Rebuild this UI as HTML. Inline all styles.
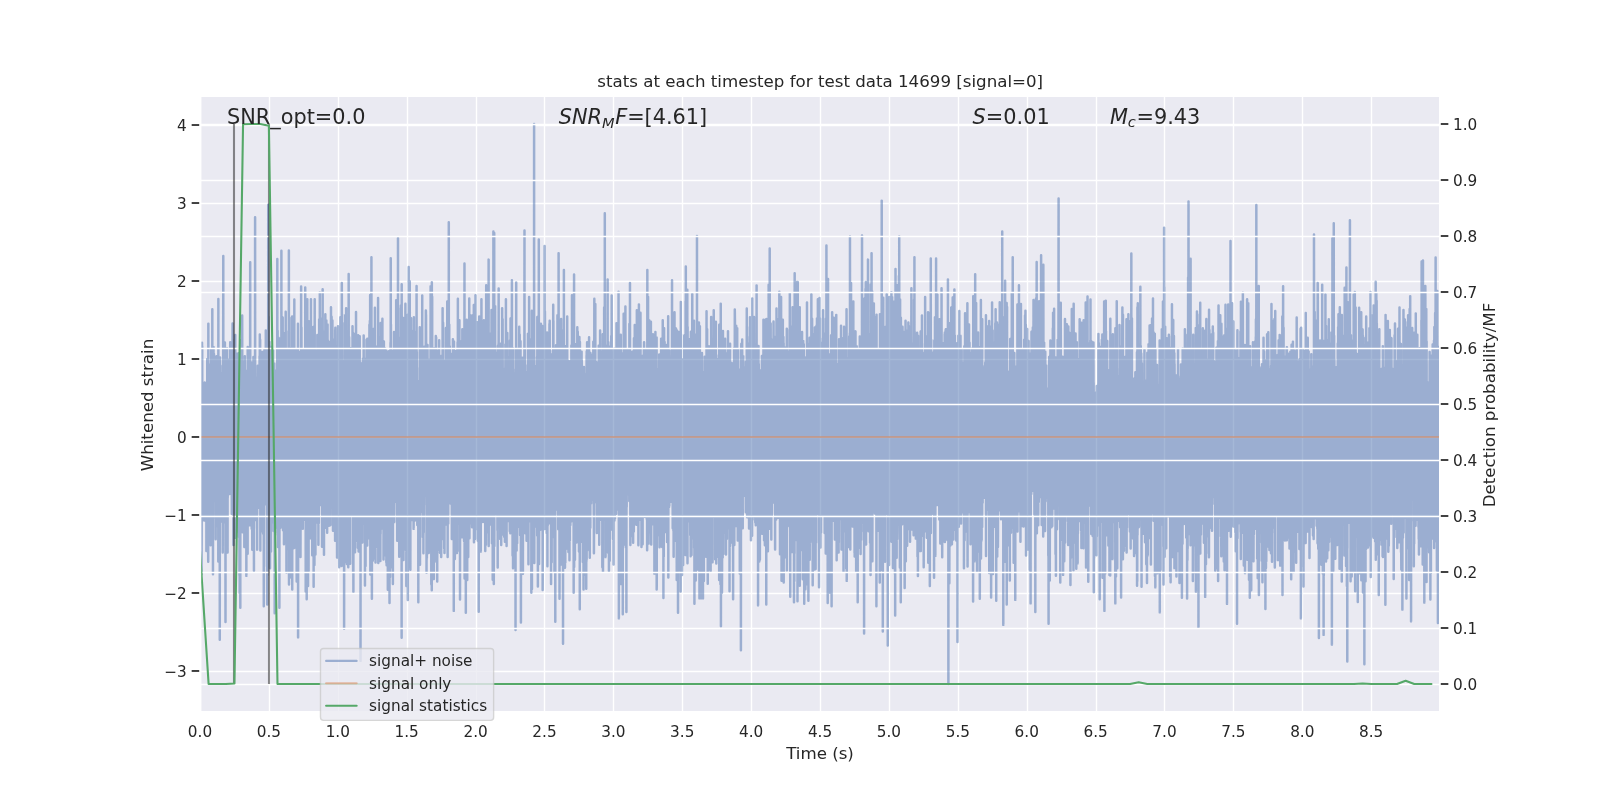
<!DOCTYPE html>
<html lang="en"><head><meta charset="utf-8"><title>stats at each timestep for test data 14699</title><style>html,body{margin:0;padding:0;background:#fff;width:1600px;height:800px;overflow:hidden;}svg{display:block;will-change:transform;}</style></head><body>
<svg width="1600" height="800" viewBox="0 0 1152 576" version="1.1">
<defs>
<style type="text/css">*{stroke-linejoin: round; stroke-linecap: butt}</style>
</defs>
<g id="figure_1">
<g id="patch_1">
<path d="M 0 576 L 1152 576 L 1152 0 L 0 0 z" style="fill: #ffffff"/>
</g>
<g id="axes_1">
<g id="patch_2">
<path d="M 144 512.64 L 1036.8 512.64 L 1036.8 69.12 L 144 69.12 z" style="fill: #eaeaf2"/>
</g>
<g id="matplotlib.axis_1">
<g id="xtick_1">
<g id="line2d_1">
<path d="M 144.36 512.64 L 144.36 69.12" clip-path="url(#pf2e12d0631)" style="fill: none; stroke: #ffffff; stroke-linecap: round"/>
</g>
<g id="text_1">
<text style="font-size: 11px; font-family: 'DejaVu Sans', sans-serif; text-anchor: middle; fill: #262626" x="144" y="530.498281" transform="rotate(-0 144 530.498281)">0.0</text>
</g>
</g>
<g id="xtick_2">
<g id="line2d_2">
<path d="M 194.04 512.64 L 194.04 69.12" clip-path="url(#pf2e12d0631)" style="fill: none; stroke: #ffffff; stroke-linecap: round"/>
</g>
<g id="text_2">
<text style="font-size: 11px; font-family: 'DejaVu Sans', sans-serif; text-anchor: middle; fill: #262626" x="193.602691" y="530.498281" transform="rotate(-0 193.602691 530.498281)">0.5</text>
</g>
</g>
<g id="xtick_3">
<g id="line2d_3">
<path d="M 243.72 512.64 L 243.72 69.12" clip-path="url(#pf2e12d0631)" style="fill: none; stroke: #ffffff; stroke-linecap: round"/>
</g>
<g id="text_3">
<text style="font-size: 11px; font-family: 'DejaVu Sans', sans-serif; text-anchor: middle; fill: #262626" x="243.205382" y="530.498281" transform="rotate(-0 243.205382 530.498281)">1.0</text>
</g>
</g>
<g id="xtick_4">
<g id="line2d_4">
<path d="M 293.4 512.64 L 293.4 69.12" clip-path="url(#pf2e12d0631)" style="fill: none; stroke: #ffffff; stroke-linecap: round"/>
</g>
<g id="text_4">
<text style="font-size: 11px; font-family: 'DejaVu Sans', sans-serif; text-anchor: middle; fill: #262626" x="292.808073" y="530.498281" transform="rotate(-0 292.808073 530.498281)">1.5</text>
</g>
</g>
<g id="xtick_5">
<g id="line2d_5">
<path d="M 343.08 512.64 L 343.08 69.12" clip-path="url(#pf2e12d0631)" style="fill: none; stroke: #ffffff; stroke-linecap: round"/>
</g>
<g id="text_5">
<text style="font-size: 11px; font-family: 'DejaVu Sans', sans-serif; text-anchor: middle; fill: #262626" x="342.410764" y="530.498281" transform="rotate(-0 342.410764 530.498281)">2.0</text>
</g>
</g>
<g id="xtick_6">
<g id="line2d_6">
<path d="M 392.04 512.64 L 392.04 69.12" clip-path="url(#pf2e12d0631)" style="fill: none; stroke: #ffffff; stroke-linecap: round"/>
</g>
<g id="text_6">
<text style="font-size: 11px; font-family: 'DejaVu Sans', sans-serif; text-anchor: middle; fill: #262626" x="392.013456" y="530.498281" transform="rotate(-0 392.013456 530.498281)">2.5</text>
</g>
</g>
<g id="xtick_7">
<g id="line2d_7">
<path d="M 441.72 512.64 L 441.72 69.12" clip-path="url(#pf2e12d0631)" style="fill: none; stroke: #ffffff; stroke-linecap: round"/>
</g>
<g id="text_7">
<text style="font-size: 11px; font-family: 'DejaVu Sans', sans-serif; text-anchor: middle; fill: #262626" x="441.616147" y="530.498281" transform="rotate(-0 441.616147 530.498281)">3.0</text>
</g>
</g>
<g id="xtick_8">
<g id="line2d_8">
<path d="M 491.4 512.64 L 491.4 69.12" clip-path="url(#pf2e12d0631)" style="fill: none; stroke: #ffffff; stroke-linecap: round"/>
</g>
<g id="text_8">
<text style="font-size: 11px; font-family: 'DejaVu Sans', sans-serif; text-anchor: middle; fill: #262626" x="491.218838" y="530.498281" transform="rotate(-0 491.218838 530.498281)">3.5</text>
</g>
</g>
<g id="xtick_9">
<g id="line2d_9">
<path d="M 541.08 512.64 L 541.08 69.12" clip-path="url(#pf2e12d0631)" style="fill: none; stroke: #ffffff; stroke-linecap: round"/>
</g>
<g id="text_9">
<text style="font-size: 11px; font-family: 'DejaVu Sans', sans-serif; text-anchor: middle; fill: #262626" x="540.821529" y="530.498281" transform="rotate(-0 540.821529 530.498281)">4.0</text>
</g>
</g>
<g id="xtick_10">
<g id="line2d_10">
<path d="M 590.76 512.64 L 590.76 69.12" clip-path="url(#pf2e12d0631)" style="fill: none; stroke: #ffffff; stroke-linecap: round"/>
</g>
<g id="text_10">
<text style="font-size: 11px; font-family: 'DejaVu Sans', sans-serif; text-anchor: middle; fill: #262626" x="590.42422" y="530.498281" transform="rotate(-0 590.42422 530.498281)">4.5</text>
</g>
</g>
<g id="xtick_11">
<g id="line2d_11">
<path d="M 640.44 512.64 L 640.44 69.12" clip-path="url(#pf2e12d0631)" style="fill: none; stroke: #ffffff; stroke-linecap: round"/>
</g>
<g id="text_11">
<text style="font-size: 11px; font-family: 'DejaVu Sans', sans-serif; text-anchor: middle; fill: #262626" x="640.026911" y="530.498281" transform="rotate(-0 640.026911 530.498281)">5.0</text>
</g>
</g>
<g id="xtick_12">
<g id="line2d_12">
<path d="M 690.12 512.64 L 690.12 69.12" clip-path="url(#pf2e12d0631)" style="fill: none; stroke: #ffffff; stroke-linecap: round"/>
</g>
<g id="text_12">
<text style="font-size: 11px; font-family: 'DejaVu Sans', sans-serif; text-anchor: middle; fill: #262626" x="689.629602" y="530.498281" transform="rotate(-0 689.629602 530.498281)">5.5</text>
</g>
</g>
<g id="xtick_13">
<g id="line2d_13">
<path d="M 739.8 512.64 L 739.8 69.12" clip-path="url(#pf2e12d0631)" style="fill: none; stroke: #ffffff; stroke-linecap: round"/>
</g>
<g id="text_13">
<text style="font-size: 11px; font-family: 'DejaVu Sans', sans-serif; text-anchor: middle; fill: #262626" x="739.232293" y="530.498281" transform="rotate(-0 739.232293 530.498281)">6.0</text>
</g>
</g>
<g id="xtick_14">
<g id="line2d_14">
<path d="M 789.48 512.64 L 789.48 69.12" clip-path="url(#pf2e12d0631)" style="fill: none; stroke: #ffffff; stroke-linecap: round"/>
</g>
<g id="text_14">
<text style="font-size: 11px; font-family: 'DejaVu Sans', sans-serif; text-anchor: middle; fill: #262626" x="788.834985" y="530.498281" transform="rotate(-0 788.834985 530.498281)">6.5</text>
</g>
</g>
<g id="xtick_15">
<g id="line2d_15">
<path d="M 838.44 512.64 L 838.44 69.12" clip-path="url(#pf2e12d0631)" style="fill: none; stroke: #ffffff; stroke-linecap: round"/>
</g>
<g id="text_15">
<text style="font-size: 11px; font-family: 'DejaVu Sans', sans-serif; text-anchor: middle; fill: #262626" x="838.437676" y="530.498281" transform="rotate(-0 838.437676 530.498281)">7.0</text>
</g>
</g>
<g id="xtick_16">
<g id="line2d_16">
<path d="M 888.12 512.64 L 888.12 69.12" clip-path="url(#pf2e12d0631)" style="fill: none; stroke: #ffffff; stroke-linecap: round"/>
</g>
<g id="text_16">
<text style="font-size: 11px; font-family: 'DejaVu Sans', sans-serif; text-anchor: middle; fill: #262626" x="888.040367" y="530.498281" transform="rotate(-0 888.040367 530.498281)">7.5</text>
</g>
</g>
<g id="xtick_17">
<g id="line2d_17">
<path d="M 937.8 512.64 L 937.8 69.12" clip-path="url(#pf2e12d0631)" style="fill: none; stroke: #ffffff; stroke-linecap: round"/>
</g>
<g id="text_17">
<text style="font-size: 11px; font-family: 'DejaVu Sans', sans-serif; text-anchor: middle; fill: #262626" x="937.643058" y="530.498281" transform="rotate(-0 937.643058 530.498281)">8.0</text>
</g>
</g>
<g id="xtick_18">
<g id="line2d_18">
<path d="M 987.48 512.64 L 987.48 69.12" clip-path="url(#pf2e12d0631)" style="fill: none; stroke: #ffffff; stroke-linecap: round"/>
</g>
<g id="text_18">
<text style="font-size: 11px; font-family: 'DejaVu Sans', sans-serif; text-anchor: middle; fill: #262626" x="987.245749" y="530.498281" transform="rotate(-0 987.245749 530.498281)">8.5</text>
</g>
</g>
<g id="text_19">
<text style="font-size: 12px; font-family: 'DejaVu Sans', sans-serif; text-anchor: middle; fill: #262626" x="590.4" y="545.904063" transform="translate(0.000 0.720) rotate(-0 590.4 545.904063)">Time (s)</text>
</g>
</g>
<g id="matplotlib.axis_2">
<g id="ytick_1">
<g id="line2d_19">
<path d="M 144 483.48 L 1036.8 483.48" clip-path="url(#pf2e12d0631)" style="fill: none; stroke: #ffffff; stroke-linecap: round"/>
</g>
<g id="line2d_20">
<g>
<path d="M 144 483.1 L 138 483.1" style="fill: none; stroke: #262626; stroke-width: 1.25"/>
</g>
</g>
<g id="text_20">
<text style="font-size: 11px; font-family: 'DejaVu Sans', sans-serif; text-anchor: end; fill: #262626" x="134.5" y="487.28109" transform="rotate(-0 134.5 487.28109)">−3</text>
</g>
</g>
<g id="ytick_2">
<g id="line2d_21">
<path d="M 144 427.32 L 1036.8 427.32" clip-path="url(#pf2e12d0631)" style="fill: none; stroke: #ffffff; stroke-linecap: round"/>
</g>
<g id="line2d_22">
<g>
<path d="M 144 426.95 L 138 426.95" style="fill: none; stroke: #262626; stroke-width: 1.25"/>
</g>
</g>
<g id="text_21">
<text style="font-size: 11px; font-family: 'DejaVu Sans', sans-serif; text-anchor: end; fill: #262626" x="134.5" y="431.125102" transform="rotate(-0 134.5 431.125102)">−2</text>
</g>
</g>
<g id="ytick_3">
<g id="line2d_23">
<path d="M 144 371.16 L 1036.8 371.16" clip-path="url(#pf2e12d0631)" style="fill: none; stroke: #ffffff; stroke-linecap: round"/>
</g>
<g id="line2d_24">
<g>
<path d="M 144 370.79 L 138 370.79" style="fill: none; stroke: #262626; stroke-width: 1.25"/>
</g>
</g>
<g id="text_22">
<text style="font-size: 11px; font-family: 'DejaVu Sans', sans-serif; text-anchor: end; fill: #262626" x="134.5" y="374.969113" transform="rotate(-0 134.5 374.969113)">−1</text>
</g>
</g>
<g id="ytick_4">
<g id="line2d_25">
<path d="M 144 315 L 1036.8 315" clip-path="url(#pf2e12d0631)" style="fill: none; stroke: #ffffff; stroke-linecap: round"/>
</g>
<g id="line2d_26">
<g>
<path d="M 144 314.63 L 138 314.63" style="fill: none; stroke: #262626; stroke-width: 1.25"/>
</g>
</g>
<g id="text_23">
<text style="font-size: 11px; font-family: 'DejaVu Sans', sans-serif; text-anchor: end; fill: #262626" x="134.5" y="318.813124" transform="rotate(-0 134.5 318.813124)">0</text>
</g>
</g>
<g id="ytick_5">
<g id="line2d_27">
<path d="M 144 258.84 L 1036.8 258.84" clip-path="url(#pf2e12d0631)" style="fill: none; stroke: #ffffff; stroke-linecap: round"/>
</g>
<g id="line2d_28">
<g>
<path d="M 144 258.48 L 138 258.48" style="fill: none; stroke: #262626; stroke-width: 1.25"/>
</g>
</g>
<g id="text_24">
<text style="font-size: 11px; font-family: 'DejaVu Sans', sans-serif; text-anchor: end; fill: #262626" x="134.5" y="262.657135" transform="rotate(-0 134.5 262.657135)">1</text>
</g>
</g>
<g id="ytick_6">
<g id="line2d_29">
<path d="M 144 202.68 L 1036.8 202.68" clip-path="url(#pf2e12d0631)" style="fill: none; stroke: #ffffff; stroke-linecap: round"/>
</g>
<g id="line2d_30">
<g>
<path d="M 144 202.32 L 138 202.32" style="fill: none; stroke: #262626; stroke-width: 1.25"/>
</g>
</g>
<g id="text_25">
<text style="font-size: 11px; font-family: 'DejaVu Sans', sans-serif; text-anchor: end; fill: #262626" x="134.5" y="206.501146" transform="rotate(-0 134.5 206.501146)">2</text>
</g>
</g>
<g id="ytick_7">
<g id="line2d_31">
<path d="M 144 146.52 L 1036.8 146.52" clip-path="url(#pf2e12d0631)" style="fill: none; stroke: #ffffff; stroke-linecap: round"/>
</g>
<g id="line2d_32">
<g>
<path d="M 144 146.17 L 138 146.17" style="fill: none; stroke: #262626; stroke-width: 1.25"/>
</g>
</g>
<g id="text_26">
<text style="font-size: 11px; font-family: 'DejaVu Sans', sans-serif; text-anchor: end; fill: #262626" x="134.5" y="150.345157" transform="rotate(-0 134.5 150.345157)">3</text>
</g>
</g>
<g id="ytick_8">
<g id="line2d_33">
<path d="M 144 90.36 L 1036.8 90.36" clip-path="url(#pf2e12d0631)" style="fill: none; stroke: #ffffff; stroke-linecap: round"/>
</g>
<g id="line2d_34">
<g>
<path d="M 144 90.01 L 138 90.01" style="fill: none; stroke: #262626; stroke-width: 1.25"/>
</g>
</g>
<g id="text_27">
<text style="font-size: 11px; font-family: 'DejaVu Sans', sans-serif; text-anchor: end; fill: #262626" x="134.5" y="94.189168" transform="rotate(-0 134.5 94.189168)">4</text>
</g>
</g>
<g id="text_28">
<text style="font-size: 12px; font-family: 'DejaVu Sans', sans-serif; text-anchor: middle; fill: #262626" x="111.787969" y="290.88" transform="translate(-1.620 0.720) rotate(-90 111.787969 290.88)">Whitened strain</text>
</g>
</g>
<g id="line2d_35">
<path d="M 144 303.56 L 144.05 288.31 L 144.1 304.05 L 144.15 362.13 L 144.19 285.63 L 144.24 300.33 L 144.29 334.2 L 144.34 296.02 L 144.48 313.72 L 144.53 297.12 L 144.58 341.47 L 144.68 332.2 L 144.73 295.45 L 144.78 313.36 L 144.87 343.13 L 144.92 324.01 L 145.07 273.17 L 145.02 324.68 L 145.11 282.38 L 145.16 413.44 L 145.21 383.48 L 145.36 307.79 L 145.4 307.67 L 145.45 246.78 L 145.5 355.16 L 145.55 328.4 L 145.6 249.19 L 145.65 293.91 L 145.7 293.39 L 145.79 374.7 L 145.84 309.27 L 145.89 311.14 L 145.94 359.36 L 145.99 339.53 L 146.03 317.26 L 146.08 349.06 L 146.13 318.22 L 146.18 311.57 L 146.23 313.49 L 146.28 333.09 L 146.37 286.08 L 146.42 304.35 L 146.47 344.45 L 146.62 286.47 L 146.66 353.69 L 146.71 285.34 L 146.81 360.14 L 146.86 326.07 L 146.95 305.89 L 147.05 354.99 L 147.2 307.09 L 147.25 290.3 L 147.29 374.72 L 147.34 306.48 L 147.39 275.4 L 147.49 344.18 L 147.63 285.93 L 147.73 368.64 L 147.78 318.64 L 147.83 330.88 L 147.88 289.79 L 147.92 308.43 L 147.97 374.07 L 148.02 358.19 L 148.07 286.32 L 148.12 292.86 L 148.17 337.97 L 148.21 314.67 L 148.36 286.56 L 148.5 324.07 L 148.55 280.81 L 148.6 396.66 L 148.65 319.69 L 148.7 313.58 L 148.75 366.58 L 148.8 303.97 L 148.84 338.37 L 148.89 287 L 148.99 293.2 L 149.04 275.58 L 149.18 369.82 L 149.23 258.46 L 149.28 318.69 L 149.33 339.73 L 149.47 287.33 L 149.62 340.68 L 149.72 352.31 L 149.81 265.81 L 149.91 404.51 L 150.01 233 L 150.1 360.21 L 150.15 295.76 L 150.2 345.27 L 150.35 297.59 L 150.39 329.4 L 150.49 321.07 L 150.64 349.27 L 150.68 314.43 L 150.73 355.59 L 150.78 354.46 L 150.83 267.96 L 150.88 316.57 L 150.93 316.6 L 150.98 298.25 L 151.02 329.97 L 151.07 322.96 L 151.12 301.01 L 151.17 305.59 L 151.22 356.88 L 151.27 287.94 L 151.31 336.15 L 151.36 353.12 L 151.41 347.45 L 151.46 328.87 L 151.51 262.5 L 151.65 392.54 L 151.75 285.81 L 151.8 323.26 L 151.85 337.57 L 152.04 251.44 L 152.14 336.22 L 152.19 319.23 L 152.38 309.06 L 152.43 375.53 L 152.48 288.05 L 152.53 335.58 L 152.57 357.39 L 152.67 272.43 L 152.72 298.84 L 152.77 309.47 L 152.82 348.61 L 152.86 222.63 L 152.91 286.43 L 152.96 356.15 L 153.01 343.05 L 153.06 311.85 L 153.11 371.29 L 153.16 309.23 L 153.2 331.36 L 153.25 275.35 L 153.3 283.81 L 153.35 413.44 L 153.4 313.3 L 153.45 373.58 L 153.49 279.08 L 153.59 297.06 L 153.64 353.45 L 153.74 249.91 L 153.78 353.44 L 153.88 339.17 L 153.93 315.49 L 153.98 360.76 L 154.03 254.81 L 154.08 349.95 L 154.17 298.57 L 154.22 338.23 L 154.32 335.18 L 154.37 319.5 L 154.41 357.29 L 154.46 330.6 L 154.61 312.82 L 154.66 325.32 L 154.71 290.5 L 154.75 326.41 L 154.8 319.61 L 154.95 360.72 L 155 298.01 L 155.04 356.27 L 155.19 301.74 L 155.24 329.22 L 155.29 388.22 L 155.33 301.16 L 155.38 306.32 L 155.43 366.11 L 155.48 289.95 L 155.58 355.68 L 155.72 308.14 L 155.77 373.15 L 155.82 256.57 L 155.87 336.6 L 155.92 370.74 L 155.96 294.81 L 156.06 304.23 L 156.11 327.01 L 156.16 316.81 L 156.21 306.76 L 156.26 341.84 L 156.3 292.89 L 156.35 331.76 L 156.4 346.33 L 156.5 300.38 L 156.59 346.07 L 156.64 294.78 L 156.69 378.79 L 156.74 352.2 L 156.79 313.37 L 156.84 364.24 L 156.89 313.74 L 156.93 316.63 L 156.98 285.84 L 157.03 347.97 L 157.08 337.44 L 157.13 303.96 L 157.18 404.2 L 157.22 215.31 L 157.27 340.1 L 157.32 341.23 L 157.37 287.04 L 157.42 316.09 L 157.47 379.48 L 157.56 287.23 L 157.61 331.03 L 157.66 324.9 L 157.71 299.06 L 157.76 347.75 L 157.81 300.59 L 157.85 308.25 L 157.95 365.37 L 158.1 282.55 L 158.14 310.02 L 158.19 289.58 L 158.24 460.64 L 158.29 306.21 L 158.34 343.17 L 158.44 257.46 L 158.53 336.24 L 158.58 320.39 L 158.68 340.2 L 158.82 268.53 L 158.87 314.63 L 158.92 304.26 L 158.97 284.13 L 159.02 325.59 L 159.06 268.6 L 159.11 337.69 L 159.16 344.09 L 159.26 318.81 L 159.36 315.91 L 159.4 375.4 L 159.45 270.03 L 159.5 317.59 L 159.6 347.74 L 159.69 322.76 L 159.74 352.7 L 159.79 348.15 L 159.99 278.18 L 160.13 363.29 L 160.18 294.21 L 160.28 299.11 L 160.32 263.36 L 160.37 397.76 L 160.42 306.27 L 160.52 295.66 L 160.57 362.5 L 160.76 184.4 L 160.81 343.53 L 160.86 334.81 L 160.91 286.3 L 160.95 314.83 L 161 376 L 161.15 286.65 L 161.29 353.3 L 161.44 293.03 L 161.49 282.41 L 161.54 341.46 L 161.58 316.5 L 161.63 313.39 L 161.68 276.52 L 161.73 291.87 L 161.78 359.07 L 161.83 299.97 L 161.87 290.76 L 161.92 246.59 L 161.97 375.83 L 162.02 334.18 L 162.07 271.91 L 162.12 364.02 L 162.17 358.35 L 162.26 282.01 L 162.36 447.9 L 162.46 265.98 L 162.5 314.69 L 162.55 282.91 L 162.6 347.55 L 162.65 321.37 L 162.7 318.16 L 162.75 278.14 L 162.79 296.06 L 162.84 342.03 L 162.89 292.78 L 162.94 289.94 L 163.13 376.41 L 163.23 307.12 L 163.28 346.18 L 163.33 290.85 L 163.38 364.67 L 163.42 334.74 L 163.47 331.95 L 163.52 250.96 L 163.57 372.91 L 163.62 296.61 L 163.67 284.45 L 163.72 302.53 L 163.76 276.77 L 163.86 397.74 L 163.91 290.07 L 163.96 358.21 L 164.1 280.92 L 164.15 286.92 L 164.2 340.88 L 164.25 285.69 L 164.34 319.71 L 164.39 312.79 L 164.44 322.02 L 164.49 294.93 L 164.54 304.69 L 164.59 327.37 L 164.64 282.4 L 164.68 336.92 L 164.83 267.26 L 164.88 333.05 L 164.93 258.79 L 165.07 339.14 L 165.12 295.85 L 165.17 313.07 L 165.27 355.74 L 165.46 270.56 L 165.51 286.81 L 165.6 330.24 L 165.65 312.89 L 165.75 246.36 L 165.8 285.39 L 165.94 332.22 L 165.99 343.15 L 166.14 255.81 L 166.19 312.97 L 166.23 271.15 L 166.28 258.01 L 166.33 312.11 L 166.38 263.12 L 166.48 329.85 L 166.57 313.9 L 166.62 323.1 L 166.67 321.88 L 166.77 300.72 L 166.91 370.11 L 167.01 294.65 L 167.06 309.38 L 167.15 295.73 L 167.2 338.87 L 167.25 323.35 L 167.45 232.84 L 167.49 317.96 L 167.54 282.61 L 167.59 274.05 L 167.74 357.73 L 167.83 279.06 L 167.88 305.93 L 167.93 309.1 L 167.98 328.45 L 168.03 296.66 L 168.07 392.47 L 168.12 307.19 L 168.17 313.73 L 168.22 364.57 L 168.27 244.93 L 168.32 365.2 L 168.37 353.9 L 168.41 358.4 L 168.46 279.06 L 168.56 293.21 L 168.61 295.81 L 168.66 306.31 L 168.7 362.29 L 168.75 336.94 L 168.8 261.03 L 168.85 361.67 L 168.9 344.94 L 169 288.72 L 169.09 290.86 L 169.14 353.53 L 169.19 284.36 L 169.24 296.4 L 169.29 372.75 L 169.38 241.19 L 169.43 342.64 L 169.48 312.85 L 169.53 269.86 L 169.62 387.15 L 169.67 361.9 L 169.82 295.18 L 169.87 306.03 L 169.92 360.05 L 169.96 296.46 L 170.01 254.59 L 170.06 276.28 L 170.11 282.88 L 170.25 349.84 L 170.4 278.4 L 170.5 354.35 L 170.55 310.53 L 170.59 275.6 L 170.64 355.79 L 170.74 342.65 L 170.79 369.14 L 170.88 272.63 L 170.93 289 L 171.13 341.29 L 171.22 281.14 L 171.27 284.76 L 171.32 333.98 L 171.42 320.68 L 171.47 257.33 L 171.51 308.88 L 171.56 383.22 L 171.61 301.87 L 171.66 254.33 L 171.71 292.68 L 171.76 286.46 L 171.85 386.48 L 171.95 360.04 L 172.1 292.55 L 172.14 327.04 L 172.19 283.98 L 172.24 324.83 L 172.29 340.31 L 172.34 287.35 L 172.39 347.96 L 172.43 414.09 L 172.48 353.26 L 172.53 311.62 L 172.58 426.89 L 172.63 327.65 L 172.68 326.74 L 172.77 368.66 L 172.92 274.27 L 172.97 302.62 L 173.02 437.6 L 173.06 345.78 L 173.16 253.89 L 173.21 302.25 L 173.26 304.68 L 173.31 255.02 L 173.35 315.46 L 173.4 325.9 L 173.45 366.14 L 173.5 333.33 L 173.55 244.83 L 173.6 366.45 L 173.69 365.96 L 173.79 286.2 L 173.84 323.51 L 174.03 259.65 L 174.23 345.44 L 174.37 227.2 L 174.42 255.6 L 174.52 326.63 L 174.57 260.48 L 174.61 383.27 L 174.66 331.09 L 174.71 284.17 L 174.76 347.87 L 174.81 332.01 L 174.86 327.43 L 174.9 293.46 L 175 301.75 L 175.05 295.56 L 175.1 313.67 L 175.15 279.05 L 175.29 379.39 L 175.34 373.71 L 175.44 281.63 L 175.49 309.05 L 175.58 353.62 L 175.63 333.91 L 175.68 329.35 L 175.73 335.23 L 175.78 366.84 L 175.83 331.97 L 175.87 282.05 L 175.92 393.88 L 176.02 391.94 L 176.07 308.77 L 176.12 341.88 L 176.16 390.64 L 176.26 256.41 L 176.31 311.15 L 176.36 277.41 L 176.41 317.24 L 176.45 393.26 L 176.5 298.92 L 176.6 367.92 L 176.65 289.49 L 176.7 305.44 L 176.75 333.78 L 176.79 286.82 L 176.84 346.42 L 176.89 294.02 L 177.04 354.75 L 177.08 266.92 L 177.18 268.73 L 177.23 344.61 L 177.28 331.98 L 177.33 287.73 L 177.38 414.63 L 177.42 353.51 L 177.47 281.53 L 177.57 283.28 L 177.76 364.63 L 177.81 376.4 L 177.91 334.64 L 177.96 337.57 L 178 311.41 L 178.05 387.47 L 178.1 334.05 L 178.15 305.44 L 178.2 335.73 L 178.25 346.59 L 178.3 398.76 L 178.34 249.87 L 178.44 260.7 L 178.49 264.63 L 178.68 356.66 L 178.83 297.59 L 178.93 259.12 L 179.07 343.49 L 179.12 347.24 L 179.17 337.16 L 179.22 350.42 L 179.36 273.87 L 179.56 356.58 L 179.6 300.31 L 179.65 306.04 L 179.75 295.88 L 179.8 378.11 L 179.85 321.16 L 179.94 333.92 L 179.99 354.12 L 180.14 188.79 L 180.23 361.99 L 180.28 328.46 L 180.33 358.13 L 180.43 276.15 L 180.48 304.48 L 180.52 337.01 L 180.57 328.64 L 180.62 308.51 L 180.67 368.03 L 180.72 310.31 L 180.77 308.73 L 180.81 335.13 L 180.86 330.52 L 180.91 309.68 L 181.01 345.41 L 181.15 261.18 L 181.25 380.66 L 181.35 284.5 L 181.44 369.41 L 181.49 317.28 L 181.54 379.9 L 181.59 328.18 L 181.64 395.84 L 181.69 324.48 L 181.73 393.69 L 181.83 266.63 L 181.88 325.69 L 181.93 290.85 L 182.07 371.13 L 182.22 263.36 L 182.27 359.57 L 182.32 324.4 L 182.36 313.46 L 182.46 256.99 L 182.61 380.45 L 182.66 272.79 L 182.7 319.65 L 182.85 411.01 L 182.8 318.38 L 182.9 380.28 L 182.95 285.89 L 183.04 311.44 L 183.09 353.6 L 183.19 258.44 L 183.24 361.9 L 183.33 332.71 L 183.38 304.61 L 183.43 316.09 L 183.48 322.07 L 183.53 349.31 L 183.58 317.21 L 183.62 339.41 L 183.67 156.39 L 183.72 318.99 L 183.77 295.03 L 183.82 338.25 L 183.87 328.64 L 183.91 281.37 L 183.96 324.75 L 184.01 326.37 L 184.06 288.14 L 184.11 307.49 L 184.16 313.42 L 184.21 309.19 L 184.25 362.71 L 184.3 301.27 L 184.35 272.92 L 184.4 297.27 L 184.45 374.41 L 184.5 306.92 L 184.54 350.11 L 184.59 324.81 L 184.64 311.88 L 184.69 360.73 L 184.74 272.24 L 184.84 290 L 184.88 295.15 L 184.93 271.82 L 184.98 276.79 L 185.13 395.74 L 185.32 273.37 L 185.37 330.03 L 185.42 305.22 L 185.46 312.54 L 185.56 263.39 L 185.61 329.29 L 185.71 315.98 L 185.76 329.57 L 185.85 290.64 L 185.9 297.62 L 185.95 340.11 L 186.09 264.73 L 186.14 269.48 L 186.19 363.37 L 186.29 353.08 L 186.43 306.44 L 186.48 345.92 L 186.53 301.15 L 186.58 268.77 L 186.63 365.53 L 186.68 322.67 L 186.72 306.98 L 186.77 320.17 L 186.82 322.69 L 186.87 256.52 L 186.92 272.6 L 186.97 286.98 L 187.01 343.91 L 187.06 240.76 L 187.11 303.15 L 187.16 336.98 L 187.26 333.65 L 187.31 244.63 L 187.35 308.28 L 187.4 312.99 L 187.45 396.41 L 187.5 290.56 L 187.6 357.8 L 187.74 287.23 L 187.79 277.69 L 187.84 382.78 L 187.94 374.66 L 188.03 284.64 L 188.08 366.75 L 188.13 254.93 L 188.18 326.93 L 188.23 359.99 L 188.27 319.91 L 188.32 288.69 L 188.37 367.43 L 188.47 367.33 L 188.52 274.93 L 188.56 310.02 L 188.61 331.43 L 188.66 280.59 L 188.71 364.23 L 188.76 330.27 L 188.81 253.45 L 188.9 269.83 L 189 341.99 L 189.05 324.76 L 189.1 312.73 L 189.29 371.9 L 189.44 290.21 L 189.49 384.26 L 189.53 288.3 L 189.63 369.93 L 189.68 312.08 L 189.73 287.98 L 189.82 290.97 L 189.87 283.56 L 189.92 436.45 L 190.02 394.99 L 190.21 292.24 L 190.26 288.44 L 190.31 313.71 L 190.36 251.92 L 190.41 352.72 L 190.5 333.49 L 190.55 345.28 L 190.7 286.28 L 190.74 360.09 L 190.84 347.71 L 190.89 324.39 L 190.94 329.64 L 190.99 358.67 L 191.04 293.1 L 191.08 363.15 L 191.13 352.98 L 191.23 282.29 L 191.28 292.63 L 191.33 303.72 L 191.37 238.01 L 191.42 361.81 L 191.52 353.52 L 191.67 277.5 L 191.71 282.18 L 191.86 353.47 L 191.91 240.01 L 191.96 282.28 L 192.15 328.48 L 192.2 327.7 L 192.25 407.93 L 192.29 317.57 L 192.34 329.96 L 192.39 435.3 L 192.44 308 L 192.49 286.05 L 192.63 414.16 L 192.68 357.76 L 192.73 256.24 L 192.78 362.33 L 192.88 290.98 L 192.97 290.44 L 193.02 370.47 L 193.07 389.27 L 193.12 147.46 L 193.17 379.24 L 193.31 303.88 L 193.36 355.34 L 193.41 228.07 L 193.46 318.89 L 193.51 316.96 L 193.55 299.5 L 193.65 339.69 L 193.84 282.8 L 193.94 345.28 L 193.99 246.28 L 194.04 324.43 L 194.18 266.24 L 194.23 367.69 L 194.28 333.79 L 194.38 326.83 L 194.43 409.07 L 194.47 318.83 L 194.52 280.73 L 194.57 304.75 L 194.67 294.4 L 194.72 362.03 L 194.77 282.07 L 194.81 348.74 L 194.86 362.91 L 194.91 353.28 L 194.96 348.1 L 195.06 286.48 L 195.1 397.08 L 195.15 336.1 L 195.2 283.77 L 195.3 297.3 L 195.39 281.85 L 195.44 376.03 L 195.59 249.63 L 195.73 338.39 L 195.78 333.5 L 195.83 274.14 L 195.88 314.58 L 195.93 319.63 L 195.98 369.97 L 196.02 309.41 L 196.07 292.24 L 196.12 345.81 L 196.17 334.54 L 196.22 259.8 L 196.27 308.45 L 196.36 359.31 L 196.41 338.98 L 196.46 324.46 L 196.56 338.64 L 196.61 252.27 L 196.65 351.17 L 196.7 328.71 L 196.75 285.3 L 196.8 324.09 L 196.85 347.33 L 196.9 319.83 L 196.95 299.01 L 196.99 382.24 L 197.04 324.43 L 197.09 318.94 L 197.14 330.55 L 197.19 289.01 L 197.24 337.06 L 197.33 313.32 L 197.38 289.21 L 197.43 323.37 L 197.48 261.71 L 197.53 350.49 L 197.62 348.53 L 197.72 301.91 L 197.77 441.49 L 197.82 283.32 L 197.87 330.69 L 197.91 269.2 L 197.96 323.09 L 198.01 345.96 L 198.16 281.25 L 198.2 336.41 L 198.25 301.27 L 198.3 292.4 L 198.45 342.3 L 198.5 282.94 L 198.59 297.22 L 198.74 355.82 L 198.83 287.76 L 198.88 311.37 L 199.03 266.69 L 199.12 379.81 L 199.17 299.42 L 199.22 321.21 L 199.27 353.41 L 199.32 291.71 L 199.42 298.95 L 199.46 327.87 L 199.51 307.69 L 199.56 305.67 L 199.66 186.48 L 199.8 383.44 L 199.85 378.59 L 199.9 238.19 L 199.95 385.17 L 200 294.33 L 200.05 348.51 L 200.09 345.12 L 200.14 393.84 L 200.19 350.63 L 200.24 286.91 L 200.29 370.15 L 200.34 293.58 L 200.38 303.55 L 200.43 243.22 L 200.48 333.62 L 200.53 269.91 L 200.63 326.11 L 200.67 381.23 L 200.72 261.16 L 200.77 369.29 L 200.92 275.06 L 200.97 348.53 L 201.01 315.92 L 201.06 325.01 L 201.11 272.7 L 201.16 437.6 L 201.21 388.08 L 201.26 282.09 L 201.3 332.09 L 201.35 314.13 L 201.4 359.18 L 201.45 243.83 L 201.5 308.72 L 201.55 344.25 L 201.64 337.77 L 201.84 259.78 L 201.98 380.03 L 202.03 345.06 L 202.08 277.09 L 202.13 328.14 L 202.18 341.54 L 202.23 309.7 L 202.27 371.71 L 202.32 360.59 L 202.37 296.42 L 202.42 326.87 L 202.47 332.93 L 202.56 338.25 L 202.61 180.58 L 202.66 333.21 L 202.76 312.49 L 202.81 362.92 L 202.85 326.88 L 202.95 247.67 L 203 360.84 L 203.05 302.51 L 203.1 325.1 L 203.24 261.87 L 203.34 336.72 L 203.39 336.46 L 203.53 228.57 L 203.58 254.46 L 203.73 368.64 L 203.78 381.83 L 203.82 287.91 L 203.87 294.8 L 203.92 356.81 L 203.97 255.53 L 204.02 354.35 L 204.07 362.09 L 204.11 291.15 L 204.16 306.68 L 204.21 321.16 L 204.26 317.36 L 204.31 306.57 L 204.36 320.31 L 204.4 321.65 L 204.45 391.81 L 204.5 369.27 L 204.55 292.61 L 204.65 294.97 L 204.7 270.06 L 204.74 329.1 L 204.79 304.42 L 204.84 239.67 L 204.94 248.11 L 205.03 287.41 L 205.18 360.02 L 205.23 297.05 L 205.28 297.7 L 205.33 321.77 L 205.37 283.93 L 205.42 339.34 L 205.47 274.44 L 205.57 316.12 L 205.62 314.65 L 205.66 318.67 L 205.71 224.44 L 205.76 380.59 L 205.81 308.21 L 205.86 269.51 L 205.91 288.6 L 205.95 327.01 L 206 251.48 L 206.1 368.18 L 206.15 294 L 206.2 374.28 L 206.25 412.17 L 206.29 282.55 L 206.39 288.01 L 206.54 354.28 L 206.58 251.52 L 206.63 285.84 L 206.68 287.61 L 206.73 394.78 L 206.78 285.23 L 206.83 260.21 L 206.88 270.32 L 207.02 328.7 L 207.07 292.69 L 207.12 300.67 L 207.17 306.01 L 207.21 327.37 L 207.26 253.27 L 207.31 362.75 L 207.41 338.55 L 207.51 262.37 L 207.55 269.17 L 207.6 287.02 L 207.65 372.51 L 207.7 238.52 L 207.75 295.73 L 207.89 328.66 L 207.94 299.12 L 207.99 180.36 L 208.04 329.52 L 208.09 420.86 L 208.13 316.09 L 208.23 295.35 L 208.28 320.98 L 208.33 298.01 L 208.38 276.91 L 208.47 260.82 L 208.52 395.6 L 208.62 352.13 L 208.67 415.93 L 208.72 356.07 L 208.76 268.76 L 208.81 269 L 208.86 311.05 L 208.91 251.35 L 208.96 305.83 L 209.01 335.29 L 209.06 305.74 L 209.1 320.33 L 209.15 287.55 L 209.2 377.06 L 209.25 277.83 L 209.39 378.69 L 209.54 281.4 L 209.59 365.28 L 209.64 253.13 L 209.68 296.83 L 209.73 336.52 L 209.78 269.7 L 209.88 271.86 L 209.93 228.83 L 210.02 336.58 L 210.07 332.38 L 210.12 293.1 L 210.17 303.99 L 210.22 349.38 L 210.27 342.5 L 210.36 227.79 L 210.41 424.43 L 210.46 287.83 L 210.51 323.45 L 210.56 285.77 L 210.61 282.49 L 210.8 392.99 L 210.85 269.3 L 210.9 323.4 L 211.04 370.69 L 211.14 265.67 L 211.19 272.35 L 211.23 380.22 L 211.28 263.97 L 211.38 394.81 L 211.43 366.17 L 211.48 355.16 L 211.53 314.93 L 211.57 357.92 L 211.62 377.99 L 211.72 243.01 L 211.77 344.12 L 211.82 297.34 L 211.86 311.66 L 211.91 215.59 L 211.96 394.38 L 212.06 368.49 L 212.16 318.7 L 212.2 347.93 L 212.25 346.73 L 212.3 394.1 L 212.35 266.2 L 212.4 349.95 L 212.54 311.01 L 212.59 321.8 L 212.74 282.7 L 212.88 359.49 L 212.93 292.45 L 213.03 293.92 L 213.08 294.48 L 213.12 251.48 L 213.17 306.86 L 213.22 286.44 L 213.27 365.43 L 213.32 360.27 L 213.41 366.06 L 213.46 288.76 L 213.61 418.61 L 213.75 325.6 L 213.8 390.48 L 213.85 310.55 L 213.9 277.99 L 213.95 290.26 L 214.09 364.91 L 214.19 260.38 L 214.29 386.65 L 214.38 287.98 L 214.43 364.64 L 214.48 309.42 L 214.53 233.06 L 214.58 283.7 L 214.63 458.91 L 214.67 299.47 L 214.72 274.58 L 214.77 354.63 L 214.82 350.57 L 214.87 299.25 L 214.96 304.87 L 215.01 396 L 215.06 286 L 215.11 282.63 L 215.16 312.98 L 215.21 308.42 L 215.26 253.36 L 215.4 361.24 L 215.55 313.23 L 215.69 380.77 L 215.74 268.73 L 215.79 317.57 L 215.84 324.34 L 215.98 285.96 L 216.03 293.31 L 216.18 361.09 L 216.22 368.12 L 216.27 261.39 L 216.32 353.83 L 216.37 401.01 L 216.42 350.72 L 216.47 348.37 L 216.56 352.57 L 216.61 294.3 L 216.66 299.86 L 216.81 206.2 L 216.9 364.35 L 217 305.2 L 217.05 235.84 L 217.1 288.85 L 217.14 268.77 L 217.19 322.1 L 217.24 292.13 L 217.29 287.24 L 217.34 334.23 L 217.39 284.97 L 217.44 273.77 L 217.48 321.44 L 217.53 275.76 L 217.58 251.7 L 217.73 327.95 L 217.77 341.28 L 217.82 308.66 L 217.87 332.36 L 217.92 328.06 L 218.02 380.78 L 218.06 355 L 218.11 302.04 L 218.16 365.62 L 218.21 342.56 L 218.26 251.74 L 218.31 271.48 L 218.36 344.54 L 218.45 342.69 L 218.5 252.23 L 218.55 339.91 L 218.65 261.51 L 218.69 350.38 L 218.79 349.95 L 218.84 305.49 L 218.94 318.46 L 218.99 308.48 L 219.03 317.85 L 219.08 358.63 L 219.23 265.03 L 219.28 261.36 L 219.32 372.82 L 219.37 265.17 L 219.42 264.69 L 219.47 337.69 L 219.52 274.69 L 219.57 258.09 L 219.66 374.41 L 219.71 330.22 L 219.76 206.99 L 219.81 305.53 L 219.86 367.31 L 219.95 357.78 L 220.05 310.96 L 220.1 425.88 L 220.15 300.72 L 220.2 260.01 L 220.29 331.27 L 220.34 272.38 L 220.49 375.12 L 220.58 299.39 L 220.63 318.58 L 220.73 282.48 L 220.78 295.41 L 220.83 431.41 L 220.87 326.31 L 220.92 266.28 L 220.97 360.25 L 221.07 332.83 L 221.12 322.49 L 221.21 373.5 L 221.26 215.49 L 221.31 277.93 L 221.36 345.74 L 221.41 317.21 L 221.46 288.36 L 221.6 341.52 L 221.7 318.34 L 221.75 334.63 L 221.79 421.88 L 221.84 313.81 L 221.94 296.11 L 221.99 358.13 L 222.04 301.24 L 222.09 306.24 L 222.18 411.06 L 222.33 275.58 L 222.38 231.22 L 222.47 344.86 L 222.52 315.15 L 222.57 288.32 L 222.62 364.46 L 222.67 266.04 L 222.76 288.83 L 222.81 338.33 L 222.86 278.85 L 222.91 281.15 L 222.96 367.39 L 223.01 232.96 L 223.05 327.84 L 223.1 300.2 L 223.15 337.68 L 223.2 299.58 L 223.25 269.26 L 223.34 387.46 L 223.39 334.43 L 223.44 372.11 L 223.49 348.03 L 223.64 264.06 L 223.68 359.34 L 223.78 337 L 223.88 215.5 L 224.07 385.2 L 224.27 325.24 L 224.31 269.45 L 224.36 287.13 L 224.41 296.41 L 224.51 346.54 L 224.65 304.55 L 224.7 300.01 L 224.75 319.84 L 224.8 399.79 L 224.85 363.99 L 224.9 351.18 L 224.94 247.8 L 224.99 333.55 L 225.09 256.92 L 225.28 359.96 L 225.38 270.12 L 225.43 292.14 L 225.48 284.18 L 225.52 286.29 L 225.57 235.48 L 225.62 342.77 L 225.67 308.41 L 225.77 265.33 L 225.82 422.48 L 225.86 337.84 L 225.91 323.9 L 225.96 360.39 L 226.01 281.12 L 226.06 305.97 L 226.15 387.32 L 226.25 358.48 L 226.3 296.62 L 226.35 368.91 L 226.4 406.78 L 226.45 379.32 L 226.59 215.4 L 226.64 336.09 L 226.69 277.18 L 226.74 259.03 L 226.78 263.65 L 226.98 397.73 L 227.07 283.74 L 227.12 399.16 L 227.17 316.95 L 227.32 259.79 L 227.37 282.75 L 227.41 345.33 L 227.46 331.1 L 227.51 266.69 L 227.56 341.73 L 227.66 252.46 L 227.7 309.54 L 227.75 376.16 L 227.8 327.87 L 227.95 268.32 L 228 263.49 L 228.04 343.8 L 228.09 337.21 L 228.14 319.31 L 228.19 368.52 L 228.33 283.27 L 228.43 354.12 L 228.48 241.18 L 228.53 354.11 L 228.67 328.32 L 228.72 355.79 L 228.77 316.66 L 228.82 346.32 L 228.96 286.54 L 229.01 295.93 L 229.06 347.75 L 229.11 298.72 L 229.25 392.18 L 229.4 246.18 L 229.55 376.48 L 229.59 268.42 L 229.69 287.14 L 229.74 328.2 L 229.79 230.09 L 229.88 253.7 L 229.93 260.99 L 229.98 335.45 L 230.03 329.36 L 230.08 254.71 L 230.13 314.35 L 230.17 353.52 L 230.27 210.56 L 230.42 320.96 L 230.47 258.98 L 230.51 324.2 L 230.56 259.66 L 230.8 363.67 L 230.85 360.42 L 231 294.71 L 231.05 290.91 L 231.1 293.27 L 231.14 334.45 L 231.19 309.85 L 231.24 313.12 L 231.29 258.54 L 231.34 348.3 L 231.43 322.21 L 231.48 318.06 L 231.53 345.6 L 231.58 340.1 L 231.63 270.7 L 231.68 340.5 L 231.73 274.65 L 231.77 229.32 L 231.82 259.96 L 231.87 393.67 L 231.92 280.4 L 231.97 292.35 L 232.02 289.67 L 232.06 385.45 L 232.11 280.96 L 232.16 361.03 L 232.31 208.33 L 232.4 381.11 L 232.45 269.37 L 232.5 276.48 L 232.55 329.16 L 232.6 256.72 L 232.65 284.03 L 232.69 370.53 L 232.74 327.82 L 232.79 332.15 L 232.89 304.29 L 232.94 343.58 L 232.98 320.84 L 233.03 288.11 L 233.08 315.2 L 233.18 325.78 L 233.23 316.44 L 233.28 399.46 L 233.32 305.62 L 233.47 379.24 L 233.52 274.54 L 233.57 302.5 L 233.61 373.74 L 233.66 302.48 L 233.71 346.66 L 233.76 238.59 L 233.81 292.09 L 233.86 348.35 L 233.9 302.93 L 233.95 313.44 L 234 263.11 L 234.05 297.46 L 234.1 291.02 L 234.15 362.99 L 234.2 279.55 L 234.24 226.26 L 234.29 285.85 L 234.44 355.32 L 234.49 304.26 L 234.53 362 L 234.58 310.05 L 234.68 349.7 L 234.73 288.04 L 234.78 379.99 L 234.87 372.44 L 234.97 230.75 L 235.12 287.43 L 235.16 289.52 L 235.26 352.73 L 235.31 306.57 L 235.36 336.17 L 235.41 331.69 L 235.45 281.87 L 235.5 317.4 L 235.55 383.52 L 235.6 321.54 L 235.75 362.28 L 235.84 233.6 L 235.89 362.97 L 235.94 285.25 L 235.99 287.34 L 236.04 361.3 L 236.08 307.82 L 236.23 245.26 L 236.28 365.87 L 236.33 346.31 L 236.42 297.53 L 236.47 311.19 L 236.62 340.17 L 236.76 246.31 L 236.86 378.53 L 236.91 290.01 L 237.01 296.63 L 237.05 331.03 L 237.1 288.24 L 237.2 259.17 L 237.25 335.58 L 237.34 313.4 L 237.39 378.42 L 237.44 288.38 L 237.49 307.64 L 237.54 375.1 L 237.63 256.4 L 237.68 374.11 L 237.73 289.35 L 237.78 261.2 L 237.83 278.26 L 237.93 378.01 L 238.07 313.57 L 238.12 317.88 L 238.17 291.36 L 238.22 339.26 L 238.26 320.71 L 238.31 221.17 L 238.36 319.27 L 238.41 282.76 L 238.46 301.42 L 238.51 304.38 L 238.56 355.87 L 238.6 291.56 L 238.65 315.8 L 238.75 228.13 L 238.89 361.29 L 238.99 248.95 L 239.04 316.33 L 239.09 343.31 L 239.14 305.06 L 239.18 322.19 L 239.28 331 L 239.33 230.76 L 239.38 354.34 L 239.52 261.9 L 239.57 326.67 L 239.62 259.21 L 239.77 382.07 L 239.81 263.07 L 239.91 296.8 L 240.06 373.12 L 240.11 274.15 L 240.15 302.48 L 240.25 343.23 L 240.4 244.87 L 240.44 281.29 L 240.54 365.58 L 240.59 324.71 L 240.64 356.47 L 240.78 286.98 L 240.88 322.48 L 240.93 288.39 L 240.98 355.31 L 241.03 317.12 L 241.07 279.39 L 241.12 301.4 L 241.27 389.39 L 241.32 237.51 L 241.36 386.29 L 241.46 236.03 L 241.56 257.83 L 241.61 336.66 L 241.7 329.74 L 241.8 295.8 L 241.85 327.93 L 241.9 313.76 L 241.99 254.68 L 242.09 380.48 L 242.24 253.53 L 242.33 342.45 L 242.38 289.15 L 242.43 265.93 L 242.53 328.99 L 242.58 284.48 L 242.62 329.71 L 242.67 401.35 L 242.72 256.82 L 242.77 374.06 L 242.87 327.99 L 242.91 328.93 L 242.96 326.57 L 243.01 381.4 L 243.06 291.03 L 243.16 311.69 L 243.35 234.96 L 243.45 386.36 L 243.5 304.42 L 243.69 355.56 L 243.79 272.25 L 243.84 366.47 L 243.88 290.52 L 243.98 331.76 L 244.03 284.36 L 244.08 315.76 L 244.17 311.12 L 244.22 408.48 L 244.32 334.41 L 244.37 380.13 L 244.46 302.27 L 244.51 342.4 L 244.56 321.87 L 244.66 268.77 L 244.71 350.16 L 244.76 299.56 L 244.8 269.83 L 244.9 350.93 L 244.95 350.75 L 245 329.58 L 245.05 363.59 L 245.09 228.4 L 245.14 341.57 L 245.29 287.25 L 245.39 376.65 L 245.43 244.54 L 245.48 318.34 L 245.58 306.06 L 245.63 260.66 L 245.72 264.39 L 245.92 350.18 L 245.97 407.49 L 246.11 203.69 L 246.16 247.75 L 246.21 264.38 L 246.26 340.99 L 246.31 226.27 L 246.35 396.36 L 246.45 352.06 L 246.5 360.57 L 246.64 232.55 L 246.69 271.73 L 246.74 262.12 L 246.94 387.15 L 246.98 356.4 L 247.08 281.75 L 247.13 395.74 L 247.18 380.34 L 247.32 300.13 L 247.47 378.81 L 247.52 319.09 L 247.56 349.7 L 247.61 344.12 L 247.66 345.3 L 247.71 306.54 L 247.76 452.72 L 247.81 397.29 L 247.95 269.77 L 248.05 305.59 L 248.1 369.82 L 248.15 351.83 L 248.29 270.29 L 248.34 259.57 L 248.39 366 L 248.44 295.58 L 248.49 320.06 L 248.53 226.93 L 248.58 278.38 L 248.73 359.06 L 248.82 305.76 L 248.87 308.16 L 248.92 301.3 L 249.02 404.45 L 249.21 221.95 L 249.36 384.19 L 249.41 377.64 L 249.5 268.21 L 249.55 328.64 L 249.6 308.77 L 249.65 303.57 L 249.7 268.32 L 249.74 406.01 L 249.79 307.86 L 249.89 273.33 L 249.94 297.41 L 250.08 388.79 L 250.23 292.35 L 250.33 370.16 L 250.47 238.56 L 250.57 385.87 L 250.62 279.52 L 250.67 260.78 L 250.76 408.5 L 250.81 285.61 L 250.91 302.52 L 250.96 288.44 L 251 294.68 L 251.05 197.23 L 251.2 403.75 L 251.25 405.69 L 251.34 242.65 L 251.39 244 L 251.44 344.37 L 251.49 270.92 L 251.68 350.16 L 251.78 268.22 L 251.92 374.36 L 251.97 373.76 L 252.02 300.17 L 252.07 311.78 L 252.12 405.94 L 252.17 321.68 L 252.22 332.39 L 252.41 250.7 L 252.46 284.91 L 252.51 369.22 L 252.6 347.27 L 252.65 317.62 L 252.7 335.73 L 252.75 331.97 L 252.8 359.97 L 252.94 273.02 L 253.14 364.28 L 253.23 289.19 L 253.28 322.08 L 253.33 370.61 L 253.38 310.7 L 253.43 296.26 L 253.47 307.62 L 253.52 347.32 L 253.57 311.92 L 253.62 335.34 L 253.67 330.64 L 253.77 281.76 L 253.81 234.87 L 253.86 246.53 L 253.96 334.24 L 254.06 327.67 L 254.1 264.29 L 254.15 327.9 L 254.2 303.36 L 254.25 411.84 L 254.3 314.82 L 254.35 256.71 L 254.44 425.97 L 254.54 248.8 L 254.59 292.84 L 254.64 259.76 L 254.69 353.75 L 254.73 263.38 L 254.78 240.3 L 254.88 302.35 L 254.93 258.55 L 254.98 265.16 L 255.02 351.12 L 255.07 255.2 L 255.17 307.7 L 255.22 257.67 L 255.27 274.2 L 255.32 282.04 L 255.41 278.22 L 255.46 368.6 L 255.51 320.79 L 255.61 397.58 L 255.65 295.28 L 255.75 310.93 L 255.8 288.78 L 255.85 299.35 L 255.9 357.75 L 255.95 311.43 L 255.99 317.9 L 256.04 339.92 L 256.09 320.69 L 256.19 346.19 L 256.24 330.88 L 256.33 224.57 L 256.48 385.64 L 256.53 245.24 L 256.57 330.83 L 256.67 258.89 L 256.72 271.54 L 256.77 387.09 L 256.82 290.41 L 256.87 325.68 L 256.91 287.62 L 256.96 307.99 L 257.01 282.53 L 257.11 321.42 L 257.16 263.3 L 257.2 389.56 L 257.3 361 L 257.35 321.61 L 257.45 321.82 L 257.59 394.36 L 257.69 301.19 L 257.79 346.48 L 257.83 345.88 L 257.88 241.45 L 257.93 306.44 L 257.98 297.73 L 258.12 357.2 L 258.17 247.43 L 258.22 397 L 258.27 301.56 L 258.37 327.01 L 258.42 390.48 L 258.46 374.43 L 258.51 271.87 L 258.61 276.34 L 258.71 289.4 L 258.75 281.47 L 258.8 373.19 L 258.85 337.57 L 258.9 285.08 L 258.95 375.7 L 259 242.15 L 259.05 341.7 L 259.09 317.74 L 259.14 364.2 L 259.19 298.71 L 259.24 350.11 L 259.29 326.36 L 259.34 369.68 L 259.38 262.76 L 259.43 393.54 L 259.48 295 L 259.53 304.32 L 259.58 475.83 L 259.63 363.94 L 259.68 269.65 L 259.72 272.67 L 259.87 322.23 L 259.92 286.66 L 259.97 354.28 L 260.01 290.49 L 260.06 296.96 L 260.11 382.7 L 260.16 320.61 L 260.21 320.29 L 260.26 322.43 L 260.3 261.66 L 260.35 312.13 L 260.45 380.23 L 260.5 318.89 L 260.55 342.79 L 260.6 367.82 L 260.69 268.68 L 260.74 310.6 L 260.84 300.41 L 260.89 367.56 L 260.93 390.67 L 261.08 266.23 L 261.18 353.48 L 261.23 305.1 L 261.27 258.34 L 261.37 365.74 L 261.42 346.49 L 261.56 376.86 L 261.66 266.44 L 261.71 332.05 L 261.76 280.47 L 261.81 275.19 L 261.85 241.49 L 261.95 331.44 L 262.15 258.34 L 262.29 361.81 L 262.34 322.3 L 262.39 347 L 262.44 351.05 L 262.63 279.75 L 262.73 271.09 L 262.78 421.58 L 262.87 283.81 L 263.02 352.17 L 263.07 275.81 L 263.11 328.04 L 263.21 407.6 L 263.31 258.28 L 263.36 262.95 L 263.5 351.38 L 263.55 261.8 L 263.6 287.6 L 263.7 376 L 263.74 344.78 L 263.89 244.58 L 263.94 351.8 L 263.99 331.88 L 264.03 254.7 L 264.08 305.1 L 264.13 281.51 L 264.18 377.92 L 264.23 332.33 L 264.28 315.39 L 264.33 331.59 L 264.37 334.45 L 264.42 392.81 L 264.47 243.96 L 264.52 308.18 L 264.57 384.22 L 264.62 267.81 L 264.71 283.28 L 264.81 351.63 L 264.86 350.4 L 264.95 280.5 L 265 292.8 L 265.05 286.02 L 265.1 261.8 L 265.15 301.4 L 265.2 270.29 L 265.25 265.73 L 265.49 387.58 L 265.54 256.39 L 265.58 313.73 L 265.63 339.16 L 265.68 244.76 L 265.73 270.95 L 265.83 269.35 L 265.88 321.7 L 265.97 233.84 L 266.02 266.75 L 266.07 325.35 L 266.12 282.42 L 266.17 261.24 L 266.26 331.88 L 266.31 230.95 L 266.36 325.81 L 266.41 374.5 L 266.51 212.45 L 266.55 283.93 L 266.6 269.48 L 266.65 413.62 L 266.7 336.27 L 266.84 252.73 L 266.94 292.2 L 266.99 236.58 L 267.04 332.58 L 267.13 304.37 L 267.18 299.45 L 267.23 389.17 L 267.28 255.71 L 267.33 298.95 L 267.38 316.12 L 267.43 185.26 L 267.47 327.04 L 267.52 256.58 L 267.57 305.93 L 267.62 277.56 L 267.76 431.05 L 267.96 260.9 L 268.1 295.94 L 268.2 242.57 L 268.25 301.87 L 268.3 290.36 L 268.35 283.97 L 268.39 403.82 L 268.44 313.55 L 268.54 276.78 L 268.64 267.31 L 268.68 339.34 L 268.73 317.35 L 268.78 236.91 L 268.83 373.24 L 268.88 313.1 L 268.93 316.31 L 268.98 313.78 L 269.02 334.83 L 269.07 282.04 L 269.17 372.49 L 269.22 289.62 L 269.31 294.37 L 269.41 342.82 L 269.46 326.74 L 269.56 291.6 L 269.7 378.79 L 269.75 324.03 L 269.8 402.04 L 269.85 313.55 L 269.9 332.97 L 269.94 221.63 L 269.99 256.55 L 270.04 318.85 L 270.09 271.25 L 270.19 366.4 L 270.23 311.62 L 270.28 264.74 L 270.33 295.81 L 270.38 405.02 L 270.43 285.32 L 270.48 273.48 L 270.62 394.22 L 270.77 279.45 L 270.86 303.63 L 270.91 289.31 L 270.96 344.06 L 271.01 249.64 L 271.06 329.3 L 271.11 279.17 L 271.16 313.54 L 271.2 324.92 L 271.35 255.64 L 271.4 267.23 L 271.45 340.17 L 271.49 291.9 L 271.64 365.35 L 271.69 302.53 L 271.74 338.65 L 271.79 378.89 L 271.88 304.03 L 271.93 309.28 L 271.98 370.35 L 272.03 340.86 L 272.08 254.73 L 272.12 349.87 L 272.17 328.99 L 272.22 214.54 L 272.27 298.73 L 272.37 405.43 L 272.41 300.55 L 272.51 315.03 L 272.61 392.85 L 272.66 242.97 L 272.75 274.6 L 272.8 282.39 L 272.85 348.59 L 272.95 331.05 L 273 272.83 L 273.04 295.8 L 273.09 331.01 L 273.14 243.06 L 273.19 292.08 L 273.24 294.54 L 273.38 383.4 L 273.43 294.59 L 273.53 306.59 L 273.58 327.52 L 273.63 304.67 L 273.67 299.14 L 273.87 403.95 L 273.92 260.44 L 273.96 289.98 L 274.01 384.22 L 274.06 232.63 L 274.11 348.24 L 274.16 292.69 L 274.21 296.37 L 274.26 309.97 L 274.3 288.5 L 274.35 379.23 L 274.4 316.33 L 274.45 326.58 L 274.5 310.87 L 274.55 327.52 L 274.64 348.99 L 274.69 276.66 L 274.74 354.47 L 274.79 299.08 L 274.84 299.62 L 274.89 319.23 L 274.93 296.46 L 274.98 291.37 L 275.03 339.62 L 275.08 300.21 L 275.13 232.86 L 275.18 364.91 L 275.27 350.63 L 275.32 229.47 L 275.37 380.46 L 275.47 274.78 L 275.51 355.36 L 275.61 348.03 L 275.66 377.5 L 275.76 293.48 L 275.81 333.31 L 275.95 263.51 L 276 372.5 L 276.1 343.75 L 276.14 402.92 L 276.19 351.09 L 276.24 287.2 L 276.29 301.51 L 276.34 366 L 276.39 245.87 L 276.44 297.41 L 276.53 340.01 L 276.68 266.11 L 276.87 383.65 L 276.92 292.1 L 276.97 361.76 L 277.07 315.3 L 277.11 351.07 L 277.16 276.66 L 277.21 381.25 L 277.26 250.97 L 277.31 342.17 L 277.36 273.51 L 277.4 259.46 L 277.45 354.8 L 277.5 348.9 L 277.55 274.55 L 277.6 306.68 L 277.65 311.12 L 277.69 399.76 L 277.74 391.04 L 277.84 253.5 L 277.94 354.84 L 278.08 290.68 L 278.18 404.95 L 278.23 252.58 L 278.32 261.17 L 278.37 406.97 L 278.42 298.84 L 278.52 364.95 L 278.62 259.74 L 278.76 364.41 L 278.95 287.51 L 279 370.48 L 279.05 273.52 L 279.1 273.6 L 279.24 424.6 L 279.39 310.29 L 279.44 363.4 L 279.49 314.52 L 279.54 317.48 L 279.58 314.16 L 279.73 273.53 L 279.78 350.76 L 279.83 284.13 L 279.97 360.5 L 280.02 252.88 L 280.07 304.45 L 280.12 338.35 L 280.17 311.48 L 280.21 314.35 L 280.31 377.99 L 280.36 308.06 L 280.41 322.01 L 280.46 434.22 L 280.5 272.91 L 280.55 374.83 L 280.65 307.71 L 280.7 279.3 L 280.79 283.78 L 280.84 415.48 L 280.89 293.52 L 280.94 296.87 L 280.99 285.63 L 281.04 346 L 281.09 292.93 L 281.18 246.69 L 281.28 375.34 L 281.33 185.91 L 281.38 287.17 L 281.42 292.69 L 281.47 233.61 L 281.57 360.93 L 281.62 343.42 L 281.67 286.6 L 281.72 350.96 L 281.76 361.97 L 281.81 352.54 L 281.86 263.32 L 281.91 304.22 L 281.96 329.61 L 282.01 278.44 L 282.05 285.27 L 282.1 358.8 L 282.15 279.19 L 282.2 303.93 L 282.25 408.51 L 282.3 368.42 L 282.39 293.67 L 282.49 359.74 L 282.54 303.65 L 282.59 397.73 L 282.64 290.63 L 282.78 343.74 L 282.83 279.07 L 282.88 420.43 L 282.93 353.55 L 283.07 252.33 L 283.17 348.61 L 283.22 267.06 L 283.31 289.04 L 283.36 341.51 L 283.41 340.71 L 283.46 283.45 L 283.51 309.03 L 283.6 353.16 L 283.7 239 L 283.75 351.09 L 283.8 284.34 L 283.85 293.07 L 283.9 375.93 L 283.94 284.37 L 283.99 245.96 L 284.04 310.09 L 284.14 301.76 L 284.19 270.24 L 284.23 361.84 L 284.28 285.87 L 284.33 332.19 L 284.38 327.84 L 284.43 312.75 L 284.48 321.73 L 284.62 355.43 L 284.67 250.29 L 284.72 283.1 L 284.77 331.14 L 284.82 245.67 L 284.86 258.45 L 284.96 336.6 L 285.01 301.61 L 285.11 254.05 L 285.2 338 L 285.25 216.12 L 285.3 254.13 L 285.4 354.07 L 285.45 291.94 L 285.49 265.44 L 285.54 280.69 L 285.59 277.79 L 285.64 310.58 L 285.69 264.62 L 285.74 339.66 L 285.83 334.99 L 285.88 341.61 L 285.93 230.57 L 285.98 389.34 L 286.07 357.17 L 286.12 368.95 L 286.22 383.7 L 286.32 216.27 L 286.46 351.29 L 286.56 171.44 L 286.61 304.88 L 286.66 318.64 L 286.7 221.8 L 286.75 317.07 L 286.9 368.04 L 287 252.59 L 287.04 330.57 L 287.14 329.87 L 287.24 294.5 L 287.29 379.09 L 287.33 349.06 L 287.38 274.48 L 287.43 400.83 L 287.48 313.71 L 287.58 356.36 L 287.72 291.36 L 287.77 316.14 L 287.82 243.22 L 287.87 335.91 L 287.92 270.14 L 287.96 319.71 L 288.01 340.72 L 288.06 317.14 L 288.16 248.06 L 288.21 330.1 L 288.25 304.69 L 288.3 266.83 L 288.35 289.75 L 288.5 363.52 L 288.64 219.97 L 288.69 339.35 L 288.79 315.89 L 288.84 261.25 L 288.88 318.94 L 288.98 391.66 L 289.13 266.88 L 289.18 459.16 L 289.22 204.66 L 289.27 346.8 L 289.42 267.74 L 289.56 359.59 L 289.61 280.03 L 289.71 299.98 L 289.76 351.74 L 289.8 308.66 L 289.85 305.36 L 289.9 288.53 L 289.95 381.34 L 290 349.65 L 290.05 241.44 L 290.1 332.56 L 290.14 318.46 L 290.19 332.81 L 290.24 382.91 L 290.29 363.7 L 290.43 228.86 L 290.53 403.19 L 290.68 256.23 L 290.82 379.27 L 290.97 262.48 L 291.11 307.89 L 291.16 275.88 L 291.31 340.94 L 291.35 285.15 L 291.4 327.66 L 291.5 345.95 L 291.55 252.87 L 291.6 385.97 L 291.65 382.55 L 291.69 288.14 L 291.74 360.4 L 291.79 336.3 L 291.84 337.55 L 291.89 218.75 L 291.94 345.7 L 291.98 347.93 L 292.13 293.88 L 292.18 381.89 L 292.23 296.11 L 292.28 232.43 L 292.32 396.14 L 292.37 290.57 L 292.42 282.39 L 292.52 323.79 L 292.57 421.84 L 292.61 264.2 L 292.66 329.62 L 292.71 324.25 L 292.76 263.05 L 292.81 421.12 L 292.86 317.98 L 293.05 228.77 L 293.24 381.97 L 293.29 349.61 L 293.34 226.84 L 293.39 327.06 L 293.44 317.73 L 293.63 431.99 L 293.68 291.32 L 293.73 352.33 L 293.78 342.52 L 293.83 258.24 L 293.87 294.83 L 293.92 292.9 L 293.97 272.73 L 294.12 407.87 L 294.26 192.24 L 294.31 364 L 294.36 288.54 L 294.41 288.25 L 294.46 307.01 L 294.5 386.56 L 294.55 352.78 L 294.75 272.26 L 294.79 348.81 L 294.89 345.63 L 295.04 202.5 L 295.13 356.84 L 295.18 297.38 L 295.23 325.13 L 295.28 306.58 L 295.33 262.24 L 295.47 410.18 L 295.52 270.03 L 295.57 308.92 L 295.67 337.11 L 295.71 254.88 L 295.76 337.34 L 295.81 261.09 L 295.86 337.31 L 295.91 312.48 L 295.96 299.44 L 296.01 229.14 L 296.05 303.83 L 296.1 304.34 L 296.25 341.52 L 296.3 238.09 L 296.34 252.31 L 296.49 367.1 L 296.54 274.48 L 296.59 285.16 L 296.68 350.35 L 296.73 281.8 L 296.78 288.06 L 296.88 282.99 L 296.93 374.47 L 297.12 243.89 L 297.26 315.42 L 297.31 332.3 L 297.46 254.47 L 297.51 273.19 L 297.56 350.66 L 297.6 279.17 L 297.8 380.79 L 297.99 228.41 L 298.14 370.21 L 298.18 359.04 L 298.28 296.8 L 298.33 372.09 L 298.38 266.35 L 298.48 274.17 L 298.52 316.75 L 298.57 276.38 L 298.67 327.29 L 298.72 294.38 L 298.77 374.68 L 298.81 372.78 L 298.91 256.86 L 298.96 347.98 L 299.01 341.33 L 299.06 244.62 L 299.11 312.69 L 299.15 314.48 L 299.2 361.57 L 299.25 311.97 L 299.35 317.02 L 299.4 282.45 L 299.44 300.73 L 299.49 270.47 L 299.54 279.85 L 299.59 320.5 L 299.64 278.06 L 299.69 238.82 L 299.78 369.18 L 299.83 306.53 L 299.88 323.46 L 299.93 205.88 L 299.98 282.93 L 300.03 364.15 L 300.07 323.07 L 300.12 253.39 L 300.17 366.69 L 300.22 336.76 L 300.27 314.74 L 300.32 321.48 L 300.36 341.41 L 300.41 309.41 L 300.46 378.06 L 300.51 340.89 L 300.56 341.82 L 300.7 315.32 L 300.8 333.96 L 300.95 275.06 L 300.99 366.91 L 301.04 305.06 L 301.09 284.14 L 301.19 433.64 L 301.24 325.35 L 301.29 299.71 L 301.33 383.54 L 301.38 296.21 L 301.48 348.42 L 301.53 328.98 L 301.58 274.28 L 301.62 276.1 L 301.87 398.9 L 302.01 314.18 L 302.06 312.88 L 302.11 264.73 L 302.16 356.8 L 302.21 350.29 L 302.25 235.54 L 302.3 283.58 L 302.4 406.63 L 302.45 353.75 L 302.59 307.93 L 302.64 326.1 L 302.69 267.96 L 302.74 368.84 L 302.84 346.3 L 302.98 283.07 L 303.08 325.11 L 303.13 285.93 L 303.17 349.63 L 303.27 333.99 L 303.37 275.44 L 303.51 345.62 L 303.56 248.76 L 303.61 269.05 L 303.76 352.93 L 303.8 332.29 L 303.85 244.75 L 303.9 365.84 L 303.95 361.68 L 304 212.83 L 304.05 336.44 L 304.09 325.73 L 304.14 267.38 L 304.19 337.73 L 304.34 256.07 L 304.39 386.56 L 304.43 351.82 L 304.53 276.72 L 304.58 343.2 L 304.68 337.44 L 304.72 332.15 L 304.77 261.44 L 304.82 325.09 L 304.87 398.27 L 304.97 267.64 L 305.01 283.66 L 305.06 383.58 L 305.11 382.88 L 305.16 294.3 L 305.21 363.62 L 305.31 329.54 L 305.35 355.24 L 305.4 265.27 L 305.45 282.13 L 305.6 354.77 L 305.74 249.53 L 305.79 344.19 L 305.84 339.18 L 305.89 266.06 L 305.94 287.56 L 305.98 356.87 L 306.03 289.46 L 306.08 314.66 L 306.13 313.87 L 306.27 272.09 L 306.42 318.99 L 306.47 252.14 L 306.52 348.94 L 306.57 234.82 L 306.61 223.52 L 306.66 224.08 L 306.71 320.53 L 306.76 226.71 L 306.95 306.07 L 307 290.42 L 307.1 412.3 L 307.24 284.8 L 307.29 301.51 L 307.34 402.03 L 307.39 298.57 L 307.49 248.7 L 307.53 356.03 L 307.63 344.87 L 307.68 342.48 L 307.73 385.79 L 307.78 344.55 L 307.82 248.45 L 307.87 361.16 L 307.92 396.93 L 308.07 286.3 L 308.21 351.7 L 308.26 357.59 L 308.31 299.3 L 308.36 309.63 L 308.41 317.12 L 308.45 293.18 L 308.5 351.17 L 308.55 313.96 L 308.6 306.26 L 308.65 265.54 L 308.7 398.19 L 308.74 330.34 L 308.79 296.14 L 308.84 340.3 L 308.94 286.28 L 308.99 294.89 L 309.04 390.85 L 309.08 368.01 L 309.13 281.73 L 309.23 306.09 L 309.28 258.81 L 309.33 312.73 L 309.37 365.26 L 309.42 270.22 L 309.47 373.02 L 309.62 282.54 L 309.67 276.97 L 309.76 347.17 L 309.81 317.1 L 309.86 340.36 L 310.05 206.08 L 310.1 352.99 L 310.15 341.36 L 310.2 294.9 L 310.25 298.09 L 310.34 390.4 L 310.39 208.81 L 310.44 311.33 L 310.54 420.57 L 310.59 256.38 L 310.63 301.09 L 310.68 314.7 L 310.73 360.62 L 310.78 319.44 L 310.83 332.04 L 310.88 424.92 L 310.92 203.17 L 310.97 296.53 L 311.07 357.52 L 311.12 341.6 L 311.17 213.66 L 311.22 298.44 L 311.26 373.78 L 311.31 277.74 L 311.51 322.47 L 311.55 306.03 L 311.6 324.28 L 311.65 377.23 L 311.7 359.19 L 311.75 314.67 L 311.8 385.6 L 311.85 321.01 L 311.89 329.1 L 311.94 284.41 L 311.99 308.31 L 312.04 328.23 L 312.09 328.15 L 312.18 275.84 L 312.28 382.64 L 312.33 347.96 L 312.38 416.88 L 312.43 349.73 L 312.57 250.84 L 312.72 341.15 L 312.77 338.12 L 312.86 277.01 L 312.91 297.18 L 312.96 404.42 L 313.01 294.44 L 313.1 341.25 L 313.15 309.3 L 313.2 277.67 L 313.25 309.34 L 313.3 347.16 L 313.35 254.85 L 313.4 343.13 L 313.49 262.69 L 313.54 353.27 L 313.64 352.73 L 313.78 241.87 L 313.83 375.91 L 313.88 293.87 L 313.93 313.92 L 313.98 402.53 L 314.02 243.04 L 314.07 340.46 L 314.17 306.4 L 314.22 355.3 L 314.27 349.53 L 314.36 354.11 L 314.46 262.61 L 314.56 384.98 L 314.7 287.56 L 314.8 418.76 L 314.95 252.51 L 314.99 357.81 L 315.04 292.07 L 315.09 273.58 L 315.14 395.98 L 315.19 271.57 L 315.24 256.01 L 315.48 378.4 L 315.67 272.96 L 315.82 392.81 L 315.96 252.93 L 316.01 390.66 L 316.06 302.13 L 316.11 333.29 L 316.16 331.42 L 316.2 244.99 L 316.25 275.83 L 316.3 352.68 L 316.35 257.76 L 316.4 343.99 L 316.45 282.59 L 316.5 391.11 L 316.54 329.65 L 316.59 328.23 L 316.64 329.93 L 316.74 397.96 L 316.83 290.44 L 316.88 314.15 L 316.98 380.96 L 317.03 327.27 L 317.13 346.76 L 317.27 298.92 L 317.37 351.64 L 317.42 324.11 L 317.46 329.03 L 317.61 387.5 L 317.66 401 L 317.8 286.89 L 317.85 329.07 L 317.9 293.79 L 317.95 256.09 L 318.09 345.57 L 318.14 281.78 L 318.19 313.25 L 318.24 312.97 L 318.29 364.41 L 318.34 356.13 L 318.43 311.4 L 318.48 270.72 L 318.53 381.09 L 318.58 331.53 L 318.63 329.12 L 318.68 221.85 L 318.72 324.42 L 318.77 338.97 L 318.82 285.06 L 318.97 388.06 L 319.01 232.45 L 319.06 317.84 L 319.16 372.52 L 319.26 312.42 L 319.3 347.36 L 319.35 266.73 L 319.4 330.03 L 319.55 259.77 L 319.6 332.26 L 319.64 312.85 L 319.74 290.43 L 319.79 394.67 L 319.84 268.28 L 320.03 398.22 L 320.18 259.53 L 320.32 328.07 L 320.37 279.91 L 320.42 332.55 L 320.47 296.38 L 320.52 329.74 L 320.61 357.99 L 320.66 343.02 L 320.71 267.55 L 320.76 369.24 L 320.85 346.91 L 320.9 293.29 L 320.95 295.04 L 321 337.91 L 321.05 236.09 L 321.1 279.02 L 321.15 276.18 L 321.19 312.28 L 321.24 309.52 L 321.29 274.81 L 321.34 374.59 L 321.39 349.37 L 321.44 311.12 L 321.48 377.57 L 321.53 247.14 L 321.58 341.42 L 321.63 333.1 L 321.73 252.65 L 321.87 354.64 L 322.02 217.1 L 322.07 262.92 L 322.16 354.43 L 322.21 300.13 L 322.26 219.59 L 322.31 401.05 L 322.36 333.59 L 322.4 265.16 L 322.45 344.3 L 322.6 287.07 L 322.74 376.85 L 322.79 274.53 L 322.84 289.79 L 322.89 316.19 L 322.99 313.51 L 323.03 330.41 L 323.08 308.19 L 323.13 160.06 L 323.18 317.57 L 323.23 340.03 L 323.33 334.21 L 323.47 233.72 L 323.62 341.49 L 323.66 310.48 L 323.71 333.61 L 323.76 351.29 L 323.86 249.39 L 323.91 351.54 L 323.96 342.41 L 324.1 261.35 L 324.25 348.67 L 324.29 352.14 L 324.34 335.07 L 324.39 362.52 L 324.49 272.01 L 324.58 345.23 L 324.73 254.61 L 324.88 358.94 L 325.02 271.36 L 325.12 277.33 L 325.17 363.39 L 325.21 304.59 L 325.26 322.33 L 325.31 388.09 L 325.36 278.79 L 325.46 297.99 L 325.51 348.27 L 325.55 308.51 L 325.6 290.56 L 325.7 335.95 L 325.75 290.84 L 325.8 306.92 L 325.84 333.44 L 325.89 313.74 L 325.99 329.97 L 326.09 244.31 L 326.23 355.27 L 326.28 371.85 L 326.33 268.94 L 326.38 343.81 L 326.43 301.42 L 326.47 372.79 L 326.52 342.4 L 326.62 295.88 L 326.67 305.72 L 326.72 439.83 L 326.76 306.41 L 326.86 245.87 L 327.01 358.86 L 327.06 335.92 L 327.1 329.05 L 327.15 256.48 L 327.2 380.89 L 327.3 359 L 327.35 279.98 L 327.39 344.86 L 327.49 402.46 L 327.64 270.75 L 327.68 272.32 L 327.73 363.81 L 327.78 330.26 L 327.83 315.07 L 327.88 379.21 L 327.93 368.32 L 328.07 305.08 L 328.12 395.76 L 328.17 306.58 L 328.31 336 L 328.41 252.74 L 328.56 383.65 L 328.65 288.49 L 328.7 320.87 L 328.75 301.94 L 328.8 321.14 L 328.94 284.94 L 328.99 398.24 L 329.04 325.06 L 329.09 364.37 L 329.14 315.09 L 329.24 340.49 L 329.28 251.8 L 329.38 269.11 L 329.43 289.59 L 329.48 246.35 L 329.57 325.64 L 329.62 318.77 L 329.67 215.06 L 329.72 333.2 L 329.82 258.75 L 329.86 277.12 L 329.91 335.61 L 329.96 243.62 L 330.06 255.69 L 330.2 345.89 L 330.25 256.84 L 330.3 344.14 L 330.4 270.34 L 330.45 328.91 L 330.54 314.3 L 330.64 290.59 L 330.69 377.63 L 330.74 336.67 L 330.79 230.52 L 330.83 396.77 L 330.88 341.41 L 330.93 282.12 L 330.98 392.01 L 331.03 350.85 L 331.08 348.4 L 331.12 250.83 L 331.17 351.13 L 331.22 431.7 L 331.27 341.09 L 331.32 314.21 L 331.41 376.41 L 331.56 322.04 L 331.66 298 L 331.71 252.5 L 331.75 256.93 L 331.8 360.96 L 331.85 346.1 L 331.9 245.91 L 331.95 316.95 L 332 330.84 L 332.04 271.1 L 332.09 340.86 L 332.14 276.7 L 332.19 327.33 L 332.24 262.02 L 332.29 320.77 L 332.43 248.97 L 332.58 374.02 L 332.63 386.83 L 332.77 263.73 L 332.82 332.09 L 332.87 237 L 332.92 307.27 L 332.96 278.87 L 333.06 367.33 L 333.11 250.34 L 333.21 269.54 L 333.26 330.2 L 333.35 321.43 L 333.4 329.27 L 333.45 321.03 L 333.5 287.09 L 333.55 365.33 L 333.59 355.55 L 333.64 274.91 L 333.69 345.58 L 333.74 307.44 L 333.79 371.28 L 333.84 323.99 L 333.89 270.36 L 333.93 311.59 L 333.98 306.58 L 334.13 389.58 L 334.18 383.45 L 334.27 389.04 L 334.32 262.25 L 334.37 280.89 L 334.42 189.79 L 334.52 416.54 L 334.66 260.82 L 334.71 296.39 L 334.76 252.28 L 334.85 355.04 L 335 328.83 L 335.05 337.22 L 335.1 325.42 L 335.14 260.63 L 335.19 338.8 L 335.24 365.6 L 335.29 342.14 L 335.34 335.71 L 335.39 441.16 L 335.44 322.84 L 335.48 333.69 L 335.53 270.54 L 335.58 278.64 L 335.63 347.39 L 335.68 275.63 L 335.73 258.73 L 335.82 350.54 L 335.87 297.69 L 335.97 301.61 L 336.02 359.4 L 336.07 230.21 L 336.11 323.35 L 336.16 293.62 L 336.31 410.27 L 336.4 417.59 L 336.45 274.73 L 336.55 379.41 L 336.6 268.91 L 336.65 334.93 L 336.69 321.39 L 336.74 270.9 L 336.79 294.47 L 336.84 301.61 L 336.89 287.71 L 336.94 395.07 L 336.99 261.78 L 337.03 260.3 L 337.08 239.21 L 337.13 401.01 L 337.18 349.28 L 337.23 337.3 L 337.37 242 L 337.52 367.56 L 337.57 337.32 L 337.62 257.03 L 337.66 348.94 L 337.71 387.4 L 337.86 214.99 L 338 387.55 L 338.05 329.17 L 338.1 329.2 L 338.15 308.07 L 338.2 352.13 L 338.29 262.92 L 338.39 325.72 L 338.44 306.04 L 338.54 281.67 L 338.58 349.47 L 338.63 255.31 L 338.68 312.47 L 338.73 321.1 L 338.78 285.97 L 338.83 342.9 L 338.87 278.5 L 338.92 227.14 L 339.07 333.83 L 339.12 253.65 L 339.17 268.3 L 339.21 376.82 L 339.26 274.82 L 339.36 363.1 L 339.5 267.61 L 339.6 367.98 L 339.65 353.88 L 339.75 290.86 L 339.89 379.64 L 340.04 227.17 L 340.09 237.08 L 340.13 353.4 L 340.18 309.39 L 340.23 298.01 L 340.28 337.52 L 340.33 331.15 L 340.38 289.18 L 340.42 326.23 L 340.47 327.47 L 340.52 316.32 L 340.57 265.2 L 340.62 325.83 L 340.76 286.21 L 340.91 343.39 L 340.96 305.45 L 341.01 309.41 L 341.05 325.62 L 341.1 306.07 L 341.15 219.63 L 341.2 283.22 L 341.25 390.49 L 341.3 262.49 L 341.39 356.79 L 341.44 260.8 L 341.54 273.96 L 341.59 340.19 L 341.64 272.36 L 341.68 326.56 L 341.73 276.39 L 341.78 281.95 L 341.83 362.28 L 341.88 300.14 L 341.93 296.01 L 341.97 317.42 L 342.02 388.11 L 342.07 303.66 L 342.12 328.12 L 342.17 266.82 L 342.22 358.67 L 342.27 275.41 L 342.31 309.48 L 342.36 212.59 L 342.41 356.34 L 342.51 336.94 L 342.56 353.92 L 342.6 271.68 L 342.7 272.78 L 342.75 380.98 L 342.8 364.13 L 342.94 261.78 L 342.99 247.75 L 343.04 320.07 L 343.14 313.61 L 343.19 326.63 L 343.28 324.18 L 343.33 297.41 L 343.38 328.29 L 343.48 326.91 L 343.52 339.69 L 343.67 231.94 L 343.72 381.26 L 343.77 371 L 343.96 239.36 L 344.01 389.27 L 344.11 366.65 L 344.2 293.94 L 344.25 373.62 L 344.3 273.48 L 344.45 381.85 L 344.59 281.34 L 344.69 440.41 L 344.74 280.83 L 344.83 283.76 L 344.88 342.91 L 344.98 328.25 L 345.03 227.92 L 345.07 326.21 L 345.12 326.84 L 345.17 298.42 L 345.22 336.2 L 345.27 322.63 L 345.37 279.49 L 345.41 338.92 L 345.51 321.6 L 345.61 281.66 L 345.7 303.94 L 345.75 242.7 L 345.8 350.14 L 345.85 248.91 L 345.95 377.02 L 346.04 372.18 L 346.09 319.62 L 346.14 397.17 L 346.29 248.33 L 346.43 369.77 L 346.63 215.43 L 346.92 348.89 L 346.96 287.23 L 347.06 292.82 L 347.11 323.94 L 347.16 298.87 L 347.21 243.22 L 347.25 299.52 L 347.3 276.36 L 347.35 347.78 L 347.45 328.53 L 347.5 292.93 L 347.55 301.04 L 347.59 340.08 L 347.64 298.58 L 347.69 307.5 L 347.74 375.8 L 347.79 313.39 L 347.84 264.48 L 347.88 347.91 L 347.93 268.05 L 348.13 343.87 L 348.18 282.95 L 348.22 368.7 L 348.27 356.53 L 348.42 230.5 L 348.47 297.31 L 348.51 274.48 L 348.56 271.87 L 348.61 326.48 L 348.66 309.54 L 348.8 247.33 L 348.76 310.21 L 348.85 268.95 L 348.95 259.52 L 349 307.31 L 349.05 279.04 L 349.1 303.65 L 349.19 348.12 L 349.24 339.28 L 349.34 293.39 L 349.39 396.76 L 349.43 327.33 L 349.48 287.67 L 349.53 317.44 L 349.58 355.71 L 349.63 352.15 L 349.68 244.05 L 349.73 375.77 L 349.82 278.58 L 349.87 392.25 L 349.97 374.53 L 350.06 205.38 L 350.11 362.38 L 350.16 314.65 L 350.21 297.27 L 350.31 290.13 L 350.35 340.68 L 350.4 334.77 L 350.45 344.9 L 350.6 273.2 L 350.69 355.25 L 350.74 331.59 L 350.79 332.91 L 350.84 327.94 L 350.89 288.94 L 350.94 317.87 L 350.98 308.6 L 351.03 310.34 L 351.13 331.49 L 351.18 283.41 L 351.23 316.18 L 351.28 317.16 L 351.32 357.81 L 351.37 341.11 L 351.42 336.97 L 351.47 290.29 L 351.52 383.56 L 351.57 284.01 L 351.71 347.65 L 351.81 186.92 L 351.86 393.15 L 351.95 350.38 L 352.1 295.29 L 352.15 334.54 L 352.2 324.67 L 352.24 264.13 L 352.29 323.25 L 352.34 333.6 L 352.39 312.16 L 352.49 377.77 L 352.53 314.99 L 352.58 337.52 L 352.63 371.26 L 352.68 277.2 L 352.73 286.88 L 352.92 337.46 L 352.97 280.22 L 353.02 372.1 L 353.07 303.72 L 353.12 313.86 L 353.16 359.91 L 353.31 240.15 L 353.55 343.47 L 353.6 302.05 L 353.65 371.98 L 353.7 275.94 L 353.75 286.81 L 353.79 319.98 L 353.84 284.77 L 353.89 223.14 L 353.94 302.8 L 353.99 246.18 L 354.08 338.87 L 354.13 274.76 L 354.18 391.22 L 354.23 276.44 L 354.33 333.83 L 354.38 311.21 L 354.42 310.2 L 354.47 264.99 L 354.52 281.14 L 354.67 352.36 L 354.71 306.71 L 354.76 417.47 L 354.81 276.21 L 354.91 380.98 L 354.96 292.16 L 355.01 350.11 L 355.05 333.23 L 355.1 385.9 L 355.15 344.52 L 355.2 308.29 L 355.25 166.76 L 355.3 303.14 L 355.39 292.34 L 355.44 373.79 L 355.49 337.49 L 355.54 420.47 L 355.59 327.15 L 355.63 336.76 L 355.78 262.95 L 355.83 167.76 L 355.93 393.17 L 355.97 242.54 L 356.02 263.52 L 356.07 296.67 L 356.12 266.97 L 356.17 280.96 L 356.22 340.3 L 356.26 286.39 L 356.31 268.29 L 356.36 282.85 L 356.46 330.1 L 356.51 220.41 L 356.56 303.88 L 356.6 292.95 L 356.65 370.41 L 356.7 287.52 L 356.8 348.89 L 356.85 263.44 L 356.89 314.74 L 356.94 288.9 L 356.99 296.35 L 357.04 342.41 L 357.09 303.15 L 357.14 259.69 L 357.19 358.55 L 357.28 350.84 L 357.33 285.25 L 357.43 302.97 L 357.48 269.33 L 357.52 359.33 L 357.57 256.2 L 357.67 321.62 L 357.72 254 L 357.77 296.54 L 357.81 366.85 L 357.86 317.03 L 357.91 345.28 L 357.96 304.14 L 358.01 333.33 L 358.06 328.13 L 358.11 276.67 L 358.15 381.81 L 358.2 303.55 L 358.35 408.64 L 358.3 301.88 L 358.4 352.5 L 358.44 330.84 L 358.49 249.19 L 358.54 364.43 L 358.59 359.21 L 358.69 302.11 L 358.83 379.43 L 358.88 247.76 L 358.93 328.1 L 358.98 309.63 L 359.03 207.64 L 359.07 336.93 L 359.12 363.76 L 359.17 353.8 L 359.22 248.49 L 359.27 322.16 L 359.32 345.63 L 359.36 316.1 L 359.41 316.56 L 359.46 274.79 L 359.51 286.11 L 359.7 364.36 L 359.8 293.77 L 359.85 307.82 L 359.95 289.56 L 359.99 359.6 L 360.09 348.76 L 360.14 387.99 L 360.19 293.49 L 360.29 298.43 L 360.33 289.57 L 360.38 350.26 L 360.43 254.91 L 360.53 274.63 L 360.58 247.52 L 360.67 338.92 L 360.82 269.39 L 360.87 392.43 L 360.91 257.76 L 361.06 366.95 L 361.16 300.13 L 361.21 385.17 L 361.25 282.66 L 361.3 335.93 L 361.35 303.68 L 361.4 308.77 L 361.45 336.55 L 361.54 221.96 L 361.64 382.49 L 361.69 309.81 L 361.74 323.56 L 361.88 229.8 L 362.08 349.83 L 362.22 295.67 L 362.46 353.82 L 362.51 348.98 L 362.61 285.91 L 362.66 323.21 L 362.71 320.04 L 362.85 288.23 L 363 386.38 L 363.09 274.06 L 363.14 316.87 L 363.19 265.5 L 363.24 338.14 L 363.34 321.98 L 363.53 390.03 L 363.58 284.59 L 363.63 321.43 L 363.68 318.75 L 363.72 337.41 L 363.82 348.2 L 363.87 247.94 L 363.97 342.37 L 364.06 289.73 L 364.11 265.1 L 364.16 346.07 L 364.21 334.43 L 364.26 215.47 L 364.31 278.23 L 364.35 279.15 L 364.4 238.09 L 364.55 383.27 L 364.6 280.52 L 364.69 288.08 L 364.74 393.05 L 364.79 333.47 L 364.84 315.35 L 364.89 364.34 L 364.94 336.35 L 364.98 347.67 L 365.03 309.5 L 365.08 364.65 L 365.13 325.04 L 365.27 239.8 L 365.37 330.81 L 365.42 301.62 L 365.52 303.55 L 365.57 257.22 L 365.71 375.05 L 365.81 265.54 L 365.9 285.02 L 365.95 297.7 L 366 276.46 L 366.05 347.86 L 366.1 293.46 L 366.15 287.72 L 366.24 259.43 L 366.34 371.58 L 366.39 340.18 L 366.44 262.23 L 366.49 354.16 L 366.53 369.41 L 366.63 366.39 L 366.68 286.1 L 366.73 345.18 L 366.78 339.49 L 366.82 269.38 L 366.92 279.74 L 367.02 382.46 L 367.12 245.14 L 367.26 334.3 L 367.31 246.05 L 367.36 322.57 L 367.41 384 L 367.45 316.99 L 367.5 338.36 L 367.6 229.38 L 367.65 346.72 L 367.74 329.97 L 367.79 341.11 L 367.89 253.37 L 367.94 297.21 L 367.99 331.64 L 368.04 294.11 L 368.08 305.26 L 368.13 282.36 L 368.18 336.63 L 368.23 309.18 L 368.28 249.41 L 368.33 313.88 L 368.37 275.95 L 368.42 315.05 L 368.47 311.84 L 368.52 344.26 L 368.57 201.8 L 368.62 267.2 L 368.71 268.8 L 368.76 355.33 L 368.81 344.9 L 368.86 321.87 L 368.91 381.74 L 368.96 350.7 L 369 281.77 L 369.05 399.87 L 369.1 350.58 L 369.25 316.09 L 369.3 345.27 L 369.34 278.75 L 369.39 409.2 L 369.49 375.25 L 369.63 251.04 L 369.73 372.67 L 369.78 276.13 L 369.83 318.11 L 369.88 314.26 L 369.97 274.98 L 370.07 399.21 L 370.12 322.98 L 370.17 313.9 L 370.22 361.1 L 370.26 355.73 L 370.31 289.44 L 370.36 305.01 L 370.41 350.99 L 370.46 292.39 L 370.51 309.38 L 370.65 367.37 L 370.75 302.77 L 370.85 364.69 L 370.89 299.76 L 370.94 355.15 L 371.14 299.6 L 371.18 453.58 L 371.23 345.8 L 371.28 333.24 L 371.33 268.5 L 371.38 277.71 L 371.43 316.83 L 371.47 265.83 L 371.52 286.49 L 371.57 357.71 L 371.67 203.47 L 371.77 379.67 L 371.81 255.07 L 371.86 290.43 L 371.96 396.29 L 372.01 318.8 L 372.15 331.56 L 372.2 276.46 L 372.25 331.55 L 372.3 297.5 L 372.35 391.22 L 372.4 354.34 L 372.54 313.09 L 372.59 316.58 L 372.64 307.07 L 372.69 327.83 L 372.73 289.22 L 372.78 369.28 L 372.83 330.6 L 372.93 331.28 L 372.98 253.61 L 373.07 324.08 L 373.12 310.92 L 373.17 251.03 L 373.22 327.12 L 373.27 359.2 L 373.41 280.48 L 373.46 375.76 L 373.51 298.63 L 373.65 333.51 L 373.7 295.93 L 373.75 317.25 L 373.8 316.4 L 373.85 235.22 L 373.9 312.29 L 373.95 361.19 L 373.99 351.67 L 374.04 345.28 L 374.09 379.55 L 374.19 240.93 L 374.33 344.95 L 374.38 342.36 L 374.43 385.26 L 374.58 264.7 L 374.67 325.58 L 374.77 245.75 L 374.82 345.6 L 374.91 316.79 L 375.01 362.05 L 375.06 448.26 L 375.16 304.54 L 375.2 309.11 L 375.25 263.88 L 375.35 365.36 L 375.4 362.15 L 375.45 298.97 L 375.5 336.35 L 375.54 381.02 L 375.64 259.17 L 375.69 307.47 L 375.74 289.15 L 375.83 371.55 L 375.93 306.33 L 375.98 322.39 L 376.03 326.27 L 376.08 339.94 L 376.13 257.49 L 376.17 349.13 L 376.27 273.48 L 376.32 355.73 L 376.37 308.92 L 376.42 319.24 L 376.46 290.17 L 376.51 413.15 L 376.56 326.58 L 376.61 346.28 L 376.66 271.41 L 376.71 316.88 L 376.75 337.32 L 376.9 274.36 L 376.95 271.71 L 377 284.15 L 377.05 337.7 L 377.09 302.82 L 377.14 302.88 L 377.19 300.32 L 377.24 301.23 L 377.43 354.22 L 377.48 350.85 L 377.63 165.89 L 377.72 380.5 L 377.77 330.81 L 377.82 250.66 L 377.87 318.83 L 377.92 342.16 L 377.97 287.19 L 378.01 334.19 L 378.06 339.4 L 378.16 383.95 L 378.21 298.19 L 378.3 313.17 L 378.35 287.25 L 378.5 349.73 L 378.55 349.48 L 378.6 344.94 L 378.64 276.38 L 378.69 286.7 L 378.74 355.39 L 378.79 327.59 L 378.84 309.95 L 378.89 347.28 L 378.93 287.96 L 378.98 346.49 L 379.08 328.29 L 379.13 389.39 L 379.18 385.57 L 379.27 267.84 L 379.37 296.93 L 379.42 340.11 L 379.47 333.74 L 379.56 304.17 L 379.61 376.36 L 379.66 343.62 L 379.71 345.94 L 379.76 262.92 L 379.81 336.94 L 379.85 347.99 L 380 278.06 L 380.05 354.05 L 380.1 240.34 L 380.15 318.3 L 380.19 309.47 L 380.24 324.65 L 380.29 316.9 L 380.34 314.19 L 380.39 328.35 L 380.44 265.83 L 380.48 406.25 L 380.53 364.1 L 380.68 257.91 L 380.73 293.1 L 380.82 347.5 L 380.97 213.87 L 381.02 375.31 L 381.07 246.62 L 381.16 349.43 L 381.21 309.74 L 381.26 310.1 L 381.36 373.57 L 381.45 366.81 L 381.55 369.98 L 381.6 306.11 L 381.65 331.51 L 381.7 276.97 L 381.74 346.76 L 381.84 371.98 L 381.94 247.81 L 381.99 371.1 L 382.03 340.56 L 382.08 254.14 L 382.18 264.99 L 382.37 360.88 L 382.52 291.05 L 382.57 426.78 L 382.62 400.66 L 382.76 243.92 L 382.91 391.12 L 382.96 223.71 L 383 424.05 L 383.05 258.32 L 383.15 392.8 L 383.2 342.27 L 383.25 284.33 L 383.29 325.55 L 383.34 354.17 L 383.49 283.85 L 383.54 293.1 L 383.63 352.01 L 383.78 310.11 L 383.83 362.55 L 383.92 354.18 L 383.97 298.28 L 384.02 310.01 L 384.12 385.04 L 384.17 275.96 L 384.21 355.46 L 384.36 304.33 L 384.51 378.78 L 384.55 89.28 L 384.6 340.63 L 384.65 339.64 L 384.7 405.31 L 384.75 344.51 L 384.84 278.31 L 384.89 362.65 L 384.94 317.93 L 384.99 295.13 L 385.04 378.32 L 385.09 335.63 L 385.18 276.4 L 385.23 379.03 L 385.28 365.07 L 385.33 273.8 L 385.38 336.51 L 385.43 305.62 L 385.47 367.47 L 385.62 263.82 L 385.76 369.93 L 385.81 370.7 L 385.86 374.9 L 385.91 314.15 L 386.01 323.31 L 386.06 350.99 L 386.15 289.91 L 386.2 290.88 L 386.25 288.26 L 386.39 333.55 L 386.49 373.48 L 386.64 257.17 L 386.78 385.62 L 386.88 228.27 L 386.93 335.08 L 387.02 362.82 L 387.07 232.17 L 387.12 271.05 L 387.27 422.22 L 387.36 258.49 L 387.41 399.4 L 387.46 277.09 L 387.51 295.05 L 387.56 256.93 L 387.61 341.58 L 387.65 308.69 L 387.7 265.11 L 387.75 299.36 L 387.8 290.5 L 387.85 331.65 L 387.9 326.11 L 387.94 172.44 L 387.99 313.71 L 388.04 317.02 L 388.09 328.83 L 388.14 406.03 L 388.19 376.46 L 388.28 271.75 L 388.33 354.72 L 388.38 340.06 L 388.53 251.9 L 388.67 351 L 388.72 302.59 L 388.82 312.02 L 388.86 354.75 L 388.91 274.89 L 388.96 334.94 L 389.01 381.45 L 389.2 265.32 L 389.35 352.23 L 389.4 337.98 L 389.45 233.15 L 389.49 275.53 L 389.54 359.37 L 389.59 356.35 L 389.64 302.44 L 389.74 312.63 L 389.79 292.26 L 389.83 361.06 L 389.88 349.64 L 389.93 276.36 L 389.98 303.6 L 390.03 326.38 L 390.08 320.01 L 390.12 290.35 L 390.17 303.85 L 390.27 363.61 L 390.37 365.6 L 390.41 234.65 L 390.46 362.93 L 390.51 341.01 L 390.61 258.2 L 390.71 424.87 L 390.8 401.45 L 390.9 281.91 L 390.95 284.08 L 391 310.51 L 391.04 305.64 L 391.09 290.72 L 391.14 331.64 L 391.19 330.8 L 391.34 267.36 L 391.43 299.96 L 391.58 247.33 L 391.77 354.07 L 391.82 306.11 L 391.87 344.04 L 391.92 368.9 L 392.01 256.68 L 392.06 380.85 L 392.11 177.05 L 392.16 306.72 L 392.21 357.34 L 392.26 343.58 L 392.3 323.14 L 392.35 224.35 L 392.45 252.52 L 392.5 339.89 L 392.55 273.14 L 392.59 283.11 L 392.64 342.9 L 392.69 338.96 L 392.74 295.77 L 392.79 380.1 L 392.89 368.44 L 393.03 287.73 L 393.22 350.15 L 393.32 332.68 L 393.37 336.4 L 393.42 308.11 L 393.47 343.09 L 393.52 380.44 L 393.56 288.55 L 393.61 346.24 L 393.66 383.83 L 393.71 353.25 L 393.9 239.39 L 393.95 369.48 L 394 251.72 L 394.14 407.72 L 394.24 289.56 L 394.34 378.39 L 394.39 369.38 L 394.53 252.33 L 394.68 366.09 L 394.77 272.24 L 394.87 295.01 L 394.92 368.36 L 394.97 354.62 L 395.02 338.35 L 395.07 362.6 L 395.11 335.05 L 395.16 257.67 L 395.21 325.4 L 395.31 253.49 L 395.45 335.6 L 395.6 233.76 L 395.65 233.02 L 395.69 376.79 L 395.74 284.54 L 395.79 230.86 L 395.94 361.88 L 395.99 268.91 L 396.03 356.01 L 396.18 295.75 L 396.23 331.98 L 396.28 331.51 L 396.32 273 L 396.42 277.83 L 396.47 341.59 L 396.52 255.11 L 396.62 265.31 L 396.66 283.14 L 396.76 420.53 L 396.81 271.92 L 396.86 334.04 L 396.91 330.93 L 396.95 348.84 L 397 337.31 L 397.1 279.15 L 397.2 404.9 L 397.24 290.84 L 397.29 302.72 L 397.44 370.04 L 397.49 264.89 L 397.58 266.8 L 397.78 367.02 L 397.83 323.01 L 397.87 386.64 L 397.92 370.26 L 398.02 252.55 L 398.07 307.54 L 398.12 383.18 L 398.17 357.26 L 398.31 219.35 L 398.36 239.51 L 398.46 231.16 L 398.5 354.08 L 398.55 353.98 L 398.6 257.55 L 398.65 358.03 L 398.7 337.82 L 398.75 250.73 L 398.84 260.13 L 398.94 331.9 L 398.99 288.61 L 399.04 269.26 L 399.09 281.19 L 399.18 276.52 L 399.23 411.86 L 399.42 259.8 L 399.47 371.05 L 399.52 338.19 L 399.76 287.82 L 399.81 447.68 L 399.86 303.27 L 399.91 363.56 L 399.96 323.47 L 400.01 252.56 L 400.05 281.77 L 400.1 282.75 L 400.15 263.63 L 400.2 321.78 L 400.25 309.56 L 400.35 248.65 L 400.39 366.83 L 400.44 334.83 L 400.54 276.65 L 400.59 364.23 L 400.64 274.99 L 400.68 341.03 L 400.83 253.17 L 400.88 355.26 L 400.93 289.56 L 401.02 341.63 L 401.07 274.66 L 401.12 352.85 L 401.17 283.13 L 401.27 362.1 L 401.36 226.98 L 401.41 294.33 L 401.46 352.52 L 401.51 299.84 L 401.6 341.21 L 401.75 281.24 L 401.8 356.56 L 401.85 248.71 L 401.9 326.24 L 401.94 380.97 L 401.99 349.39 L 402.09 349.96 L 402.19 182.24 L 402.33 325.72 L 402.38 275.81 L 402.43 354.38 L 402.48 321.73 L 402.52 291.76 L 402.57 300.34 L 402.62 313.01 L 402.67 280.47 L 402.86 431.05 L 403.01 316.3 L 403.06 358.54 L 403.15 277.15 L 403.2 292.69 L 403.25 285.8 L 403.3 295.3 L 403.35 378.9 L 403.4 361.99 L 403.45 302.73 L 403.49 361.07 L 403.64 303.46 L 403.69 381.69 L 403.74 314.79 L 403.88 256.11 L 403.93 335.28 L 403.98 264.98 L 404.03 229.73 L 404.22 406.37 L 404.32 272.27 L 404.37 368.74 L 404.41 303.65 L 404.51 265.26 L 404.56 321.1 L 404.66 316.33 L 404.7 252.73 L 404.75 342.31 L 404.8 337.99 L 404.9 249.23 L 404.95 305.51 L 405.04 341.79 L 405.09 274.06 L 405.14 344.62 L 405.29 271.54 L 405.38 463.45 L 405.43 307.78 L 405.48 314.22 L 405.53 377.72 L 405.58 352.94 L 405.67 314.32 L 405.72 351.12 L 405.77 237.66 L 405.87 267.9 L 405.96 306.23 L 406.01 194.4 L 406.06 330.29 L 406.11 391.7 L 406.25 263.7 L 406.3 353.69 L 406.35 309.74 L 406.4 314.63 L 406.45 339.58 L 406.5 331.81 L 406.64 305.51 L 406.69 313.77 L 406.74 316.23 L 406.79 408.79 L 406.84 260.82 L 406.88 288.46 L 407.03 404.97 L 407.18 249.33 L 407.32 312.35 L 407.37 291.98 L 407.42 316.99 L 407.47 349.81 L 407.51 339.9 L 407.56 287.89 L 407.61 331.72 L 407.66 395.03 L 407.8 261.75 L 408 348.04 L 408.05 303.97 L 408.1 336.51 L 408.14 358.14 L 408.39 227.92 L 408.43 326.16 L 408.53 314.65 L 408.58 309.86 L 408.63 282.63 L 408.68 350.63 L 408.73 318.12 L 408.77 287.56 L 408.82 375.47 L 408.87 354.31 L 409.02 284.37 L 409.06 368.81 L 409.11 259.76 L 409.26 397.5 L 409.4 285.93 L 409.55 353.74 L 409.65 288.48 L 409.69 383.83 L 409.74 346.74 L 409.84 323.59 L 409.89 334.98 L 409.94 307.54 L 409.98 312.17 L 410.03 403.37 L 410.18 268.89 L 410.23 284.5 L 410.28 389.19 L 410.32 310.95 L 410.42 260.05 L 410.52 347.57 L 410.57 267.07 L 410.61 378.18 L 410.66 377.78 L 410.71 284.26 L 410.81 293.09 L 410.86 360.02 L 410.91 341.55 L 410.95 268.86 L 411.05 289.45 L 411.24 353.73 L 411.39 248.71 L 411.49 325.74 L 411.53 294.91 L 411.58 257.48 L 411.63 375.3 L 411.68 248.54 L 411.73 348.91 L 411.78 348.58 L 411.83 212.61 L 411.87 271.32 L 411.92 337.59 L 411.97 280.59 L 412.02 260.71 L 412.16 300.32 L 412.21 294.02 L 412.26 362.67 L 412.31 357.91 L 412.41 371.16 L 412.46 287.98 L 412.5 318.14 L 412.55 267.72 L 412.6 279.17 L 412.75 375.51 L 412.84 233.37 L 412.89 313.95 L 412.94 291.42 L 412.99 315.54 L 413.04 426.79 L 413.08 290.64 L 413.18 377.93 L 413.33 197.58 L 413.38 408.16 L 413.42 348.45 L 413.62 279.3 L 413.76 343.86 L 413.81 307.36 L 413.86 279.1 L 413.91 309.78 L 413.96 403.04 L 414.01 247.65 L 414.1 279.58 L 414.15 335.51 L 414.2 271.59 L 414.25 328.33 L 414.3 255.27 L 414.34 262.58 L 414.39 341.64 L 414.44 291.54 L 414.49 300.7 L 414.54 356.14 L 414.59 275.49 L 414.63 299.47 L 414.73 354.46 L 414.78 350.31 L 414.83 256.18 L 414.88 276.18 L 414.93 323.56 L 414.97 301.61 L 415.02 277.93 L 415.12 390.68 L 415.17 248.48 L 415.22 328.03 L 415.26 340.27 L 415.31 313.3 L 415.41 360.15 L 415.56 297.32 L 415.6 298.24 L 415.65 235.67 L 415.8 337.02 L 415.85 266.74 L 415.89 294.68 L 415.94 298.8 L 415.99 238.91 L 416.04 302.49 L 416.09 303.19 L 416.19 387.72 L 416.28 309.9 L 416.33 360.07 L 416.38 354.27 L 416.43 283.8 L 416.48 337.79 L 416.52 338.53 L 416.57 328.22 L 416.62 360.07 L 416.72 256.97 L 416.77 272.46 L 416.81 252.66 L 416.86 397.15 L 416.91 277.73 L 416.96 319.22 L 417.01 258.89 L 417.06 340.88 L 417.11 281.18 L 417.15 242.63 L 417.2 288.83 L 417.3 319.57 L 417.35 291.79 L 417.4 320.47 L 417.44 438.68 L 417.49 287.67 L 417.54 246.21 L 417.59 296.43 L 417.69 263.48 L 417.83 345.83 L 417.93 291.77 L 417.98 351.28 L 418.03 323.88 L 418.07 269.82 L 418.12 339.59 L 418.17 282.26 L 418.27 324.54 L 418.32 276.24 L 418.36 287.17 L 418.41 313.94 L 418.46 307.71 L 418.66 283.38 L 418.7 332.46 L 418.75 253.16 L 418.8 315.61 L 418.85 318.85 L 418.9 259.63 L 418.95 271.78 L 418.99 390.06 L 419.04 311.64 L 419.09 281.05 L 419.14 289.91 L 419.19 382.09 L 419.24 341.12 L 419.29 344.09 L 419.38 277.03 L 419.43 297.12 L 419.53 345.61 L 419.58 268.93 L 419.62 404.68 L 419.67 289.93 L 419.72 287.59 L 419.82 311.72 L 419.87 305.89 L 419.91 285.03 L 419.96 339.49 L 420.01 282.54 L 420.16 424.43 L 420.21 368.11 L 420.35 275.9 L 420.4 375.1 L 420.45 264.18 L 420.69 363.59 L 420.74 342.61 L 420.93 269.51 L 420.98 271.64 L 421.03 341.67 L 421.08 334.83 L 421.13 269.77 L 421.17 346.38 L 421.22 271.81 L 421.32 370.6 L 421.37 294.58 L 421.42 303.29 L 421.51 413.74 L 421.66 279.47 L 421.76 342.29 L 421.8 382.89 L 421.9 273.78 L 421.95 316.12 L 422.09 423.86 L 422.19 294.31 L 422.24 404.12 L 422.29 338.02 L 422.34 256.03 L 422.39 402.71 L 422.43 253.05 L 422.58 292.29 L 422.63 291.91 L 422.68 286.63 L 422.72 246.41 L 422.87 396.1 L 422.97 271.23 L 423.02 342.3 L 423.06 294.95 L 423.11 303.32 L 423.16 265.52 L 423.21 282.62 L 423.26 295.06 L 423.31 339.95 L 423.35 327.81 L 423.5 259.64 L 423.55 338.38 L 423.64 319.61 L 423.69 295.35 L 423.74 384.95 L 423.79 284.83 L 423.84 350.27 L 423.89 265.07 L 423.94 277.99 L 423.98 338.72 L 424.13 242.74 L 424.23 326.53 L 424.27 254.08 L 424.32 363.9 L 424.37 324.61 L 424.42 297.75 L 424.47 379.15 L 424.52 263.49 L 424.57 286.32 L 424.66 401.6 L 424.71 339.16 L 424.76 279.26 L 424.81 285.37 L 424.9 366.03 L 424.95 310.15 L 425 360.41 L 425.05 380.01 L 425.1 254.14 L 425.15 311.21 L 425.19 296.99 L 425.24 321.83 L 425.34 273.33 L 425.44 329.82 L 425.49 328.62 L 425.53 276.1 L 425.58 306.36 L 425.63 362.25 L 425.68 259.09 L 425.73 310.69 L 425.82 255.35 L 425.87 291.62 L 425.92 279.32 L 425.97 315.04 L 426.02 288 L 426.07 276 L 426.26 323 L 426.31 301.89 L 426.36 331.99 L 426.5 272.62 L 426.6 339.12 L 426.65 294.99 L 426.7 357.73 L 426.79 341.14 L 426.89 256.86 L 427.04 353.33 L 427.13 359.79 L 427.18 246.05 L 427.28 317.44 L 427.33 267.87 L 427.37 312.47 L 427.42 324.13 L 427.52 373.07 L 427.57 303.13 L 427.62 398.28 L 427.71 378.1 L 427.91 215.18 L 427.96 313.58 L 428.05 308.95 L 428.1 361.79 L 428.15 339.18 L 428.2 343.43 L 428.3 288.98 L 428.34 309 L 428.54 354.09 L 428.59 350.07 L 428.63 218.95 L 428.68 281.37 L 428.73 361.12 L 428.78 316.05 L 428.83 303.45 L 428.88 318.63 L 428.92 345.75 L 429.07 297.84 L 429.12 272.91 L 429.17 340.49 L 429.26 337.56 L 429.31 353.85 L 429.36 340.13 L 429.41 308.84 L 429.46 341.27 L 429.51 357.9 L 429.55 348.22 L 429.65 260.99 L 429.7 266.07 L 429.75 383.75 L 429.8 329.84 L 429.85 293.67 L 429.89 334.18 L 429.94 322.99 L 429.99 356.29 L 430.04 310.12 L 430.09 322.12 L 430.14 353.05 L 430.23 275.61 L 430.28 297.14 L 430.33 364.69 L 430.38 305.52 L 430.52 268.85 L 430.57 279.05 L 430.62 323.73 L 430.67 295.72 L 430.72 288.48 L 430.86 359.24 L 430.91 303.87 L 430.96 334.55 L 431.01 322.1 L 431.06 248.9 L 431.1 306.9 L 431.15 303.53 L 431.25 378.66 L 431.3 366.98 L 431.4 325.5 L 431.44 392.15 L 431.49 344.29 L 431.54 315.84 L 431.59 350.52 L 431.83 256.43 L 431.88 374.4 L 431.93 265.36 L 431.98 323.42 L 432.03 277.02 L 432.07 238.04 L 432.12 278.46 L 432.17 299.06 L 432.22 253.2 L 432.27 336.03 L 432.32 274.79 L 432.46 341.03 L 432.56 301.06 L 432.7 374.19 L 432.75 278.61 L 432.85 305.69 L 432.99 342.64 L 433.04 266.22 L 433.09 350.32 L 433.14 347.05 L 433.19 322.78 L 433.24 366.95 L 433.28 358.68 L 433.43 285.87 L 433.48 297.91 L 433.58 359.64 L 433.62 275.06 L 433.67 408.33 L 433.72 309.44 L 433.96 240.7 L 434.01 392.23 L 434.06 327.96 L 434.11 301.99 L 434.16 411.61 L 434.2 347.84 L 434.25 269.51 L 434.35 276.06 L 434.4 290.23 L 434.45 268.73 L 434.5 282.69 L 434.54 293.84 L 434.59 288.25 L 434.64 352.16 L 434.69 249.2 L 434.74 324.63 L 434.79 349.11 L 434.83 296.74 L 434.88 373.85 L 434.98 221.4 L 435.03 267.62 L 435.08 353.62 L 435.13 296.08 L 435.17 302.77 L 435.22 335.99 L 435.27 325.83 L 435.32 295.69 L 435.37 334.29 L 435.42 314.35 L 435.46 153.51 L 435.51 366.51 L 435.61 330.01 L 435.66 248.46 L 435.71 306.51 L 435.75 295.47 L 435.8 302.37 L 435.95 316.09 L 436 401.13 L 436.05 310.07 L 436.19 352.18 L 436.24 350.37 L 436.38 309.56 L 436.43 302.54 L 436.58 336.79 L 436.63 320.77 L 436.68 286.89 L 436.77 288.55 L 436.82 309.16 L 436.87 271.72 L 436.92 352.92 L 436.97 300.66 L 437.01 278.53 L 437.06 344.12 L 437.11 305.71 L 437.16 298.12 L 437.21 316.58 L 437.26 275.35 L 437.3 298.11 L 437.35 321.59 L 437.5 201.26 L 437.55 378.65 L 437.6 305.62 L 437.64 313.87 L 437.69 312.38 L 437.74 397.84 L 437.79 308.93 L 437.84 336.73 L 437.89 284.97 L 437.93 359.64 L 437.98 246.44 L 438.03 315.21 L 438.08 334.36 L 438.13 301.44 L 438.18 375.8 L 438.23 358.47 L 438.27 291.31 L 438.32 327.62 L 438.37 311.31 L 438.42 411.09 L 438.52 388.28 L 438.56 250.89 L 438.66 265.96 L 438.81 340.23 L 438.86 337.06 L 438.95 313.9 L 439 403.74 L 439.05 318.45 L 439.1 358.73 L 439.15 347.51 L 439.44 249.51 L 439.48 346.52 L 439.58 330.79 L 439.63 336.76 L 439.73 287.77 L 439.78 321.16 L 439.82 310.43 L 439.87 267.26 L 439.92 321.75 L 439.97 272.31 L 440.02 314.6 L 440.07 296.21 L 440.11 241.87 L 440.16 337.09 L 440.21 299.63 L 440.31 307.78 L 440.41 212.79 L 440.55 346.06 L 440.65 334.96 L 440.7 344.15 L 440.74 283.03 L 440.79 285.81 L 440.84 381.63 L 440.94 355.18 L 441.08 274.38 L 441.13 312.29 L 441.18 290.77 L 441.23 283.82 L 441.33 276.66 L 441.37 388.07 L 441.42 271.54 L 441.47 368.49 L 441.57 302.14 L 441.62 306.62 L 441.76 406.49 L 441.91 254.58 L 442 345.45 L 442.05 344.25 L 442.1 350.45 L 442.25 251.04 L 442.39 374.68 L 442.54 267.01 L 442.58 281.14 L 442.63 338.75 L 442.68 277 L 442.73 255.09 L 442.78 373.37 L 442.83 337.69 L 442.97 301.49 L 443.07 341.98 L 443.12 293.22 L 443.17 344.96 L 443.41 277.37 L 443.46 285.9 L 443.51 253.69 L 443.55 370.05 L 443.6 304.55 L 443.65 304.57 L 443.7 322.07 L 443.75 312.69 L 443.8 297.85 L 443.84 326.75 L 443.89 232.65 L 443.94 234.05 L 443.99 332.08 L 444.04 271.24 L 444.14 302.41 L 444.18 319.26 L 444.23 291.4 L 444.28 305.3 L 444.33 334.1 L 444.47 267.78 L 444.52 366.85 L 444.62 342.47 L 444.67 329.4 L 444.72 361.13 L 444.81 273 L 444.86 308.53 L 444.91 277.18 L 445.01 365.53 L 445.06 258.89 L 445.15 284.09 L 445.2 327 L 445.25 272.75 L 445.3 288.77 L 445.35 210.02 L 445.39 306.21 L 445.44 365.06 L 445.49 279.45 L 445.54 283.6 L 445.59 445.23 L 445.64 320.45 L 445.69 340.97 L 445.73 248.52 L 445.78 268.28 L 445.83 299.4 L 445.88 296.48 L 445.93 246.2 L 446.02 362.22 L 446.17 278.51 L 446.22 285 L 446.27 284.33 L 446.36 338.11 L 446.41 296.51 L 446.46 402.81 L 446.51 379.36 L 446.65 313.04 L 446.7 363.06 L 446.75 287.57 L 446.8 318.16 L 446.9 420.45 L 446.94 241.08 L 446.99 302.14 L 447.04 297.46 L 447.14 356.83 L 447.19 262.03 L 447.24 365.76 L 447.33 314.86 L 447.38 353.08 L 447.43 338.65 L 447.48 338.37 L 447.53 336.6 L 447.57 254.28 L 447.67 276.09 L 447.72 353.31 L 447.82 342.7 L 447.86 383.92 L 447.91 315.03 L 447.96 377.34 L 448.01 366.51 L 448.11 303.8 L 448.16 350.09 L 448.2 309.49 L 448.3 258.21 L 448.35 279.32 L 448.4 442.28 L 448.45 264.91 L 448.54 328.42 L 448.59 277.01 L 448.64 300.27 L 448.69 295.14 L 448.74 351.15 L 448.79 326.6 L 448.93 292.62 L 448.98 392.13 L 449.03 225.97 L 449.08 282.87 L 449.12 350.3 L 449.17 267.77 L 449.27 330.86 L 449.32 249.19 L 449.37 362.59 L 449.46 351.77 L 449.51 339.12 L 449.56 290.54 L 449.61 333.35 L 449.66 357.65 L 449.8 263.81 L 449.85 351.11 L 449.9 235.91 L 449.95 306.2 L 450 351.07 L 450.04 347.17 L 450.09 294.25 L 450.14 312.72 L 450.19 331.94 L 450.24 307.27 L 450.29 220.61 L 450.34 255.87 L 450.43 344.24 L 450.48 273.57 L 450.53 359.68 L 450.58 394.03 L 450.63 355.76 L 450.72 379.08 L 450.77 324.78 L 450.87 329.65 L 450.92 300.5 L 450.97 338.12 L 451.01 440.7 L 451.06 355.82 L 451.11 281.08 L 451.16 362.54 L 451.21 364.84 L 451.26 298.2 L 451.3 356.15 L 451.35 356.28 L 451.4 304.94 L 451.45 320.86 L 451.5 339.49 L 451.55 333.12 L 451.59 272.06 L 451.64 301.52 L 451.69 345.44 L 451.74 333.36 L 451.79 251.41 L 451.84 324.52 L 451.89 300.54 L 451.93 302.22 L 452.08 355.9 L 452.27 252.91 L 452.47 352.5 L 452.56 257.43 L 452.71 324.19 L 452.81 270.99 L 452.85 277.56 L 452.95 312.51 L 453 307.92 L 453.1 360.65 L 453.14 233.19 L 453.19 349.42 L 453.24 355.41 L 453.29 257.04 L 453.34 293.96 L 453.39 292.14 L 453.44 336.96 L 453.48 314.3 L 453.58 203.79 L 453.68 308.27 L 453.73 287.19 L 453.87 392.48 L 454.02 266.6 L 454.16 367.67 L 454.21 362.49 L 454.31 303.69 L 454.4 323.3 L 454.45 340.44 L 454.5 296.22 L 454.6 297.89 L 454.74 374.8 L 454.89 256.47 L 454.99 346.02 L 455.03 309.82 L 455.13 333.23 L 455.23 293.6 L 455.28 340.33 L 455.32 253.26 L 455.37 375.24 L 455.42 282.89 L 455.52 362.39 L 455.62 264.45 L 455.66 386.49 L 455.71 293.09 L 455.86 390.72 L 455.95 269.95 L 456 305.31 L 456.05 346.86 L 456.1 331.9 L 456.15 303.75 L 456.2 325.56 L 456.34 382.7 L 456.44 243.5 L 456.49 263.83 L 456.54 327.05 L 456.58 325.8 L 456.73 266.28 L 456.83 333.94 L 456.87 292.79 L 456.97 305.27 L 457.02 234.06 L 457.07 354.7 L 457.12 329.49 L 457.26 279.12 L 457.31 302.99 L 457.36 289.4 L 457.41 255.88 L 457.46 368.33 L 457.5 328.24 L 457.55 236.43 L 457.6 330.54 L 457.75 366.93 L 457.94 285.77 L 457.99 322.79 L 458.04 283.51 L 458.09 271.66 L 458.13 377.87 L 458.18 359.93 L 458.28 368.05 L 458.33 273.12 L 458.42 344.02 L 458.52 223.4 L 458.57 366.08 L 458.67 349.32 L 458.72 293.42 L 458.76 322.7 L 458.81 319.06 L 458.86 297.83 L 458.91 326.79 L 458.96 314.94 L 459.01 295.57 L 459.05 317.97 L 459.15 355.23 L 459.2 299.48 L 459.25 311.02 L 459.44 359.32 L 459.59 236.48 L 459.64 392.59 L 459.68 386.87 L 459.73 304.58 L 459.78 324.56 L 459.88 343.34 L 459.93 327.75 L 459.97 332.04 L 460.02 219.14 L 460.07 331.03 L 460.12 325.45 L 460.17 278.43 L 460.22 323.73 L 460.36 284.67 L 460.41 293.88 L 460.51 270.3 L 460.65 336.14 L 460.7 281.03 L 460.8 374.3 L 460.85 346.32 L 460.9 292.47 L 460.94 337.91 L 460.99 326.3 L 461.14 225.22 L 461.33 357.92 L 461.48 268.52 L 461.57 351.15 L 461.62 323.02 L 461.67 288.97 L 461.72 303.59 L 461.77 337.37 L 461.82 276.83 L 461.86 393.89 L 461.91 288.87 L 462.01 377.11 L 462.11 267.62 L 462.15 382.5 L 462.2 320.67 L 462.25 313.44 L 462.3 333.38 L 462.35 331.92 L 462.45 305.98 L 462.49 256.3 L 462.54 343.71 L 462.59 304.1 L 462.64 279.03 L 462.69 391.82 L 462.74 289.34 L 462.78 276.02 L 462.93 340.59 L 462.98 369.41 L 463.03 338.54 L 463.08 344.8 L 463.12 277.49 L 463.22 288.17 L 463.32 267.3 L 463.51 359.43 L 463.56 251.24 L 463.61 271.95 L 463.66 359.45 L 463.7 352.62 L 463.75 246.48 L 463.85 267.59 L 463.9 254.92 L 464.04 365.78 L 464.19 259.19 L 464.33 351.06 L 464.38 277.51 L 464.43 372.2 L 464.53 320.52 L 464.58 355.45 L 464.63 341.03 L 464.67 328.11 L 464.72 276.54 L 464.77 289.3 L 464.96 356.55 L 465.01 329.08 L 465.06 324.26 L 465.11 284.56 L 465.21 292.69 L 465.25 366.4 L 465.3 251.91 L 465.35 342.79 L 465.4 358.28 L 465.59 256.71 L 465.74 374 L 465.79 263.53 L 465.84 331.16 L 465.88 332.81 L 465.93 396.19 L 465.98 353.1 L 466.03 339.12 L 466.08 194.4 L 466.13 279.35 L 466.18 271.52 L 466.22 348.78 L 466.27 307.03 L 466.32 255.3 L 466.37 290.08 L 466.47 263.76 L 466.56 310.05 L 466.61 213.75 L 466.66 378.53 L 466.71 303.86 L 466.76 286.37 L 466.81 307.82 L 466.85 311.84 L 466.9 329.07 L 466.95 268.62 L 467 391.41 L 467.1 374.25 L 467.29 273.78 L 467.34 349.64 L 467.39 311.43 L 467.43 230.54 L 467.48 281.88 L 467.53 383.22 L 467.58 283.2 L 467.68 310.43 L 467.87 272.81 L 467.92 298.17 L 467.97 276.91 L 468.02 289.98 L 468.11 378.51 L 468.16 237.8 L 468.21 350.58 L 468.26 360.68 L 468.36 268.38 L 468.45 261.56 L 468.5 336.05 L 468.55 329.38 L 468.6 373.36 L 468.65 231.58 L 468.69 307.8 L 468.74 283.75 L 468.89 392.07 L 469.08 247.93 L 469.18 369.28 L 469.23 296.34 L 469.28 330.86 L 469.42 241.64 L 469.61 323.7 L 469.71 336.54 L 469.81 338.31 L 469.86 309.61 L 469.91 377.51 L 469.95 332.02 L 470 288.24 L 470.1 357.12 L 470.15 240.71 L 470.24 242.43 L 470.29 314.86 L 470.34 292.12 L 470.39 276.98 L 470.49 346.96 L 470.63 282.05 L 470.73 341.37 L 470.78 302.86 L 470.83 345.13 L 470.87 353.11 L 470.92 300.71 L 470.97 329.94 L 471.02 371.88 L 471.07 278.23 L 471.12 322.61 L 471.16 413.01 L 471.21 346.94 L 471.26 273.43 L 471.31 312.95 L 471.36 343.28 L 471.41 304.62 L 471.46 343.2 L 471.55 298.39 L 471.6 356.26 L 471.65 241.69 L 471.7 348.66 L 471.75 383.15 L 471.89 238.98 L 471.94 287.54 L 472.04 286.27 L 472.13 393.46 L 472.18 325.65 L 472.23 295.84 L 472.28 302.99 L 472.33 354.13 L 472.38 275.23 L 472.42 331.63 L 472.47 357.23 L 472.52 310.14 L 472.57 315.53 L 472.62 365.65 L 472.67 356.26 L 472.76 243.07 L 472.81 424.37 L 472.86 421.11 L 473.01 281.44 L 473.05 385.99 L 473.1 302.39 L 473.15 299.79 L 473.2 277.37 L 473.3 348.88 L 473.34 323.33 L 473.39 336.16 L 473.49 334.81 L 473.54 284.02 L 473.59 323.45 L 473.64 320.83 L 473.68 288.38 L 473.73 323.96 L 473.78 302.96 L 473.83 377.91 L 473.88 308.54 L 473.93 310.16 L 474.07 348.69 L 474.12 265.6 L 474.17 317.53 L 474.31 354.37 L 474.36 303.62 L 474.41 306.58 L 474.46 348.24 L 474.51 344.79 L 474.56 302.09 L 474.6 363.58 L 474.65 255.31 L 474.7 307.73 L 474.8 303.21 L 474.85 393.96 L 474.99 275.66 L 475.04 278.5 L 475.09 347.91 L 475.14 255.57 L 475.19 326.15 L 475.23 325.4 L 475.28 271.51 L 475.33 275.27 L 475.38 340.72 L 475.48 339.16 L 475.52 354.05 L 475.57 342.99 L 475.62 297.89 L 475.67 393.37 L 475.72 304.06 L 475.77 348.84 L 475.81 325.73 L 475.86 265.3 L 475.91 296.36 L 475.96 329.98 L 476.01 243.84 L 476.06 384 L 476.11 311.99 L 476.15 276.61 L 476.2 372.71 L 476.25 295.26 L 476.3 324.9 L 476.35 249.77 L 476.4 279.65 L 476.44 292.13 L 476.49 380.81 L 476.54 326 L 476.59 248.86 L 476.64 282.51 L 476.78 393.79 L 476.83 309.3 L 476.88 358.7 L 476.93 378.07 L 476.98 358.7 L 477.03 283.88 L 477.07 383.42 L 477.12 322.44 L 477.17 230.6 L 477.22 334.89 L 477.27 335.04 L 477.32 366.43 L 477.36 269.13 L 477.46 284.93 L 477.51 295.97 L 477.56 279.06 L 477.61 297.85 L 477.66 430.55 L 477.7 274.57 L 477.9 400.88 L 477.95 308.86 L 477.99 344.82 L 478.04 381.82 L 478.14 236.25 L 478.19 265.02 L 478.33 377.88 L 478.43 345.26 L 478.53 246.29 L 478.58 281.77 L 478.62 300.13 L 478.67 298.92 L 478.72 383 L 478.77 285.76 L 478.87 347.12 L 478.96 323.19 L 479.01 290.35 L 479.06 336.14 L 479.11 269.5 L 479.16 312.38 L 479.21 335.73 L 479.25 258.45 L 479.3 321.16 L 479.35 313.92 L 479.4 361.41 L 479.45 267.43 L 479.54 292.05 L 479.69 371.44 L 479.88 284.81 L 479.93 337.02 L 479.98 317.6 L 480.03 306.46 L 480.08 248.3 L 480.13 282.03 L 480.22 261.23 L 480.27 390.27 L 480.32 381.19 L 480.42 252.81 L 480.51 369.16 L 480.56 329.62 L 480.66 261.38 L 480.71 311.99 L 480.8 333.84 L 480.9 296.22 L 480.95 360.05 L 481 323.89 L 481.09 227.67 L 481.14 296.52 L 481.19 415.88 L 481.24 341.75 L 481.39 268.95 L 481.43 327.39 L 481.48 294.27 L 481.53 296.23 L 481.72 364.99 L 481.77 313.8 L 481.87 315.64 L 481.92 364 L 481.97 252.08 L 482.06 260.94 L 482.11 344.31 L 482.16 332.28 L 482.21 296.2 L 482.31 303.08 L 482.45 270 L 482.6 356.46 L 482.64 302.47 L 482.69 326.77 L 482.74 337.45 L 482.89 300.2 L 482.94 361.19 L 482.98 342.55 L 483.03 300.5 L 483.08 338.8 L 483.13 334.53 L 483.18 294.71 L 483.23 307.34 L 483.32 350.8 L 483.42 285.33 L 483.47 290.83 L 483.52 294.91 L 483.61 352.18 L 483.66 318.61 L 483.71 322.63 L 483.76 343.88 L 483.86 201.82 L 483.9 338.47 L 483.95 331.39 L 484 287.75 L 484.05 348.5 L 484.15 335.5 L 484.24 283.59 L 484.29 294.95 L 484.34 380.25 L 484.44 360.84 L 484.63 240.11 L 484.68 329.66 L 484.73 308.46 L 484.78 285.78 L 484.87 382.09 L 484.92 297.26 L 484.97 303.84 L 485.02 400.81 L 485.07 320.34 L 485.16 345.7 L 485.21 315.68 L 485.26 382.14 L 485.31 379.84 L 485.36 268.05 L 485.41 292.22 L 485.45 321.01 L 485.5 312.66 L 485.55 304.88 L 485.6 315.58 L 485.65 224.83 L 485.79 368.44 L 485.89 247.77 L 486.04 389.4 L 486.08 272.56 L 486.13 347.58 L 486.23 288.76 L 486.28 358.78 L 486.33 313.52 L 486.37 263.22 L 486.42 353.84 L 486.47 329.07 L 486.52 314.84 L 486.57 388.67 L 486.62 335.37 L 486.71 236.56 L 486.76 357.88 L 486.81 313.13 L 486.86 301.43 L 486.96 342.89 L 487 325.07 L 487.1 352.92 L 487.2 321.56 L 487.25 417.54 L 487.3 310.1 L 487.34 324.26 L 487.39 312.73 L 487.44 405.3 L 487.49 237.97 L 487.54 314.99 L 487.59 388.25 L 487.63 273.14 L 487.68 290.52 L 487.73 339.83 L 487.78 266.97 L 487.83 293.47 L 487.88 360.39 L 487.92 345.2 L 488.02 250.64 L 488.17 441.16 L 488.26 262.79 L 488.31 355.62 L 488.36 323.62 L 488.41 410.72 L 488.46 329.99 L 488.51 282.93 L 488.6 384.39 L 488.65 253.67 L 488.7 289.45 L 488.75 348.49 L 488.8 318.16 L 488.85 239.09 L 488.89 368.46 L 488.94 276.24 L 489.09 318.46 L 489.14 283.89 L 489.18 356.6 L 489.23 311.06 L 489.28 260.77 L 489.33 322.05 L 489.43 279.27 L 489.52 410.05 L 489.57 259.67 L 489.67 294.94 L 489.72 334.36 L 489.77 311.91 L 489.81 283.04 L 489.86 318.32 L 490.06 425.92 L 490.2 217.35 L 490.3 367.13 L 490.35 240.59 L 490.4 348.62 L 490.59 274.32 L 490.64 287.81 L 490.69 356.97 L 490.73 343.53 L 490.78 335.06 L 490.93 270.56 L 491.07 413.97 L 491.22 277.15 L 491.27 319.76 L 491.32 283.31 L 491.36 285.88 L 491.46 344.38 L 491.56 258.81 L 491.65 385.26 L 491.7 277.49 L 491.75 377.57 L 491.8 313.62 L 491.85 406.78 L 491.9 268.74 L 491.95 296.58 L 492.04 367.92 L 492.09 344.63 L 492.19 285.01 L 492.24 302.72 L 492.28 371.6 L 492.33 282.5 L 492.38 298.11 L 492.48 389.8 L 492.67 241.63 L 492.72 261.54 L 492.77 388.35 L 492.82 322.64 L 492.87 267.81 L 492.96 282.77 L 493.11 344.59 L 493.25 287.12 L 493.3 277.21 L 493.35 361.6 L 493.4 353.85 L 493.45 280.72 L 493.5 304.96 L 493.54 399.53 L 493.59 355.65 L 493.64 216.66 L 493.69 327.71 L 493.74 323.96 L 493.79 191.95 L 493.83 292.61 L 493.88 375.68 L 493.93 343.83 L 493.98 249.94 L 494.03 356.63 L 494.13 254.42 L 494.17 316.45 L 494.22 315.13 L 494.27 353.52 L 494.32 347.06 L 494.37 266.75 L 494.42 288.79 L 494.51 334.49 L 494.61 241.24 L 494.75 362.2 L 494.85 208.53 L 495 405.51 L 495.09 235.43 L 495.19 278.72 L 495.29 360.16 L 495.34 326.83 L 495.38 267.31 L 495.43 296.79 L 495.53 286.2 L 495.68 354.65 L 495.72 361.76 L 495.82 373.86 L 495.87 252.47 L 495.97 375.36 L 496.06 363.31 L 496.11 274.71 L 496.16 289.9 L 496.21 310.61 L 496.26 245.93 L 496.31 310.79 L 496.45 368.51 L 496.55 279.91 L 496.6 316.52 L 496.74 244.07 L 496.93 352.27 L 496.98 385.27 L 497.03 363.69 L 497.18 269.71 L 497.27 400.57 L 497.42 238.89 L 497.66 386.71 L 497.86 268.49 L 497.9 399.54 L 497.95 292.23 L 498 304.74 L 498.05 384.12 L 498.1 297.28 L 498.15 329.06 L 498.19 267.09 L 498.24 387.55 L 498.29 287.71 L 498.34 328.02 L 498.44 211.61 L 498.48 332.28 L 498.58 319.26 L 498.63 318.51 L 498.68 274.46 L 498.78 350.24 L 498.92 257.12 L 499.02 343.11 L 499.07 291.64 L 499.11 294.07 L 499.26 379.21 L 499.31 284.86 L 499.36 354.31 L 499.45 335.02 L 499.5 358.75 L 499.7 230.91 L 499.79 394.46 L 499.84 318.05 L 499.89 344.43 L 499.94 278.41 L 499.99 434.72 L 500.03 301.96 L 500.08 381.38 L 500.13 349.51 L 500.33 251.03 L 500.37 374.43 L 500.42 372.87 L 500.47 263.54 L 500.52 307.26 L 500.57 348.58 L 500.62 300.54 L 500.66 278.78 L 500.71 350.1 L 500.76 278.76 L 500.81 322.81 L 500.86 259.42 L 500.91 417.99 L 500.96 240.76 L 501.1 343.1 L 501.2 270.79 L 501.34 348.68 L 501.39 348.28 L 501.44 283.05 L 501.49 359.5 L 501.54 286.52 L 501.78 409.1 L 501.83 169.92 L 501.88 336.32 L 501.92 265.8 L 501.97 351.27 L 502.02 352.88 L 502.07 317.69 L 502.12 333.58 L 502.21 410.13 L 502.41 285.49 L 502.51 284.18 L 502.55 363.11 L 502.65 335.41 L 502.7 356.81 L 502.8 253.15 L 502.84 362.83 L 502.89 299.53 L 502.99 295.52 L 503.04 341.59 L 503.09 264.8 L 503.14 288.35 L 503.18 293.03 L 503.23 232.13 L 503.28 346.98 L 503.33 316.99 L 503.43 273.31 L 503.47 311.08 L 503.52 287.65 L 503.57 255.75 L 503.62 430.83 L 503.67 325.91 L 503.91 234.97 L 503.96 378.61 L 504.01 301.7 L 504.1 286.23 L 504.2 377.19 L 504.35 303.81 L 504.44 353.31 L 504.49 319.2 L 504.54 358.32 L 504.59 358.58 L 504.69 292.4 L 504.88 430.83 L 504.98 287.06 L 505.02 289.88 L 505.07 268.19 L 505.12 330.82 L 505.17 309.74 L 505.22 280.05 L 505.31 360.02 L 505.41 254.12 L 505.46 354.73 L 505.51 293.36 L 505.61 305.57 L 505.75 369.7 L 505.8 275.6 L 505.9 291.46 L 505.94 398.92 L 505.99 275.09 L 506.04 276.3 L 506.09 302.77 L 506.14 430.83 L 506.19 305.99 L 506.24 308.08 L 506.28 358.4 L 506.33 344.46 L 506.48 267.88 L 506.62 357.44 L 506.67 323.01 L 506.72 344.09 L 506.77 418.34 L 506.82 283.48 L 506.86 357.5 L 506.91 356.23 L 506.96 309.15 L 507.01 369.3 L 507.06 359.38 L 507.11 279.71 L 507.2 289.89 L 507.25 336.38 L 507.35 256.81 L 507.4 288.26 L 507.45 330.34 L 507.49 286.68 L 507.54 286.32 L 507.59 309.97 L 507.64 270.7 L 507.69 297.9 L 507.74 371.44 L 507.79 327.56 L 507.83 311.7 L 507.93 382.58 L 508.03 296.26 L 508.08 363.39 L 508.12 295.51 L 508.17 360.95 L 508.22 373.09 L 508.27 279.94 L 508.32 310.08 L 508.37 400.88 L 508.42 392.16 L 508.46 313.34 L 508.51 357.73 L 508.56 356.64 L 508.61 381.64 L 508.71 224.15 L 508.75 392.79 L 508.85 358.17 L 508.9 373.14 L 508.95 282.62 L 509 328.68 L 509.04 330.31 L 509.14 237.1 L 509.29 368 L 509.38 276.97 L 509.43 300.62 L 509.48 306.16 L 509.53 272.46 L 509.58 420.35 L 509.63 281.7 L 509.72 317.25 L 509.77 300.41 L 509.92 410.36 L 509.97 303.54 L 510.06 321.68 L 510.11 396.45 L 510.16 319.19 L 510.21 297.62 L 510.35 351.23 L 510.69 249.38 L 510.89 363.64 L 510.98 279.77 L 511.13 386.18 L 511.22 254.46 L 511.27 308.3 L 511.32 347.13 L 511.37 270.75 L 511.42 293.32 L 511.47 306.48 L 511.52 281.2 L 511.61 270.7 L 511.66 411.75 L 511.71 293.23 L 511.81 299.6 L 511.9 390.03 L 512.05 228.14 L 512.1 326.1 L 512.14 261.99 L 512.19 243.5 L 512.24 253.16 L 512.29 403.26 L 512.39 361.03 L 512.44 307.47 L 512.48 403.84 L 512.53 290.08 L 512.58 307.69 L 512.63 263.62 L 512.68 266.27 L 512.77 390.14 L 512.82 292.27 L 512.92 313.76 L 512.97 267.7 L 513.02 404.84 L 513.07 329.1 L 513.11 361.78 L 513.21 297.53 L 513.26 302.5 L 513.31 298.94 L 513.36 353.32 L 513.4 343.53 L 513.5 307.96 L 513.55 321.3 L 513.6 359.38 L 513.65 331.38 L 513.7 309.1 L 513.74 368.96 L 513.79 359.25 L 513.89 223.31 L 513.94 309.38 L 513.99 367.47 L 514.03 251.14 L 514.08 293.63 L 514.13 363.31 L 514.18 303.94 L 514.23 299.13 L 514.28 273.47 L 514.32 358.67 L 514.37 272.71 L 514.42 333.71 L 514.47 304.04 L 514.52 372.02 L 514.57 265.37 L 514.62 306.56 L 514.66 356.44 L 514.71 297.98 L 514.81 276.85 L 514.86 281.29 L 514.91 402.63 L 514.95 366.17 L 515.05 308.75 L 515.1 373.68 L 515.15 272.56 L 515.2 297.4 L 515.25 399.4 L 515.29 373.37 L 515.39 401.2 L 515.44 231.6 L 515.49 249.68 L 515.54 374.94 L 515.58 300.38 L 515.63 274.59 L 515.73 405.77 L 515.78 255.77 L 515.83 329.77 L 515.87 397.35 L 515.92 273.67 L 516.02 301.02 L 516.17 397.65 L 516.21 287.93 L 516.26 299.29 L 516.31 387.86 L 516.36 363.3 L 516.41 358.88 L 516.5 325.75 L 516.55 260.62 L 516.65 275.13 L 516.8 327.5 L 516.84 281.98 L 516.94 400.82 L 516.99 276.61 L 517.04 380.37 L 517.09 374.03 L 517.13 258.5 L 517.18 336.33 L 517.38 278.61 L 517.47 364.37 L 517.52 279.51 L 517.57 326.04 L 517.62 344.16 L 517.72 290.5 L 517.76 310.97 L 517.81 417.53 L 517.86 233.76 L 517.91 322.8 L 517.96 386.2 L 518.05 265.26 L 518.1 271.05 L 518.25 403.09 L 518.35 267.46 L 518.39 309.81 L 518.44 310.39 L 518.49 392.39 L 518.54 250.23 L 518.64 285.84 L 518.73 420.67 L 518.83 298.37 L 518.88 373.4 L 518.93 218.6 L 519.02 261.96 L 519.07 450.85 L 519.12 386.52 L 519.17 299.34 L 519.27 309.97 L 519.31 324.52 L 519.36 277.28 L 519.41 352.62 L 519.46 294.96 L 519.56 271.01 L 519.6 355.43 L 519.65 288.05 L 519.7 286.28 L 519.75 272.7 L 519.8 426.8 L 519.9 409.54 L 520.04 339.65 L 520.09 331.51 L 520.14 275.34 L 520.19 281.06 L 520.33 401.48 L 520.53 238.25 L 520.62 347.81 L 520.67 321.01 L 520.72 284.39 L 520.77 304.53 L 520.82 398.95 L 520.86 365.51 L 521.01 273.34 L 521.15 336.11 L 521.2 289.78 L 521.25 352.06 L 521.3 332.38 L 521.35 271.85 L 521.4 339.56 L 521.45 300.24 L 521.49 329.63 L 521.54 356.56 L 521.64 297.02 L 521.69 327.05 L 521.74 317.14 L 521.78 358.83 L 521.83 323.36 L 521.88 287.28 L 521.98 383.34 L 522.08 243.84 L 522.12 260.89 L 522.17 349.74 L 522.27 338.67 L 522.37 285.57 L 522.41 352.55 L 522.46 292.79 L 522.51 302.49 L 522.56 257.33 L 522.7 399.23 L 522.8 291.62 L 522.85 376.56 L 522.9 356.37 L 522.95 320.5 L 523 334.12 L 523.04 360.99 L 523.09 344.01 L 523.19 259.58 L 523.24 279.73 L 523.29 305.19 L 523.33 261.42 L 523.38 387.92 L 523.43 270.4 L 523.58 346.93 L 523.67 298.8 L 523.77 360.72 L 523.87 253.9 L 523.92 269.81 L 523.96 271.07 L 524.01 347.63 L 524.11 335.2 L 524.16 238.57 L 524.21 338 L 524.26 268.31 L 524.3 283.14 L 524.35 355.76 L 524.4 297.98 L 524.45 259.92 L 524.5 287.84 L 524.55 305.35 L 524.59 270.65 L 524.64 380.26 L 524.69 339.22 L 524.84 264.3 L 524.88 343.89 L 524.93 313.35 L 524.98 265.21 L 525.03 267.74 L 525.13 357.9 L 525.18 332.25 L 525.22 300.77 L 525.27 425.69 L 525.32 257.37 L 525.42 273.11 L 525.47 254.66 L 525.61 393.09 L 525.66 247.5 L 525.71 346.13 L 525.76 317.98 L 525.81 378.64 L 525.85 340.04 L 525.95 294.7 L 526.05 362.98 L 526.1 326.5 L 526.14 329.32 L 526.19 266.17 L 526.24 343.65 L 526.29 373.2 L 526.43 262.16 L 526.48 261.95 L 526.58 334.52 L 526.63 289.13 L 526.68 390.53 L 526.73 273.1 L 526.77 261.38 L 526.97 355 L 527.02 299.86 L 527.06 302.96 L 527.11 342.31 L 527.16 273.78 L 527.26 275.15 L 527.31 360.55 L 527.36 301.87 L 527.45 274.22 L 527.5 328.94 L 527.55 313.59 L 527.6 310.17 L 527.65 269.28 L 527.84 431.41 L 527.89 307.24 L 527.98 320.53 L 528.03 283.22 L 528.08 329.85 L 528.13 304.08 L 528.18 380.63 L 528.23 372.84 L 528.28 266.86 L 528.32 313.35 L 528.37 388.67 L 528.42 311.18 L 528.52 250.84 L 528.66 352.43 L 528.71 392.47 L 528.76 360.8 L 528.81 318.28 L 528.91 327.54 L 528.95 338.88 L 529.05 222.82 L 529.2 233.78 L 529.24 378.81 L 529.34 352.69 L 529.39 374.54 L 529.44 270.7 L 529.49 369.79 L 529.58 275.82 L 529.63 353.98 L 529.68 304.82 L 529.73 281.21 L 529.78 345.47 L 529.83 265.93 L 530.02 358.96 L 530.07 234.55 L 530.12 340.77 L 530.31 291.26 L 530.36 350.01 L 530.41 316.32 L 530.46 274.75 L 530.6 371.94 L 530.7 305.26 L 530.75 352.89 L 530.79 236.31 L 530.84 379.2 L 530.89 266.38 L 531.04 359.56 L 531.09 289.87 L 531.13 297.35 L 531.18 389.17 L 531.23 322.73 L 531.28 325.6 L 531.33 279.85 L 531.38 370.49 L 531.42 284.33 L 531.47 301.38 L 531.52 251.44 L 531.67 387.58 L 531.76 329.86 L 531.81 367.68 L 531.86 284.17 L 531.91 338.31 L 532.05 286.36 L 532.1 347.48 L 532.15 272.72 L 532.2 324.13 L 532.25 297.26 L 532.3 289.74 L 532.34 293.73 L 532.39 350.49 L 532.49 341.72 L 532.54 305.06 L 532.59 306.67 L 532.64 412.87 L 532.68 408.4 L 532.73 283.24 L 532.83 296.5 L 532.88 351.14 L 532.93 299.11 L 532.97 304.07 L 533.02 362.96 L 533.12 265.95 L 533.17 292.32 L 533.22 397.02 L 533.26 348.62 L 533.36 275.9 L 533.46 468.16 L 533.51 361.39 L 533.65 255.01 L 533.75 247.5 L 533.8 366.8 L 533.89 283.53 L 533.94 355.23 L 533.99 347.7 L 534.04 263.88 L 534.09 334.13 L 534.14 294.68 L 534.19 330.34 L 534.23 324.3 L 534.38 244.4 L 534.43 317.69 L 534.48 278.03 L 534.52 289.13 L 534.57 265.56 L 534.62 329.54 L 534.67 295.99 L 534.72 297.68 L 534.77 380.27 L 534.81 280.46 L 534.91 350.47 L 535.01 275.67 L 535.06 333.76 L 535.11 294.42 L 535.15 256.41 L 535.2 299.88 L 535.35 357.08 L 535.4 271.32 L 535.44 321.19 L 535.49 356.32 L 535.54 344.24 L 535.59 315.81 L 535.64 345.04 L 535.88 274.18 L 536.03 339.6 L 536.07 282.04 L 536.12 325.61 L 536.17 326.88 L 536.22 302.58 L 536.27 314.51 L 536.32 341.98 L 536.41 286.09 L 536.51 340.63 L 536.56 265.99 L 536.61 312.08 L 536.7 356.17 L 536.85 264.27 L 536.9 285.91 L 536.95 368.85 L 536.99 331.82 L 537.04 260.54 L 537.09 280.59 L 537.24 326.65 L 537.33 294.08 L 537.38 350.12 L 537.43 272.18 L 537.53 286.38 L 537.58 357.6 L 537.67 222.08 L 537.82 355.04 L 537.87 235.45 L 537.92 372.48 L 538.06 242.54 L 538.11 360.11 L 538.16 299.11 L 538.21 268.84 L 538.25 301.56 L 538.4 336.6 L 538.45 287 L 538.5 290.45 L 538.54 304.91 L 538.59 275.66 L 538.64 333.5 L 538.69 327.68 L 538.79 291.74 L 538.84 334.45 L 538.88 290.85 L 538.93 289 L 539.08 335.86 L 539.17 347.77 L 539.22 247.25 L 539.32 380.46 L 539.37 287.41 L 539.42 308.75 L 539.47 335.32 L 539.51 321.36 L 539.56 325.3 L 539.61 287.16 L 539.66 366.82 L 539.71 360.27 L 539.76 264.81 L 539.8 293.09 L 539.85 324.05 L 539.95 337.79 L 540 228.33 L 540.05 347.07 L 540.09 302.88 L 540.14 305.36 L 540.19 253.05 L 540.24 288.76 L 540.29 293.77 L 540.34 287.57 L 540.43 270.7 L 540.48 341 L 540.53 336.92 L 540.58 304.2 L 540.68 389 L 540.77 297.97 L 540.92 354.75 L 541.02 243.36 L 541.06 331.43 L 541.16 319.7 L 541.21 327.32 L 541.26 282.8 L 541.31 384.39 L 541.35 340.27 L 541.4 302.16 L 541.45 311.28 L 541.5 385.72 L 541.6 214.82 L 541.65 342.54 L 541.69 276.29 L 541.84 374.16 L 541.89 285.72 L 541.94 300.51 L 541.98 356.2 L 542.13 268.7 L 542.23 334.04 L 542.27 228.31 L 542.32 255.31 L 542.42 354.56 L 542.47 331.65 L 542.52 291.1 L 542.57 338.08 L 542.61 343.4 L 542.66 296.22 L 542.71 302.33 L 542.76 371.68 L 542.9 228.27 L 543.05 346.35 L 543.1 288.38 L 543.15 329.56 L 543.29 256.11 L 543.49 359.98 L 543.53 257.6 L 543.58 288.12 L 543.63 371.74 L 543.68 367.13 L 543.73 343.15 L 543.78 248.01 L 543.82 376.13 L 543.87 318.91 L 543.92 308.45 L 543.97 362.02 L 544.02 328.29 L 544.07 251.15 L 544.12 266.13 L 544.16 378.18 L 544.21 297.9 L 544.26 315.24 L 544.31 268.41 L 544.36 368.47 L 544.41 311.54 L 544.45 285.98 L 544.5 363.66 L 544.55 317.14 L 544.6 317.73 L 544.65 297.61 L 544.7 341.62 L 544.75 205.47 L 544.79 287.5 L 544.94 363.23 L 545.08 284.27 L 545.18 344.71 L 545.23 334.69 L 545.33 283.48 L 545.37 371.35 L 545.42 336.95 L 545.47 280.14 L 545.52 342.36 L 545.57 309.85 L 545.62 352.43 L 545.67 266.99 L 545.71 328.41 L 545.76 334.84 L 545.81 435.87 L 545.86 320.53 L 545.96 261.68 L 546 313.67 L 546.05 309.44 L 546.1 249.19 L 546.15 319.08 L 546.2 321.2 L 546.25 274.08 L 546.3 366.18 L 546.34 262.23 L 546.44 341.25 L 546.49 332.18 L 546.54 344.47 L 546.59 283.09 L 546.63 339.06 L 546.68 404.2 L 546.73 342.5 L 546.78 285.51 L 546.83 324.75 L 546.92 361.66 L 546.97 266.55 L 547.07 289.89 L 547.12 403.01 L 547.17 327.91 L 547.22 354.12 L 547.26 327.47 L 547.31 309.08 L 547.36 334.18 L 547.46 267.86 L 547.55 366.15 L 547.6 274.01 L 547.65 345.76 L 547.75 270 L 547.8 310.27 L 548.04 369.2 L 548.09 296.88 L 548.18 315.54 L 548.23 270.81 L 548.28 280.76 L 548.33 302.24 L 548.38 279.74 L 548.43 284.77 L 548.48 315.13 L 548.52 288.02 L 548.57 256.26 L 548.72 384.25 L 548.91 304.98 L 548.96 327.26 L 549.01 322.78 L 549.06 317.14 L 549.1 341.9 L 549.15 286.32 L 549.2 346.34 L 549.3 261.26 L 549.35 309.4 L 549.4 341.53 L 549.44 337.27 L 549.54 286.31 L 549.59 345.19 L 549.64 342.07 L 549.69 230.27 L 549.73 351.45 L 549.78 250.57 L 549.88 342.55 L 549.93 325.37 L 550.03 330.27 L 550.07 298.79 L 550.12 388.99 L 550.17 269.83 L 550.22 295.45 L 550.32 383.13 L 550.36 243.25 L 550.41 384.51 L 550.51 291.23 L 550.56 367.53 L 550.61 264 L 550.65 382.58 L 550.7 392.56 L 550.8 351.66 L 550.9 368.69 L 550.95 234.63 L 550.99 307.41 L 551.09 293.08 L 551.14 348.21 L 551.19 328.31 L 551.33 230.09 L 551.43 374.31 L 551.48 369.21 L 551.53 373.46 L 551.67 232.05 L 551.72 435.3 L 551.77 342.58 L 551.87 229.66 L 551.96 353.81 L 552.11 283.83 L 552.16 288.47 L 552.3 235.58 L 552.54 375.05 L 552.69 278.98 L 552.74 367.48 L 552.79 256.4 L 552.88 396.87 L 552.93 300.82 L 552.98 355.98 L 553.03 353.59 L 553.08 318.26 L 553.13 364.09 L 553.17 313.02 L 553.22 307.96 L 553.27 267.34 L 553.37 368.66 L 553.42 204.98 L 553.46 342.57 L 553.51 257.99 L 553.56 321.28 L 553.61 331.43 L 553.66 222.9 L 553.71 278.1 L 553.76 334.06 L 553.8 325.61 L 553.85 283.3 L 553.95 291.38 L 554 328.9 L 554.05 320.95 L 554.09 303.01 L 554.14 322.15 L 554.19 179 L 554.24 309.85 L 554.29 357.53 L 554.34 331.7 L 554.38 334.47 L 554.43 360.96 L 554.48 232.77 L 554.53 380.79 L 554.58 263.47 L 554.63 369.36 L 554.68 336.33 L 554.72 276.91 L 554.77 313.96 L 554.82 306 L 554.87 232.87 L 554.92 286.37 L 554.97 260.94 L 555.11 312.86 L 555.16 244.13 L 555.21 279.72 L 555.26 297.26 L 555.31 292.53 L 555.35 388.39 L 555.4 304.68 L 555.5 356.83 L 555.6 364.42 L 555.64 251.56 L 555.69 371.21 L 555.74 367.35 L 555.89 287.28 L 555.93 302.17 L 556.08 334.78 L 556.18 274.61 L 556.23 360.65 L 556.27 298.5 L 556.37 350.34 L 556.52 309.82 L 556.56 318.52 L 556.61 276.71 L 556.66 280.36 L 556.71 361.75 L 556.76 249.84 L 556.86 277.82 L 556.9 306.7 L 556.95 231.41 L 557.1 355.76 L 557.19 263.26 L 557.34 355.39 L 557.44 242.53 L 557.48 324.38 L 557.53 317.71 L 557.58 266.08 L 557.63 269.65 L 557.68 316.01 L 557.78 312.01 L 557.82 272.5 L 557.87 285.34 L 557.97 345.16 L 558.07 395.69 L 558.16 265.67 L 558.21 286.88 L 558.26 274.05 L 558.41 358.69 L 558.5 364.94 L 558.55 287.55 L 558.6 367.42 L 558.65 269.39 L 558.7 313.34 L 558.74 283.44 L 558.79 294.92 L 558.84 374.01 L 558.89 368.07 L 558.94 266.86 L 559.04 276.72 L 559.08 222.07 L 559.13 281.67 L 559.18 241.7 L 559.28 339.82 L 559.33 303.32 L 559.37 306.49 L 559.57 255.8 L 559.66 340.03 L 559.76 275.98 L 559.81 297.8 L 559.86 299.18 L 559.91 229.73 L 559.96 289.6 L 560 356.79 L 560.05 333.49 L 560.1 239.89 L 560.15 274.68 L 560.2 372.71 L 560.25 350.55 L 560.39 291.37 L 560.44 359.06 L 560.49 313.67 L 560.59 285.14 L 560.73 315.88 L 560.83 282.89 L 560.92 345.35 L 560.97 307.7 L 561.02 359.64 L 561.07 323.81 L 561.12 210.07 L 561.17 291.43 L 561.31 342.69 L 561.36 359.18 L 561.51 272.6 L 561.55 278.86 L 561.6 399.03 L 561.65 302.86 L 561.7 347.16 L 561.75 307.74 L 561.84 329.36 L 561.89 368.29 L 561.94 319.01 L 561.99 315.83 L 562.04 293.89 L 562.09 312.51 L 562.14 354.09 L 562.23 243.92 L 562.33 371.59 L 562.38 213.91 L 562.43 243.63 L 562.52 382.34 L 562.57 239.62 L 562.62 266.45 L 562.72 418.08 L 562.76 251.09 L 562.81 340.74 L 562.96 264.41 L 563.01 322.83 L 563.06 284.46 L 563.15 319.73 L 563.2 288.6 L 563.25 322.01 L 563.3 322 L 563.35 319.63 L 563.39 380.3 L 563.44 341.49 L 563.49 362.21 L 563.59 380.43 L 563.64 230.15 L 563.78 369.65 L 563.88 242.93 L 563.93 311.93 L 563.98 383.74 L 564.07 242.67 L 564.12 334.97 L 564.17 316.98 L 564.22 247.07 L 564.27 419.47 L 564.31 260.86 L 564.36 343.04 L 564.41 296.5 L 564.46 260.42 L 564.51 278.44 L 564.56 290.83 L 564.61 257.58 L 564.75 346.68 L 564.8 299.11 L 564.85 335.12 L 564.9 354.86 L 564.94 354.71 L 564.99 272.74 L 565.14 396.08 L 565.19 369.47 L 565.24 397.09 L 565.28 374.53 L 565.33 369.21 L 565.38 250.37 L 565.43 314.97 L 565.53 401.23 L 565.57 351.2 L 565.62 258.84 L 565.72 281.54 L 565.87 330.88 L 565.91 325.79 L 566.01 349.64 L 566.11 274.4 L 566.16 294.66 L 566.2 385.4 L 566.25 292.99 L 566.3 301.85 L 566.35 342.93 L 566.49 236.6 L 566.54 410.7 L 566.64 365.4 L 566.79 253.34 L 566.88 352.66 L 567.03 266.96 L 567.08 273.99 L 567.17 378.93 L 567.22 306.35 L 567.32 353.76 L 567.51 254.96 L 567.66 350.35 L 567.71 262.67 L 567.75 320.45 L 567.8 326.62 L 567.85 289.42 L 567.9 342.52 L 567.95 326.77 L 568 316.63 L 568.04 274.13 L 568.14 367.57 L 568.19 343.53 L 568.29 351.21 L 568.43 237.43 L 568.58 321.93 L 568.67 211.12 L 568.77 357.56 L 568.82 314.67 L 568.87 277.03 L 568.97 429.68 L 569.11 256.77 L 569.16 344.16 L 569.21 320.45 L 569.3 290.85 L 569.35 326.19 L 569.45 319.49 L 569.55 283.38 L 569.64 322.48 L 569.69 275.89 L 569.74 393.17 L 569.79 260.17 L 569.93 360.35 L 570.08 283.59 L 570.13 377.05 L 570.18 262.51 L 570.22 324.94 L 570.27 235.04 L 570.32 297.36 L 570.47 397.39 L 570.66 221.25 L 570.71 361.57 L 570.76 290.6 L 570.81 292.35 L 570.95 344.68 L 571 235.29 L 571.05 290.78 L 571.1 269.56 L 571.15 392.37 L 571.24 363.55 L 571.29 266.88 L 571.34 328.33 L 571.39 349.47 L 571.58 244.95 L 571.63 272.08 L 571.68 433.64 L 571.73 288.68 L 571.82 376.56 L 571.87 316.79 L 571.92 418.36 L 571.97 274.59 L 572.02 334.63 L 572.07 398.36 L 572.16 196.79 L 572.21 345.36 L 572.26 321.66 L 572.31 294.26 L 572.36 367.07 L 572.4 247.19 L 572.45 331.95 L 572.55 277.06 L 572.7 383.02 L 572.74 375.7 L 572.79 306.25 L 572.84 344.68 L 572.89 342.05 L 573.08 228.61 L 573.13 250.14 L 573.18 271.27 L 573.32 366.7 L 573.47 222.33 L 573.52 343.61 L 573.62 335.45 L 573.66 314.7 L 573.71 388.9 L 573.76 203.04 L 573.81 300.97 L 573.86 312.42 L 573.91 308.74 L 573.95 373.43 L 574.1 269.81 L 574.15 237.69 L 574.2 432.85 L 574.25 331.02 L 574.29 322.78 L 574.34 372.25 L 574.39 203.07 L 574.44 369.99 L 574.49 253.91 L 574.54 348.16 L 574.58 297.08 L 574.63 309.81 L 574.68 351.79 L 574.73 267.21 L 574.78 275.22 L 574.83 302.76 L 574.87 269.24 L 574.92 229.12 L 575.07 368.01 L 575.31 235.7 L 575.36 270.01 L 575.5 334.9 L 575.55 265.87 L 575.6 329.02 L 575.65 316.66 L 575.7 371.4 L 575.75 333.22 L 575.8 221.26 L 575.84 421.75 L 575.89 316.47 L 575.94 340.35 L 575.99 336.3 L 576.04 256.14 L 576.09 346.57 L 576.13 380.78 L 576.33 251.29 L 576.52 352.38 L 576.67 277.76 L 576.72 291.66 L 576.81 345.55 L 576.86 260.63 L 576.91 275.32 L 576.96 395.95 L 577.01 291.91 L 577.05 295.74 L 577.15 369.26 L 577.2 276.98 L 577.25 295.16 L 577.3 374.01 L 577.35 317.98 L 577.44 333.75 L 577.49 239.07 L 577.54 374.3 L 577.59 255.95 L 577.68 356.38 L 577.73 328.57 L 577.78 275.94 L 577.83 370.95 L 577.88 264.24 L 577.93 283.85 L 577.98 417.09 L 578.02 302.12 L 578.07 260.32 L 578.17 353.88 L 578.31 245.42 L 578.41 361.69 L 578.46 340.16 L 578.51 257.67 L 578.56 357.36 L 578.6 312.52 L 578.65 387.97 L 578.7 247.8 L 578.75 316.16 L 578.8 309.92 L 578.85 362.6 L 578.9 267.72 L 578.94 288.53 L 578.99 314.6 L 579.04 434.72 L 579.09 381.09 L 579.14 274.13 L 579.19 324.73 L 579.23 323.55 L 579.28 384.07 L 579.33 257.23 L 579.38 307.69 L 579.43 306.59 L 579.48 335.94 L 579.57 273.52 L 579.62 287.07 L 579.72 391.36 L 579.82 292.01 L 579.86 424.25 L 579.91 355.8 L 580.06 263.86 L 580.11 333.79 L 580.2 329.33 L 580.25 270.72 L 580.3 343.73 L 580.4 274.89 L 580.45 315.79 L 580.49 420.59 L 580.54 329.81 L 580.59 294.8 L 580.64 314.46 L 580.69 363.79 L 580.74 338.86 L 580.83 275.26 L 580.88 294.67 L 580.98 357.04 L 581.03 217.7 L 581.08 365.2 L 581.12 261.35 L 581.22 289.71 L 581.32 327.52 L 581.37 286.36 L 581.41 357.34 L 581.46 331.79 L 581.61 253.9 L 581.75 362.97 L 581.8 325.84 L 581.85 379.33 L 581.9 363.71 L 582 318.02 L 582.04 432.49 L 582.09 348.36 L 582.14 340.78 L 582.24 350.87 L 582.29 249.13 L 582.43 377.07 L 582.53 270.64 L 582.58 312.66 L 582.63 314.16 L 582.67 382.76 L 582.82 247.04 L 582.87 316.12 L 582.92 243.19 L 583.01 402.96 L 583.06 321.82 L 583.16 252.56 L 583.3 390.42 L 583.45 289.42 L 583.55 327.38 L 583.59 322.88 L 583.69 251.56 L 583.74 275.42 L 583.79 265.84 L 583.88 377.88 L 583.93 363.8 L 583.98 362.82 L 584.03 292.2 L 584.08 322.08 L 584.13 328.9 L 584.18 211.89 L 584.22 328.09 L 584.27 275.06 L 584.32 313.57 L 584.42 388.75 L 584.61 257.28 L 584.66 291.08 L 584.71 229.52 L 584.76 345.71 L 584.81 345.25 L 584.95 265.15 L 585 240.43 L 585.14 421.44 L 585.24 300.51 L 585.29 372.05 L 585.34 294.03 L 585.43 305.19 L 585.53 242.49 L 585.58 358.11 L 585.63 320.32 L 585.73 240.84 L 585.77 309.38 L 585.87 307.44 L 585.97 301.21 L 586.02 259.76 L 586.11 269.69 L 586.21 325 L 586.26 315.56 L 586.31 267.14 L 586.36 308.05 L 586.4 379.06 L 586.45 291.75 L 586.5 363.51 L 586.55 409.98 L 586.65 235.77 L 586.69 275.22 L 586.74 286.51 L 586.84 361.95 L 586.89 360 L 587.08 305.19 L 587.18 291.74 L 587.23 409.73 L 587.32 339.61 L 587.37 348.39 L 587.57 298.12 L 587.61 390.55 L 587.66 274.44 L 587.71 295.78 L 587.86 234.47 L 587.95 315.05 L 588 246.51 L 588.05 312.42 L 588.1 329.06 L 588.15 309.2 L 588.2 229.22 L 588.24 263.91 L 588.39 350.42 L 588.44 270.48 L 588.49 320.16 L 588.54 308.06 L 588.63 339.75 L 588.78 243.9 L 588.83 367.3 L 588.87 215.48 L 588.92 338.67 L 588.97 280.36 L 589.02 337.7 L 589.07 338.73 L 589.16 279.55 L 589.26 344.61 L 589.31 336.91 L 589.36 370.65 L 589.41 368.79 L 589.5 276.27 L 589.55 278.01 L 589.7 422.79 L 589.75 350.98 L 589.89 295.57 L 589.94 320.16 L 589.99 313.94 L 590.04 214.63 L 590.09 351.9 L 590.18 334.61 L 590.23 343.33 L 590.33 308.69 L 590.38 347.12 L 590.42 229.34 L 590.47 322.78 L 590.52 322.71 L 590.57 243.49 L 590.67 254.97 L 590.71 262.25 L 590.76 394.26 L 590.81 337.82 L 590.86 327.25 L 590.91 347.43 L 590.96 246.85 L 591.01 271.33 L 591.15 383.36 L 591.2 369.66 L 591.3 287.91 L 591.34 340.34 L 591.39 246.78 L 591.44 325.48 L 591.49 297.65 L 591.64 370.92 L 591.73 278.89 L 591.78 324.46 L 591.83 321.9 L 591.88 261.69 L 591.93 334.24 L 591.97 264.75 L 592.12 352.71 L 592.22 272.62 L 592.31 370.62 L 592.36 338.21 L 592.41 272.36 L 592.46 300.76 L 592.51 325.18 L 592.56 318.4 L 592.6 223.44 L 592.7 369.67 L 592.75 265.35 L 592.8 285.1 L 592.85 296.21 L 592.89 350.01 L 592.94 273.06 L 592.99 348.92 L 593.04 340.07 L 593.09 353.87 L 593.14 289.88 L 593.19 367.86 L 593.23 290.16 L 593.28 339.52 L 593.33 285.2 L 593.38 335.04 L 593.43 240.13 L 593.48 328.63 L 593.52 320.9 L 593.62 340.45 L 593.72 309.16 L 593.77 383.83 L 593.82 346.97 L 593.91 349.05 L 594.01 278.22 L 594.06 275.02 L 594.11 259.49 L 594.25 384.34 L 594.2 251.97 L 594.35 357.14 L 594.4 341.2 L 594.44 282.38 L 594.49 319.91 L 594.54 398.46 L 594.59 229.47 L 594.64 275.19 L 594.83 363.38 L 594.88 366.09 L 594.98 381.76 L 595.03 176.84 L 595.12 319.2 L 595.17 260.5 L 595.32 316.85 L 595.41 231.98 L 595.56 382.15 L 595.66 256.8 L 595.7 305.57 L 595.75 345.04 L 595.8 279.17 L 595.9 285.9 L 595.95 434.15 L 595.99 302.1 L 596.04 302.7 L 596.14 284.38 L 596.19 200.85 L 596.24 360.21 L 596.33 354.77 L 596.38 393.13 L 596.43 358.37 L 596.48 366.92 L 596.58 273.92 L 596.62 377.11 L 596.72 375.32 L 596.96 255.1 L 597.16 382.75 L 597.25 258.59 L 597.3 270.49 L 597.5 381.84 L 597.54 426.71 L 597.64 315.03 L 597.69 353.79 L 597.74 386.91 L 597.88 257.75 L 597.98 349.78 L 598.03 287.8 L 598.08 366.99 L 598.17 268.14 L 598.22 368.4 L 598.27 317.33 L 598.37 373.92 L 598.42 241.45 L 598.47 372.28 L 598.61 271.84 L 598.66 302.73 L 598.76 436.45 L 598.8 287.46 L 598.9 327.4 L 599 306.82 L 599.05 330.31 L 599.14 224.82 L 599.19 355.38 L 599.24 334.69 L 599.29 282.68 L 599.34 300.96 L 599.43 355.7 L 599.48 345.71 L 599.58 277.69 L 599.72 365.41 L 599.77 262.23 L 599.82 333.07 L 599.92 359.63 L 600.02 273.51 L 600.06 375.02 L 600.11 265.85 L 600.16 351.21 L 600.31 272.21 L 600.35 228.77 L 600.4 346.7 L 600.5 327.74 L 600.55 237.13 L 600.6 304.43 L 600.65 338.78 L 600.69 242.84 L 600.74 307.1 L 600.84 271.98 L 600.89 332.17 L 600.94 298.29 L 600.98 294.76 L 601.03 297.33 L 601.08 388.38 L 601.13 316.7 L 601.18 275.72 L 601.23 277.14 L 601.37 339.84 L 601.42 340.2 L 601.47 367.03 L 601.57 281 L 601.61 307.18 L 601.66 280.51 L 601.71 307.29 L 601.76 299.72 L 601.81 310.97 L 601.86 305.3 L 601.9 360.18 L 602 358.4 L 602.05 363.26 L 602.1 226.71 L 602.15 348.77 L 602.2 359.22 L 602.24 348.33 L 602.34 316.02 L 602.39 403.4 L 602.44 325.5 L 602.49 292.51 L 602.53 362.32 L 602.58 273.95 L 602.73 350.82 L 602.87 280.33 L 602.92 340.92 L 602.97 337.91 L 603.02 262.27 L 603.07 340.25 L 603.12 339.22 L 603.16 318.2 L 603.21 358.76 L 603.26 266.21 L 603.31 379.27 L 603.41 293.32 L 603.45 318.27 L 603.5 359.85 L 603.55 285.7 L 603.6 296.62 L 603.7 352.64 L 603.75 300.73 L 603.79 397.81 L 603.84 276.56 L 603.89 285.89 L 603.94 390.35 L 603.99 377.79 L 604.08 320.52 L 604.13 244.17 L 604.18 328.17 L 604.23 259.27 L 604.37 357.95 L 604.42 272.25 L 604.47 292.47 L 604.52 373.63 L 604.57 345.04 L 604.62 260.12 L 604.67 349.43 L 604.71 272.5 L 604.86 329.61 L 604.91 313.49 L 605.05 247.5 L 605.2 370.66 L 605.34 258.83 L 605.39 358.4 L 605.44 288.82 L 605.49 290.73 L 605.54 234.6 L 605.59 289.32 L 605.73 316.49 L 605.78 319.33 L 605.83 273.44 L 605.88 395.65 L 605.93 362.34 L 606.02 243.38 L 606.07 311.23 L 606.22 373.02 L 606.31 265.65 L 606.36 280.93 L 606.41 291.25 L 606.46 259.41 L 606.51 321.87 L 606.6 309.24 L 606.65 354.15 L 606.7 326.21 L 606.75 317.12 L 606.8 245.21 L 606.85 301.41 L 606.89 307.38 L 606.94 249.63 L 607.04 379.05 L 607.14 291.97 L 607.18 301.05 L 607.23 290.38 L 607.28 297.97 L 607.33 411.39 L 607.38 318.75 L 607.43 356.52 L 607.48 275.6 L 607.52 278.58 L 607.57 358.18 L 607.67 358.15 L 607.72 235.19 L 607.81 244.77 L 608.2 382.46 L 608.35 292.02 L 608.4 331.07 L 608.44 266.07 L 608.49 266.93 L 608.59 340.35 L 608.64 316.59 L 608.69 296.88 L 608.78 353.66 L 608.83 347.03 L 608.88 325.08 L 608.93 325.39 L 608.98 350.74 L 609.12 279.28 L 609.22 253.4 L 609.27 409.26 L 609.41 271.83 L 609.46 288.15 L 609.51 222.72 L 609.65 418.23 L 609.75 328.77 L 609.8 376.38 L 609.9 270.47 L 610.04 369.99 L 610.14 263.72 L 610.28 360.29 L 610.33 290.64 L 610.43 302.26 L 610.48 361.74 L 610.53 334.27 L 610.58 299.29 L 610.62 328.42 L 610.67 314.93 L 610.77 373.07 L 610.82 277.19 L 610.87 393.91 L 610.96 287.61 L 611.01 330.26 L 611.06 302.49 L 611.11 362.93 L 611.16 292.97 L 611.21 257.78 L 611.3 370.67 L 611.35 347.68 L 611.4 242.28 L 611.45 284 L 611.54 337.05 L 611.69 279.21 L 611.74 299.83 L 611.79 290.93 L 611.83 239.85 L 611.93 371.93 L 611.98 170.28 L 612.03 263.13 L 612.22 395.62 L 612.37 240.98 L 612.46 356.7 L 612.51 339.97 L 612.56 284.41 L 612.61 362.3 L 612.71 357.29 L 612.76 203.75 L 612.8 275.31 L 612.9 328.25 L 612.95 299.69 L 613 375.55 L 613.05 306.66 L 613.09 243.84 L 613.14 376.39 L 613.24 369.17 L 613.43 254.68 L 613.53 330.48 L 613.58 261.82 L 613.63 370.22 L 613.68 337.43 L 613.82 221.25 L 613.87 379.11 L 613.92 357.83 L 614.06 270.45 L 614.11 295.4 L 614.16 280.68 L 614.21 285.11 L 614.26 360.36 L 614.31 326.89 L 614.35 335.4 L 614.4 217.05 L 614.45 309.45 L 614.5 265.59 L 614.55 322.43 L 614.6 303.1 L 614.64 288.31 L 614.69 344.93 L 614.74 340.36 L 614.89 263.07 L 614.93 336.12 L 614.98 275.51 L 615.03 266.76 L 615.13 345.61 L 615.18 343.72 L 615.23 296.91 L 615.27 397.92 L 615.32 248.73 L 615.37 400.67 L 615.52 317.36 L 615.61 373.63 L 615.71 238.68 L 615.81 269.82 L 615.86 356.24 L 615.9 292.03 L 615.95 238.63 L 616 305.39 L 616.05 357.49 L 616.15 254.86 L 616.19 264.08 L 616.34 330.15 L 616.39 335.86 L 616.44 411.5 L 616.49 286.79 L 616.53 319.68 L 616.58 381.7 L 616.63 285.82 L 616.68 382.58 L 616.73 294.67 L 616.82 249.35 L 616.87 377.76 L 616.92 323.18 L 616.97 295.93 L 617.02 352.45 L 617.07 279.84 L 617.11 338.31 L 617.16 263.16 L 617.26 268.75 L 617.36 341.02 L 617.41 303.59 L 617.45 292.59 L 617.5 297.62 L 617.55 433.64 L 617.6 291.92 L 617.65 268.3 L 617.7 342.77 L 617.74 251.65 L 617.94 353.02 L 617.99 342.63 L 618.08 267.27 L 618.18 394.4 L 618.23 355.12 L 618.28 282.05 L 618.37 294.29 L 618.42 361.05 L 618.47 328.46 L 618.57 291.85 L 618.62 332.5 L 618.66 323.65 L 618.71 299.05 L 618.81 354.69 L 618.86 284.25 L 618.91 311.12 L 618.96 365.99 L 619.05 242.26 L 619.1 288.78 L 619.15 324.27 L 619.2 308.16 L 619.25 293.62 L 619.39 348.57 L 619.44 318.9 L 619.49 369.2 L 619.54 337.7 L 619.59 330.05 L 619.63 398.88 L 619.68 313.5 L 619.78 283.1 L 619.83 289.83 L 619.92 363.57 L 619.97 258.89 L 620.02 326.6 L 620.07 388.62 L 620.12 353.44 L 620.31 250.96 L 620.36 376.96 L 620.46 371.87 L 620.51 361.4 L 620.65 169.64 L 620.84 346.48 L 620.94 326.39 L 620.99 341.87 L 621.04 320.19 L 621.09 230.72 L 621.14 297.64 L 621.23 334.29 L 621.33 251.53 L 621.38 308.65 L 621.43 329.21 L 621.47 246.7 L 621.52 327.83 L 621.57 351.49 L 621.62 338.63 L 621.67 334.85 L 621.72 349.71 L 621.81 236.93 L 621.91 382.61 L 622.01 284.58 L 622.15 456.1 L 622.2 215.14 L 622.3 219.71 L 622.39 294.67 L 622.49 388.6 L 622.64 256.95 L 622.78 339.83 L 622.93 274.21 L 622.98 364.45 L 623.07 346.43 L 623.12 318.62 L 623.17 207.88 L 623.22 301.27 L 623.32 348.18 L 623.36 203.1 L 623.41 213.55 L 623.56 392.12 L 623.65 248.17 L 623.7 350.55 L 623.75 315.28 L 623.85 283.51 L 623.9 356.51 L 623.99 341.45 L 624.04 370.85 L 624.19 244.78 L 624.38 332.72 L 624.43 344.54 L 624.48 323.91 L 624.53 350.13 L 624.57 328.56 L 624.67 348.35 L 624.72 284.78 L 624.77 300.42 L 624.82 305.01 L 624.96 186.92 L 625.11 318.57 L 625.16 294.01 L 625.2 312.45 L 625.35 382.53 L 625.4 289.35 L 625.49 309.25 L 625.54 306.94 L 625.59 353.01 L 625.64 265.31 L 625.69 336.36 L 625.74 304.38 L 625.79 346.24 L 625.88 240.42 L 625.93 291.55 L 625.98 287.14 L 626.03 342.08 L 626.12 327.73 L 626.17 243.88 L 626.22 339.16 L 626.37 244.71 L 626.46 390.86 L 626.51 250.12 L 626.61 275.43 L 626.66 381.21 L 626.71 313 L 626.75 287.11 L 626.8 414.07 L 626.85 375.05 L 626.9 204.76 L 627 226.35 L 627.09 338.65 L 627.14 332.11 L 627.24 319.91 L 627.38 252.48 L 627.48 347.78 L 627.53 182.24 L 627.58 327.65 L 627.63 264.16 L 627.67 303.32 L 627.77 294.58 L 627.82 342.11 L 627.87 315.61 L 627.92 359.83 L 627.97 209.95 L 628.01 326.24 L 628.11 404.17 L 628.21 238.53 L 628.3 345.12 L 628.35 305.82 L 628.45 349.78 L 628.55 282.38 L 628.6 347.6 L 628.64 267.55 L 628.69 334.49 L 628.74 288.54 L 628.79 368.14 L 628.84 282.79 L 628.89 306.4 L 629.03 248.67 L 629.08 354.84 L 629.13 273.59 L 629.18 218.48 L 629.27 364.62 L 629.32 318.33 L 629.42 281.91 L 629.47 287.74 L 629.52 299.37 L 629.56 348.23 L 629.61 343.97 L 629.66 280.2 L 629.71 335.99 L 629.76 332.41 L 629.85 237.42 L 629.95 369.67 L 630.1 240.36 L 630.24 326.44 L 630.29 317.16 L 630.39 316.04 L 630.44 363.84 L 630.48 285.34 L 630.58 300.27 L 630.63 340.82 L 630.73 337.3 L 630.77 228.2 L 630.82 287.9 L 630.87 324.23 L 630.92 289.15 L 630.97 282.72 L 631.02 436.45 L 631.07 363.58 L 631.11 226.7 L 631.16 316.72 L 631.26 331.98 L 631.31 276.8 L 631.4 288.53 L 631.45 302.02 L 631.5 290.4 L 631.55 265.61 L 631.65 380.66 L 631.7 333.03 L 631.79 292.58 L 631.84 293.36 L 631.89 354.35 L 631.94 331.78 L 631.99 326.94 L 632.08 382.22 L 632.13 251.73 L 632.18 363.38 L 632.32 319.27 L 632.37 321.97 L 632.47 368.74 L 632.62 285.35 L 632.66 339.4 L 632.71 278.74 L 632.76 254.04 L 632.81 349.79 L 632.86 317.36 L 632.91 288.78 L 632.95 324.74 L 633 332.01 L 633.05 283.25 L 633.1 320.88 L 633.2 328.97 L 633.29 273.33 L 633.34 333.36 L 633.39 254.9 L 633.44 419.34 L 633.49 311.88 L 633.58 226.16 L 633.63 246.06 L 633.68 384.96 L 633.73 320.49 L 633.78 310.55 L 633.83 367.54 L 633.88 366.64 L 634.02 295.33 L 634.07 308.51 L 634.21 383.57 L 634.26 252.5 L 634.31 335.02 L 634.41 314.11 L 634.46 335.96 L 634.5 254 L 634.6 277.24 L 634.75 342.86 L 634.84 144.44 L 634.89 270.08 L 635.04 410.42 L 635.28 225.85 L 635.33 347.3 L 635.43 346.11 L 635.52 294.51 L 635.57 327.46 L 635.62 454.66 L 635.72 252.75 L 635.76 366.27 L 635.81 336.77 L 635.96 214.37 L 636.01 322.5 L 636.05 261.96 L 636.1 252.87 L 636.15 338.16 L 636.25 334.76 L 636.3 280.8 L 636.39 287.98 L 636.49 357.73 L 636.64 237.57 L 636.68 285.54 L 636.78 274.26 L 636.83 270.52 L 636.88 398.94 L 636.93 345.92 L 636.98 346.19 L 637.12 276.93 L 637.17 306.12 L 637.22 404.49 L 637.27 235.45 L 637.31 315.71 L 637.36 299.74 L 637.41 328.36 L 637.46 268.68 L 637.51 281.02 L 637.56 361.65 L 637.6 326.27 L 637.75 252.93 L 637.8 323.92 L 637.9 316.62 L 637.94 304 L 637.99 329.82 L 638.04 262.99 L 638.19 352.25 L 638.23 284.62 L 638.28 305.63 L 638.38 333.89 L 638.43 211.77 L 638.48 326.61 L 638.53 274.77 L 638.57 281.24 L 638.62 357.93 L 638.67 305.18 L 638.72 261.86 L 638.82 248.76 L 638.86 370.26 L 638.91 290.45 L 638.96 345.52 L 639.01 344.38 L 639.11 269.64 L 639.15 282.64 L 639.2 464.82 L 639.25 290.69 L 639.3 320.31 L 639.35 268.43 L 639.4 385.45 L 639.45 303.7 L 639.49 256.03 L 639.64 353.22 L 639.78 276.68 L 639.83 358.82 L 639.93 339.19 L 640.12 406.77 L 640.22 213.75 L 640.27 346.47 L 640.32 302.57 L 640.37 332.88 L 640.41 363.4 L 640.51 378.28 L 640.56 264.29 L 640.61 353.46 L 640.66 233.8 L 640.71 272.99 L 640.85 326.33 L 640.9 322.68 L 641 286.62 L 641.04 304.52 L 641.14 300.15 L 641.19 339.6 L 641.24 260.88 L 641.29 339.77 L 641.33 273.95 L 641.38 336.65 L 641.43 288.77 L 641.48 309.24 L 641.53 298.09 L 641.58 262.95 L 641.67 342.95 L 641.72 316.05 L 641.82 210.34 L 641.92 390.12 L 641.96 347.57 L 642.11 239.98 L 642.16 269.17 L 642.21 221.37 L 642.26 258.86 L 642.3 280.94 L 642.35 213.92 L 642.4 290.55 L 642.45 299.51 L 642.5 256.71 L 642.55 361.05 L 642.64 334.02 L 642.69 294.58 L 642.74 300.39 L 642.79 372.1 L 642.84 250.8 L 642.88 282.83 L 642.93 409 L 642.98 287.42 L 643.08 361.98 L 643.13 352.61 L 643.18 217.15 L 643.22 341.84 L 643.27 277.13 L 643.32 299.86 L 643.37 309.51 L 643.42 296.64 L 643.47 335.69 L 643.56 235.3 L 643.76 363.23 L 643.81 261.16 L 643.9 285.5 L 644 349.39 L 644.05 330.73 L 644.1 332.03 L 644.14 325.9 L 644.19 330.52 L 644.24 342.39 L 644.29 291.7 L 644.34 350.08 L 644.39 413.38 L 644.48 252.19 L 644.53 443.22 L 644.58 277.98 L 644.73 374.08 L 644.77 193.68 L 644.82 320.53 L 644.92 243.47 L 644.97 363.96 L 645.06 343.74 L 645.16 292.73 L 645.21 321.2 L 645.26 280.32 L 645.31 342.69 L 645.36 244.39 L 645.45 254.59 L 645.5 256.42 L 645.6 401.5 L 645.65 205.11 L 645.69 364.51 L 645.74 335.45 L 645.79 238.93 L 645.84 306.32 L 645.89 306.62 L 645.94 255.59 L 645.99 388.06 L 646.08 380.03 L 646.18 244.31 L 646.23 294.63 L 646.28 297.57 L 646.32 361.21 L 646.37 303.71 L 646.42 341.77 L 646.47 340.07 L 646.52 258.12 L 646.57 318.34 L 646.61 293.87 L 646.66 330.98 L 646.71 267.61 L 646.76 377.43 L 646.81 362.63 L 646.86 324.03 L 646.91 377 L 647 293.2 L 647.05 322.68 L 647.1 299.68 L 647.15 311.83 L 647.2 198.78 L 647.24 285.77 L 647.29 375.85 L 647.34 278.79 L 647.39 373.09 L 647.44 170.28 L 647.49 236.45 L 647.54 374.75 L 647.63 339.08 L 647.68 333.49 L 647.73 345.05 L 647.78 286.6 L 647.83 302.08 L 647.92 408.55 L 648.07 215.63 L 648.26 406.37 L 648.41 258.01 L 648.46 294.34 L 648.5 228.81 L 648.55 433.64 L 648.6 322.49 L 648.65 228.78 L 648.7 290.82 L 648.89 351.72 L 648.94 317.7 L 648.99 337.21 L 649.04 360.41 L 649.09 340.67 L 649.13 338.02 L 649.18 370.76 L 649.28 277.64 L 649.33 352.15 L 649.42 334.71 L 649.47 346.43 L 649.52 311.84 L 649.57 377.46 L 649.62 298.58 L 649.67 335.79 L 649.71 335.2 L 649.76 314.25 L 649.81 235.25 L 649.86 323.76 L 649.91 289.44 L 650.01 357.67 L 650.05 325.47 L 650.1 280 L 650.15 297.33 L 650.2 324.39 L 650.34 238.84 L 650.39 344.48 L 650.49 327.57 L 650.59 296.81 L 650.64 298.3 L 650.73 368.94 L 650.78 341.12 L 650.83 337 L 650.93 305.63 L 650.97 328.31 L 651.02 273.57 L 651.07 332.05 L 651.12 376.28 L 651.17 252.44 L 651.22 271.01 L 651.36 423.31 L 651.51 313.64 L 651.56 325.17 L 651.6 320 L 651.65 319.24 L 651.8 353.37 L 651.85 312.19 L 651.89 315.42 L 651.94 361.78 L 651.99 230.88 L 652.04 366.04 L 652.09 337.89 L 652.14 367.12 L 652.19 404.06 L 652.28 259.99 L 652.33 260.9 L 652.38 330.51 L 652.43 256.42 L 652.57 372.58 L 652.67 238.01 L 652.72 285.98 L 652.77 334.89 L 652.82 288.28 L 653.01 335.72 L 653.06 274.6 L 653.11 349.15 L 653.15 392.87 L 653.3 273.1 L 653.35 333.35 L 653.4 303.12 L 653.44 259.21 L 653.54 356.41 L 653.59 340.91 L 653.64 259.26 L 653.69 347.21 L 653.83 286.53 L 653.93 282.82 L 653.98 349.9 L 654.03 232.19 L 654.07 292 L 654.17 322.04 L 654.22 371.29 L 654.27 261.88 L 654.37 267.89 L 654.51 234.96 L 654.61 379.46 L 654.66 245.37 L 654.7 307.09 L 654.75 297.15 L 654.95 381.47 L 655.04 266.93 L 655.09 291.64 L 655.14 273.36 L 655.24 390.14 L 655.29 348.1 L 655.33 258.1 L 655.38 267.54 L 655.43 334.74 L 655.48 314.21 L 655.53 267.5 L 655.58 312.42 L 655.62 348.34 L 655.67 340.93 L 655.82 284.84 L 655.96 336.64 L 656.21 207.62 L 656.4 381.28 L 656.54 265.46 L 656.59 304.99 L 656.64 247.3 L 656.69 297.67 L 656.84 344.41 L 656.93 288.47 L 657.08 354 L 657.17 356.56 L 657.22 258.54 L 657.27 259.48 L 657.32 308.74 L 657.37 286.51 L 657.42 252.02 L 657.47 288.3 L 657.56 332.94 L 657.61 310.96 L 657.71 311.3 L 657.76 287.11 L 657.8 385.37 L 657.9 359.04 L 657.95 309.1 L 658 341.89 L 658.05 335.65 L 658.14 215.87 L 658.29 349.34 L 658.39 185.26 L 658.43 297.87 L 658.48 355.02 L 658.53 238.66 L 658.58 338.94 L 658.63 322.69 L 658.68 353.82 L 658.72 271.05 L 658.77 368.95 L 658.82 312.88 L 658.92 316.69 L 658.97 318.15 L 659.02 317.32 L 659.06 295.75 L 659.11 309.32 L 659.16 312.26 L 659.26 355.08 L 659.31 350.93 L 659.35 346.61 L 659.4 387.82 L 659.45 325.33 L 659.55 327.48 L 659.65 280.39 L 659.79 339.95 L 659.84 260.58 L 659.89 325.38 L 659.94 362.56 L 659.98 341.61 L 660.03 262.61 L 660.08 291.72 L 660.23 365.97 L 660.27 341.21 L 660.32 239.61 L 660.37 346.44 L 660.47 277.45 L 660.61 400.76 L 660.66 333.32 L 660.71 354.63 L 660.76 358.02 L 660.86 335.84 L 660.9 414.68 L 661.05 241.68 L 661.15 304.96 L 661.2 259.31 L 661.34 366.58 L 661.39 280.53 L 661.49 296.67 L 661.53 274.1 L 661.58 292.31 L 661.63 341.34 L 661.68 276.59 L 661.73 352.01 L 661.87 275.73 L 661.92 264.77 L 662.02 349.28 L 662.07 347.79 L 662.26 323.14 L 662.41 396.82 L 662.5 251.36 L 662.55 366.71 L 662.65 345.68 L 662.7 375.62 L 662.89 238.69 L 662.99 396.7 L 663.13 279.28 L 663.18 305.36 L 663.23 258.11 L 663.33 374.17 L 663.38 360.25 L 663.47 309.61 L 663.52 335.14 L 663.57 252.24 L 663.62 278.57 L 663.76 298.31 L 663.81 227.22 L 663.86 357.27 L 663.91 247.24 L 663.96 264.26 L 664 385.8 L 664.05 326.45 L 664.1 313.15 L 664.15 253.6 L 664.2 311.56 L 664.25 311.42 L 664.3 331.34 L 664.34 320.87 L 664.39 254.09 L 664.44 327.86 L 664.49 350.5 L 664.54 326.91 L 664.59 323.53 L 664.63 377.99 L 664.68 342.75 L 664.88 273.95 L 664.93 352.29 L 664.97 304.03 L 665.02 308.97 L 665.07 408.42 L 665.12 275.79 L 665.22 306.52 L 665.26 284.1 L 665.36 378.48 L 665.41 374.93 L 665.46 348.55 L 665.51 260.61 L 665.55 281.81 L 665.65 338.45 L 665.7 282.83 L 665.75 380.18 L 665.8 263.93 L 665.85 337.12 L 665.94 320.57 L 665.99 360.83 L 666.09 213.91 L 666.14 309.06 L 666.23 347.18 L 666.28 320.52 L 666.33 269.91 L 666.38 382.55 L 666.48 364.24 L 666.57 261.15 L 666.67 370.89 L 666.72 331.22 L 666.77 275.2 L 666.81 335.83 L 666.86 334.34 L 666.91 335.79 L 666.96 268.26 L 667.01 307.2 L 667.06 307.18 L 667.1 368.87 L 667.15 242.52 L 667.2 267.51 L 667.3 387.18 L 667.44 283.29 L 667.49 319.56 L 667.54 244.06 L 667.59 259.04 L 667.69 319.69 L 667.73 252.02 L 667.78 308.78 L 667.83 312.92 L 667.98 247.29 L 668.03 380.5 L 668.12 347.86 L 668.17 224.78 L 668.22 286.27 L 668.27 312.84 L 668.32 266.86 L 668.36 405.15 L 668.41 325.84 L 668.46 330.41 L 668.51 387.43 L 668.56 320.94 L 668.61 353.82 L 668.66 346.02 L 668.75 265.71 L 668.9 344.18 L 668.95 276.76 L 668.99 291.77 L 669.09 365.9 L 669.14 277.97 L 669.19 334.09 L 669.24 320.85 L 669.38 230.91 L 669.48 421.88 L 669.53 269.02 L 669.58 325.13 L 669.62 380.02 L 669.67 313.42 L 669.77 328.24 L 669.82 224.97 L 669.87 375.44 L 669.96 358.76 L 670.01 365.76 L 670.16 186.05 L 670.25 383.78 L 670.3 312.72 L 670.35 308.27 L 670.4 368.23 L 670.45 316.63 L 670.5 244.81 L 670.54 264.09 L 670.64 327.61 L 670.69 318.21 L 670.74 330.1 L 670.79 277.09 L 670.83 369.99 L 670.88 321.06 L 670.93 309.19 L 670.98 352.66 L 671.13 263.57 L 671.22 346.71 L 671.27 344.73 L 671.42 258.19 L 671.51 325.95 L 671.56 311.14 L 671.61 275.81 L 671.66 313.19 L 671.71 333.83 L 671.76 261.2 L 671.85 276.14 L 672 339.27 L 672.09 338.55 L 672.14 363.16 L 672.29 253.68 L 672.38 358.73 L 672.43 306.22 L 672.48 289.01 L 672.53 415.92 L 672.58 328.95 L 672.63 319.52 L 672.68 328.16 L 672.72 245.15 L 672.77 328.82 L 672.82 267.57 L 672.87 351.36 L 672.92 306.93 L 672.97 320.31 L 673.01 254.96 L 673.06 334.4 L 673.11 366.68 L 673.16 228.45 L 673.21 380.3 L 673.26 300.23 L 673.35 315.32 L 673.4 289.74 L 673.45 400.23 L 673.5 277.64 L 673.6 270.06 L 673.64 323.22 L 673.69 246.82 L 673.74 298.18 L 673.79 342.39 L 673.84 292.52 L 673.89 292.6 L 673.94 320.47 L 673.98 186.05 L 674.03 355.98 L 674.18 340.23 L 674.23 354.45 L 674.27 336.74 L 674.32 347.32 L 674.37 250.03 L 674.42 352.42 L 674.47 319.72 L 674.52 363.66 L 674.56 254.38 L 674.66 268.95 L 674.81 363.51 L 674.9 211.98 L 674.95 322.11 L 675.05 317.43 L 675.1 243.05 L 675.15 328.28 L 675.19 298.94 L 675.24 348.8 L 675.29 325.45 L 675.34 320.66 L 675.39 271.77 L 675.44 298.31 L 675.49 334.9 L 675.53 291.07 L 675.58 299.09 L 675.63 346.11 L 675.68 329.53 L 675.73 283.94 L 675.78 330.26 L 675.82 339.19 L 675.87 254.63 L 675.92 315.64 L 675.97 317.13 L 676.02 234.78 L 676.07 338.23 L 676.11 302.35 L 676.16 364.7 L 676.21 280.22 L 676.26 360.26 L 676.31 374.04 L 676.45 229.79 L 676.55 329.65 L 676.6 327.89 L 676.65 332.97 L 676.7 289.57 L 676.74 336.76 L 676.79 338.4 L 676.84 328.9 L 676.89 274.85 L 676.94 331.67 L 676.99 304.1 L 677.04 391.32 L 677.08 305.8 L 677.13 282.15 L 677.23 378.29 L 677.28 251.53 L 677.33 285.42 L 677.37 373.98 L 677.42 323.77 L 677.66 247.64 L 677.81 333.57 L 677.91 207.51 L 678.05 378.61 L 678.2 247.8 L 678.25 378.84 L 678.34 377.12 L 678.39 401.18 L 678.44 333.81 L 678.54 338.62 L 678.63 314.98 L 678.68 246.97 L 678.83 365.33 L 678.88 322.88 L 678.92 390.13 L 678.97 283.64 L 679.02 359.24 L 679.17 316.75 L 679.21 356.9 L 679.26 328.12 L 679.41 259.74 L 679.55 365.07 L 679.6 299.35 L 679.65 317.18 L 679.7 328.99 L 679.8 261.05 L 679.84 373.26 L 679.89 301.36 L 679.99 295.28 L 680.04 332.28 L 680.14 240.7 L 680.18 277.86 L 680.23 369.56 L 680.28 239.36 L 680.33 390.16 L 680.52 292.56 L 680.72 331.46 L 680.77 295.02 L 680.81 346.8 L 680.86 237.46 L 680.91 366.65 L 680.96 338.91 L 681.01 237.09 L 681.06 299.9 L 681.1 353.89 L 681.2 278.49 L 681.3 314.71 L 681.35 245.55 L 681.39 352.84 L 681.44 299.33 L 681.49 312.53 L 681.54 388.47 L 681.59 316.43 L 681.64 352.41 L 681.78 236.82 L 681.93 387.89 L 681.98 364.09 L 682.02 240.36 L 682.07 331.26 L 682.12 299.18 L 682.17 338.68 L 682.22 385.68 L 682.36 269.02 L 682.41 318.73 L 682.46 276.17 L 682.51 201.18 L 682.65 369.5 L 682.7 284.37 L 682.75 370.83 L 682.8 348.08 L 682.85 492.48 L 682.9 312.15 L 682.94 365.62 L 683.04 370.34 L 683.09 239.77 L 683.19 320.08 L 683.24 312.43 L 683.28 325.44 L 683.33 308.35 L 683.38 365.62 L 683.43 302.55 L 683.48 261.46 L 683.53 419.86 L 683.57 389.12 L 683.62 232.72 L 683.67 291.57 L 683.72 355.56 L 683.82 347.49 L 683.87 355.4 L 683.91 281.14 L 683.96 336.27 L 684.06 376.18 L 684.2 234.98 L 684.25 392.76 L 684.35 377.25 L 684.4 256.94 L 684.45 391.59 L 684.54 279.33 L 684.59 329.96 L 684.64 347.26 L 684.74 258.82 L 684.79 279.97 L 684.83 294.64 L 684.88 221.35 L 684.93 303.88 L 684.98 302.03 L 685.03 348.4 L 685.08 321.5 L 685.12 281.69 L 685.17 345.9 L 685.22 325.18 L 685.27 296.63 L 685.32 333.34 L 685.37 391.84 L 685.46 275.15 L 685.51 325.16 L 685.56 296.35 L 685.61 375.45 L 685.66 273.64 L 685.8 350.99 L 685.95 214.26 L 686 334.06 L 686.05 294.84 L 686.09 295.1 L 686.14 383.07 L 686.19 335 L 686.24 331.55 L 686.29 240.27 L 686.34 300.02 L 686.43 296.69 L 686.48 388.45 L 686.63 251.03 L 686.72 382.13 L 686.82 213.71 L 686.97 344.77 L 687.01 309.21 L 687.06 376.38 L 687.16 208.5 L 687.21 353.67 L 687.3 336.04 L 687.5 241.64 L 687.64 348.33 L 687.69 259.85 L 687.74 295.37 L 687.79 330.36 L 687.84 288.89 L 687.89 258.8 L 687.93 280.14 L 688.13 347.2 L 688.18 352.36 L 688.22 373.63 L 688.32 249.33 L 688.37 308.31 L 688.52 389.16 L 688.61 269.79 L 688.66 353.17 L 688.71 350.02 L 688.81 294.09 L 688.85 297.89 L 688.9 315.35 L 688.95 286.48 L 689 324.43 L 689.05 303.52 L 689.1 247.09 L 689.15 331.8 L 689.19 328.84 L 689.24 269.73 L 689.29 327.61 L 689.34 314.05 L 689.39 462.3 L 689.44 339.21 L 689.63 276.31 L 689.73 307.14 L 689.87 248.14 L 689.92 317.21 L 689.97 306.7 L 690.02 241.68 L 690.07 274.16 L 690.11 357.31 L 690.16 323.45 L 690.26 308.74 L 690.36 379.28 L 690.4 276.87 L 690.5 304.45 L 690.55 340.08 L 690.65 341.48 L 690.7 223.85 L 690.74 319.51 L 690.84 299.84 L 690.89 303.22 L 690.94 256.1 L 690.99 317.74 L 691.03 298.79 L 691.08 276.33 L 691.13 375.02 L 691.18 303.74 L 691.23 324.83 L 691.28 276.52 L 691.33 333.87 L 691.37 278.82 L 691.47 350.23 L 691.52 330.03 L 691.57 241.68 L 691.62 363.13 L 691.66 346.91 L 691.71 290.46 L 691.76 367.54 L 691.81 280.3 L 691.95 376.96 L 692.05 268.1 L 692.1 329.45 L 692.25 277.29 L 692.29 341.81 L 692.34 285.47 L 692.39 251.23 L 692.58 364.76 L 692.63 292.32 L 692.68 367.51 L 692.78 278.99 L 692.83 359.9 L 692.88 325.43 L 692.92 274.91 L 692.97 363.7 L 693.02 331.8 L 693.07 320.52 L 693.12 368.84 L 693.21 273.24 L 693.26 278.68 L 693.31 346.06 L 693.36 265.02 L 693.55 328.55 L 693.75 261.26 L 693.89 349.06 L 693.99 297.25 L 694.04 409.15 L 694.09 368.01 L 694.13 305.44 L 694.18 324.57 L 694.23 382.68 L 694.28 330.55 L 694.33 249.21 L 694.38 300.91 L 694.52 388.94 L 694.67 281.08 L 694.76 350.9 L 694.86 225.55 L 695.01 348.41 L 695.05 351.9 L 695.2 283.18 L 695.25 289.11 L 695.3 286.31 L 695.35 315.75 L 695.39 276.01 L 695.44 314.99 L 695.49 289.87 L 695.54 380.75 L 695.59 314.97 L 695.68 293.23 L 695.73 315.46 L 695.78 284.36 L 695.88 352.44 L 695.93 307.85 L 696.02 312.24 L 696.07 382.71 L 696.12 368.92 L 696.17 253.24 L 696.22 283.38 L 696.27 297.7 L 696.31 249.03 L 696.46 331.34 L 696.51 218.37 L 696.65 407.96 L 696.75 277.05 L 696.8 295.02 L 696.99 335.28 L 697.14 248.24 L 697.33 336.54 L 697.38 347.26 L 697.43 261.56 L 697.48 358.34 L 697.57 278.03 L 697.62 341.53 L 697.67 233.6 L 697.72 290.68 L 697.82 328.09 L 697.86 248.53 L 697.91 368.58 L 697.96 293.59 L 698.01 326.5 L 698.06 246.8 L 698.11 306.02 L 698.16 331.2 L 698.3 255.87 L 698.4 299.8 L 698.45 271.29 L 698.59 333.36 L 698.64 301.06 L 698.69 364.03 L 698.74 258.77 L 698.78 391.79 L 698.98 276.48 L 699.03 374.47 L 699.08 335.23 L 699.12 300.51 L 699.17 325.82 L 699.27 294.65 L 699.32 313.23 L 699.41 382.97 L 699.46 337.5 L 699.51 358.93 L 699.56 383.73 L 699.66 273.24 L 699.71 320.94 L 699.75 253.99 L 699.8 256.43 L 699.9 387.66 L 699.95 323.9 L 700 250.88 L 700.04 334.4 L 700.09 275.89 L 700.14 286 L 700.19 338.8 L 700.24 335.75 L 700.29 302.85 L 700.33 368.92 L 700.38 307.28 L 700.43 311.72 L 700.63 433.07 L 700.72 213.34 L 700.77 315.48 L 700.82 313.65 L 700.87 332.58 L 700.96 252.38 L 701.01 335.65 L 701.06 329.57 L 701.21 287.33 L 701.26 399.35 L 701.3 344.09 L 701.35 227.68 L 701.4 343.06 L 701.5 258.55 L 701.55 281.41 L 701.59 283.22 L 701.69 404.19 L 701.79 285.59 L 701.84 310.52 L 701.88 300.42 L 701.98 339.54 L 702.08 291.55 L 702.13 197.47 L 702.18 310.94 L 702.22 327.86 L 702.27 307.58 L 702.32 285.02 L 702.37 296.07 L 702.47 341.13 L 702.51 326.02 L 702.61 270.39 L 702.66 356.23 L 702.76 354.94 L 702.81 218.13 L 702.85 292.56 L 702.9 271.58 L 702.95 315.15 L 703 306.69 L 703.05 247.21 L 703.1 396.62 L 703.14 328.85 L 703.19 254.06 L 703.24 331.6 L 703.29 308.87 L 703.34 350.36 L 703.39 252.74 L 703.48 411.7 L 703.58 297.32 L 703.68 389.75 L 703.73 304.57 L 703.82 317.3 L 703.87 344.97 L 703.92 343.33 L 703.97 267.66 L 704.02 274.84 L 704.06 313.35 L 704.11 308.46 L 704.21 239.38 L 704.26 397.03 L 704.31 266.78 L 704.4 353.52 L 704.45 327.24 L 704.5 301.64 L 704.55 328.64 L 704.6 314.38 L 704.65 316.57 L 704.69 351.13 L 704.74 308.42 L 704.79 317.24 L 704.84 312.7 L 704.89 291.56 L 704.94 293.66 L 704.99 317.27 L 705.03 300.74 L 705.13 302.41 L 705.18 258.17 L 705.32 391 L 705.37 284.78 L 705.42 326.97 L 705.47 431.05 L 705.52 249.8 L 705.57 275.26 L 705.61 327.75 L 705.66 324.69 L 705.76 263.48 L 705.91 385.28 L 705.95 293.67 L 706 322.92 L 706.1 376.89 L 706.24 215.99 L 706.29 402.13 L 706.39 378.17 L 706.49 250.14 L 706.58 385.52 L 706.68 284.96 L 706.73 308.74 L 706.78 389.07 L 706.83 296.1 L 706.87 359.93 L 706.92 320.53 L 706.97 240.24 L 707.02 361.99 L 707.07 265.27 L 707.16 379.51 L 707.21 229.78 L 707.26 359.04 L 707.41 276.26 L 707.5 361.96 L 707.55 263.52 L 707.6 333.76 L 707.75 272.71 L 707.84 331.11 L 707.89 319.89 L 707.94 324.89 L 707.99 291.45 L 708.04 323.12 L 708.09 356.98 L 708.13 348.42 L 708.23 310.14 L 708.28 336.5 L 708.33 328.48 L 708.42 304.53 L 708.52 342.04 L 708.57 265.25 L 708.62 358.02 L 708.72 302.08 L 708.76 340.18 L 708.81 285.51 L 708.86 358.41 L 708.91 266.47 L 709.1 332.02 L 709.2 270.73 L 709.25 343.31 L 709.3 298.48 L 709.34 321.59 L 709.39 261.04 L 709.44 344.74 L 709.49 273.81 L 709.64 335.55 L 709.73 250.33 L 709.78 342.8 L 709.83 270.21 L 709.88 226.99 L 709.93 400.32 L 709.97 259.12 L 710.12 367.21 L 710.27 277.9 L 710.31 371.85 L 710.36 275.76 L 710.41 345.63 L 710.46 259.57 L 710.51 317.98 L 710.56 355.16 L 710.6 316.3 L 710.65 340.13 L 710.7 267.6 L 710.75 325.61 L 710.8 339.4 L 710.89 236.57 L 711.04 367.08 L 711.09 273.96 L 711.14 357.67 L 711.33 277.51 L 711.38 364.81 L 711.43 346.62 L 711.52 290.29 L 711.57 294.72 L 711.67 234.72 L 711.77 366.97 L 711.82 359.88 L 711.91 293.57 L 711.96 364.19 L 712.01 326.24 L 712.2 231.08 L 712.25 412.56 L 712.3 347.36 L 712.4 253.02 L 712.44 314.27 L 712.54 302.08 L 712.59 328.99 L 712.64 272.27 L 712.69 363.37 L 712.74 354.68 L 712.78 259 L 712.83 308.47 L 712.93 388.48 L 712.98 235.05 L 713.03 289.89 L 713.07 361.98 L 713.12 348.66 L 713.22 275.81 L 713.27 288.3 L 713.32 381.8 L 713.37 246.53 L 713.41 277.41 L 713.61 430.26 L 713.7 279.61 L 713.75 293.07 L 713.8 334.15 L 713.85 293.24 L 713.9 259.95 L 713.95 302.53 L 713.99 347.52 L 714.09 340.19 L 714.14 320.74 L 714.19 252.91 L 714.24 353.15 L 714.29 217.71 L 714.33 364.27 L 714.38 353.88 L 714.43 256.89 L 714.48 314.02 L 714.53 343.49 L 714.58 295.41 L 714.62 408.08 L 714.67 356.81 L 714.72 237.99 L 714.77 320.96 L 714.82 310.47 L 714.87 413.22 L 714.92 333.9 L 714.96 381.7 L 715.01 346.87 L 715.06 346.85 L 715.11 356.67 L 715.16 246.61 L 715.21 349.47 L 715.35 256.34 L 715.45 377.53 L 715.5 263.43 L 715.59 269.03 L 715.84 379.24 L 715.88 367.69 L 716.03 303.81 L 716.08 296.67 L 716.22 357.33 L 716.27 310.22 L 716.32 338.1 L 716.37 351.75 L 716.47 306.92 L 716.51 358.52 L 716.61 232.77 L 716.66 322.94 L 716.71 269.26 L 716.8 344.07 L 716.85 222.64 L 716.9 315.93 L 717.05 304.35 L 717.14 291.51 L 717.24 328.11 L 717.29 432.49 L 717.34 309.63 L 717.39 364.5 L 717.43 318.86 L 717.48 292.49 L 717.53 297.26 L 717.68 360.75 L 717.82 232.22 L 717.87 345.79 L 717.92 302.94 L 717.97 311.06 L 718.02 400.75 L 718.06 257.36 L 718.16 293.37 L 718.21 298.3 L 718.26 322.04 L 718.31 299.11 L 718.35 304.79 L 718.4 302.85 L 718.5 393.85 L 718.55 384.92 L 718.65 233.85 L 718.69 266.18 L 718.79 365.02 L 718.84 308.03 L 718.89 343.76 L 718.94 300.89 L 718.98 310.49 L 719.03 365.75 L 719.18 274.02 L 719.27 333.64 L 719.32 264.95 L 719.42 281 L 719.61 367.48 L 719.71 332.11 L 719.76 339.71 L 719.81 217.66 L 719.86 352.27 L 719.95 297.25 L 720 226.95 L 720.05 311.82 L 720.1 289.85 L 720.2 351.69 L 720.24 340.35 L 720.29 275.78 L 720.34 319 L 720.39 313.38 L 720.44 315.83 L 720.53 246.73 L 720.73 373.93 L 720.83 289.37 L 720.87 290.64 L 720.92 338.05 L 721.02 330.99 L 721.12 271.88 L 721.16 303.36 L 721.21 344.47 L 721.31 342.49 L 721.36 309.58 L 721.41 328.09 L 721.45 368.61 L 721.5 338.74 L 721.6 166.76 L 721.65 355.98 L 721.7 302.61 L 721.75 228.18 L 721.79 301.59 L 721.84 348.71 L 721.89 327.7 L 722.04 250.38 L 722.08 356.16 L 722.13 334.87 L 722.28 288.23 L 722.33 300.11 L 722.38 449.91 L 722.42 250.95 L 722.47 311.11 L 722.52 373.46 L 722.57 314.21 L 722.62 333.54 L 722.67 322.22 L 722.71 236.1 L 722.76 293.38 L 722.81 367.24 L 722.86 308.41 L 722.91 294.86 L 722.96 332.11 L 723 277.85 L 723.05 334.08 L 723.1 285.41 L 723.2 347.2 L 723.25 278.45 L 723.3 374.71 L 723.34 228.31 L 723.39 320.53 L 723.44 397.41 L 723.49 364.21 L 723.54 350.97 L 723.59 404.43 L 723.68 202.16 L 723.73 342.99 L 723.78 293.81 L 723.83 228.98 L 723.88 332.89 L 723.93 286.33 L 723.97 273.08 L 724.02 380.55 L 724.07 301.55 L 724.12 267.18 L 724.17 309.29 L 724.22 306.15 L 724.31 257.52 L 724.41 392.6 L 724.46 327.64 L 724.6 306.62 L 724.75 373.19 L 724.8 218.15 L 724.85 435.3 L 724.89 332.76 L 724.94 256.24 L 724.99 320.61 L 725.04 305.9 L 725.09 220.97 L 725.14 351.07 L 725.18 312.76 L 725.28 276.29 L 725.43 383.87 L 725.48 277.76 L 725.52 329.47 L 725.57 336.53 L 725.67 267.51 L 725.77 392.67 L 725.81 354.63 L 725.86 292.27 L 725.91 305.46 L 725.96 347.95 L 726.01 301.1 L 726.2 371.14 L 726.3 295.44 L 726.35 315.12 L 726.4 380.94 L 726.49 272.58 L 726.54 339.33 L 726.59 320.49 L 726.64 319.22 L 726.69 329.26 L 726.78 275.1 L 726.83 291.74 L 726.88 388.32 L 726.93 327.96 L 726.98 323.52 L 727.07 417.99 L 727.12 279.58 L 727.22 297.83 L 727.27 327.33 L 727.36 244.13 L 727.41 264.57 L 727.46 285.59 L 727.51 246.58 L 727.66 364.93 L 727.75 271.6 L 727.85 287.01 L 727.95 383.49 L 727.99 335.8 L 728.04 279.01 L 728.09 380.52 L 728.14 300.7 L 728.28 361.91 L 728.33 259.3 L 728.38 307.83 L 728.43 315.78 L 728.48 210.87 L 728.53 343.33 L 728.62 284.62 L 728.67 305.65 L 728.72 308.76 L 728.77 372.92 L 728.82 342.92 L 728.87 345.82 L 728.91 360.31 L 729.01 375.64 L 729.06 273.78 L 729.11 275.75 L 729.16 185.26 L 729.3 360.43 L 729.5 254.59 L 729.64 328.22 L 729.69 276.45 L 729.79 277.63 L 729.83 405.14 L 729.93 379.11 L 730.08 264 L 730.13 351.27 L 730.17 256.56 L 730.22 270.15 L 730.27 342.96 L 730.32 254.17 L 730.37 270.57 L 730.42 354.27 L 730.46 299.97 L 730.56 298.69 L 730.61 317.12 L 730.66 268.73 L 730.71 322.06 L 730.76 298.72 L 730.8 324.51 L 730.85 337.63 L 730.9 390.68 L 730.95 298.09 L 731 431.91 L 731.05 304.96 L 731.14 342.63 L 731.19 356.83 L 731.24 316.43 L 731.29 378.7 L 731.34 348.62 L 731.38 312.62 L 731.48 314.8 L 731.53 368.11 L 731.63 360.2 L 731.68 272.88 L 731.72 317.18 L 731.77 318.88 L 731.87 263.94 L 731.92 362.44 L 732.01 354.24 L 732.06 350.04 L 732.21 283.66 L 732.26 306.72 L 732.31 362.21 L 732.35 341.38 L 732.4 338.15 L 732.55 219.19 L 732.6 382.61 L 732.64 325.22 L 732.69 231.89 L 732.74 309.46 L 732.79 297.5 L 732.84 308.86 L 732.89 324.05 L 732.94 229.68 L 732.98 360.99 L 733.03 228.71 L 733.18 341.27 L 733.23 318.19 L 733.27 368.15 L 733.32 318.25 L 733.37 291.76 L 733.42 303.9 L 733.47 303.95 L 733.52 330.68 L 733.66 205.38 L 733.71 341.13 L 733.76 269.52 L 733.86 245.67 L 733.95 308.02 L 734 295.96 L 734.05 279.83 L 734.1 325.41 L 734.15 303.88 L 734.24 269.5 L 734.34 349.49 L 734.39 285.38 L 734.44 323.06 L 734.49 346.72 L 734.53 295.76 L 734.58 335.48 L 734.63 347.46 L 734.68 319.69 L 734.73 390 L 734.78 317.39 L 734.82 296.1 L 734.87 326.31 L 734.97 324.9 L 735.07 218.8 L 735.16 372.08 L 735.21 272.2 L 735.26 368.1 L 735.31 351.18 L 735.36 291.18 L 735.41 319.99 L 735.45 350.88 L 735.5 282.42 L 735.55 376.82 L 735.6 254.57 L 735.65 350.61 L 735.79 259.92 L 735.84 353.96 L 735.89 347.94 L 735.99 251.79 L 736.04 317.83 L 736.08 304.32 L 736.13 276.01 L 736.28 378.66 L 736.33 349.11 L 736.37 287.3 L 736.42 308.83 L 736.47 353 L 736.52 338.88 L 736.57 267.94 L 736.62 372.77 L 736.66 345.74 L 736.71 260.21 L 736.76 287.23 L 736.81 333.06 L 736.86 324.25 L 736.91 296.73 L 736.96 379.12 L 737 252.62 L 737.05 358.33 L 737.25 254.61 L 737.29 320.33 L 737.34 314.67 L 737.39 244.61 L 737.44 343.03 L 737.49 335.76 L 737.54 271.44 L 737.59 355.68 L 737.63 316.7 L 737.78 282.03 L 737.97 373.06 L 738.02 227.16 L 738.12 244.56 L 738.17 366.09 L 738.22 320.76 L 738.31 223.81 L 738.36 252.13 L 738.41 343.62 L 738.46 255.14 L 738.55 295.42 L 738.6 233.75 L 738.65 307.51 L 738.7 317.14 L 738.75 399.93 L 738.89 274.93 L 738.94 383.4 L 738.99 338.65 L 739.04 243.96 L 739.09 322.46 L 739.14 336.01 L 739.18 281.53 L 739.23 383.34 L 739.28 277.49 L 739.52 384.82 L 739.57 236.94 L 739.62 316.73 L 739.77 377.13 L 739.81 379.12 L 740.01 252.9 L 740.15 347.55 L 740.2 310.92 L 740.25 395.65 L 740.3 342.53 L 740.35 370.07 L 740.39 263.84 L 740.44 325.79 L 740.49 352.61 L 740.59 245.55 L 740.69 333.82 L 740.73 295.39 L 740.78 299.48 L 740.83 357.62 L 740.88 354.52 L 741.02 290.96 L 741.12 372.12 L 741.17 301.07 L 741.22 335.54 L 741.27 338 L 741.32 254.66 L 741.36 310.23 L 741.41 309.94 L 741.46 410.26 L 741.51 301.38 L 741.61 344.93 L 741.65 332.63 L 741.7 293.53 L 741.85 393.38 L 741.99 319.04 L 742.04 434.43 L 742.09 313.81 L 742.14 370.75 L 742.19 254.52 L 742.28 257.02 L 742.33 269.05 L 742.38 315.43 L 742.43 291.4 L 742.48 271.67 L 742.53 355.73 L 742.57 315.67 L 742.62 298.28 L 742.67 238.79 L 742.72 276.22 L 742.77 354.1 L 742.82 294.11 L 742.91 323.33 L 742.96 313.61 L 743.01 329.16 L 743.06 285.51 L 743.11 289.7 L 743.25 353.34 L 743.3 291.32 L 743.35 291.59 L 743.5 344.77 L 743.59 346.78 L 743.64 235.73 L 743.69 336.02 L 743.79 318.78 L 743.83 273.64 L 743.88 336.44 L 743.98 328.58 L 744.08 298.88 L 744.12 216 L 744.17 249.15 L 744.22 350.79 L 744.27 303.43 L 744.37 257.24 L 744.46 304.05 L 744.51 303.79 L 744.56 281.13 L 744.61 327.38 L 744.66 281.55 L 744.71 282.36 L 744.8 370.7 L 744.85 299.32 L 744.95 300.71 L 745 324.37 L 745.09 324.2 L 745.14 269.75 L 745.19 349.78 L 745.24 257.6 L 745.34 326.94 L 745.38 266.4 L 745.43 440.7 L 745.48 353.36 L 745.72 282.93 L 745.77 328.28 L 745.92 214.87 L 745.97 335.79 L 746.06 301.93 L 746.11 326.02 L 746.16 272.44 L 746.21 361.62 L 746.26 337.64 L 746.4 188.57 L 746.55 383.87 L 746.6 330.59 L 746.64 361.26 L 746.69 244.1 L 746.74 297.13 L 746.79 332.89 L 746.84 273.98 L 746.89 275.25 L 746.93 368.77 L 747.03 348.29 L 747.13 261.32 L 747.18 275.22 L 747.27 318.77 L 747.37 333.03 L 747.42 221.01 L 747.56 378.19 L 747.61 271.67 L 747.66 330 L 747.81 288.77 L 747.9 361.38 L 748 309.58 L 748.05 323.39 L 748.1 337.05 L 748.15 216.83 L 748.19 343.29 L 748.34 260.25 L 748.39 300.67 L 748.44 331.77 L 748.48 254 L 748.53 323.37 L 748.58 321.22 L 748.63 331.34 L 748.68 329.97 L 748.73 275.06 L 748.77 294.57 L 748.82 299.49 L 748.87 322.98 L 748.97 286.65 L 749.07 355.42 L 749.11 245.16 L 749.16 274.3 L 749.21 357.87 L 749.26 302.45 L 749.36 270.32 L 749.4 278.12 L 749.45 321.92 L 749.5 295.35 L 749.6 183.75 L 749.74 292.6 L 749.84 350.62 L 749.89 296.86 L 749.94 304.43 L 749.99 316.27 L 750.03 377.93 L 750.08 360.44 L 750.18 248.83 L 750.33 350.19 L 750.37 240.56 L 750.42 273.76 L 750.47 362.43 L 750.57 350 L 750.71 246.63 L 750.76 358.61 L 750.81 339.03 L 751.05 285.19 L 751.1 386.23 L 751.15 320.81 L 751.2 190.66 L 751.25 231.07 L 751.34 366.76 L 751.44 352.18 L 751.54 357.38 L 751.58 288.27 L 751.68 362.37 L 751.73 330.79 L 751.78 246.69 L 751.83 375.47 L 751.88 326.38 L 751.97 278.48 L 752.02 343.46 L 752.07 290.75 L 752.12 271.87 L 752.26 368.53 L 752.31 275.02 L 752.36 296.24 L 752.46 382.38 L 752.6 253.25 L 752.75 301.6 L 752.8 291.87 L 752.89 360.81 L 752.99 303.16 L 753.04 319.92 L 753.09 356.82 L 753.13 354.96 L 753.23 319.02 L 753.28 347.22 L 753.33 263.08 L 753.38 331.72 L 753.43 300.63 L 753.47 353.51 L 753.52 302.36 L 753.57 301.37 L 753.62 307.97 L 753.67 358.18 L 753.81 286.76 L 753.86 332.39 L 753.91 324.07 L 753.96 279.72 L 754.01 313.26 L 754.05 312.29 L 754.1 356.04 L 754.25 279.93 L 754.35 291.22 L 754.39 282.77 L 754.49 344 L 754.54 335.17 L 754.59 327.53 L 754.64 335.89 L 754.68 351.93 L 754.73 290.83 L 754.78 399.95 L 754.83 281.13 L 754.98 449.05 L 755.02 330.06 L 755.12 360.29 L 755.27 300.78 L 755.31 326.12 L 755.41 256.94 L 755.51 377.48 L 755.56 341.43 L 755.65 269.57 L 755.85 418.02 L 755.99 256.36 L 756.04 360.74 L 756.09 331.47 L 756.23 315.82 L 756.28 245.17 L 756.33 373.78 L 756.38 285.43 L 756.53 341.83 L 756.57 340.08 L 756.62 253.42 L 756.67 260.06 L 756.77 341.82 L 756.91 294.74 L 757.06 379.64 L 757.16 266.04 L 757.25 304.41 L 757.3 336.43 L 757.35 315 L 757.4 273.52 L 757.45 289.02 L 757.64 378.71 L 757.69 309.61 L 757.78 322.19 L 757.83 334.27 L 757.88 321.49 L 758.03 236.31 L 758.17 321.31 L 758.22 225.09 L 758.32 252.25 L 758.37 258.83 L 758.51 349.88 L 758.61 270.27 L 758.66 278.65 L 758.75 342.21 L 758.95 222.31 L 759 366.19 L 759.09 357.13 L 759.19 276.81 L 759.24 304.07 L 759.29 308.91 L 759.33 342.43 L 759.43 333.76 L 759.48 294.39 L 759.53 354.47 L 759.58 299.82 L 759.63 309.31 L 759.67 356.59 L 759.72 327.02 L 759.77 262.51 L 759.82 265.53 L 759.92 290.13 L 759.96 398.79 L 760.01 343.47 L 760.06 257.97 L 760.16 275.48 L 760.21 257.39 L 760.26 414.49 L 760.3 306.89 L 760.35 278.36 L 760.4 323.45 L 760.45 266.83 L 760.5 319.29 L 760.55 315.55 L 760.64 278.78 L 760.69 327.26 L 760.74 294.54 L 760.89 348.7 L 760.93 329.26 L 760.98 314.75 L 761.03 381.1 L 761.08 368.8 L 761.22 283.42 L 761.27 347.98 L 761.32 333.5 L 761.37 291.76 L 761.42 297.67 L 761.47 332.61 L 761.51 244.71 L 761.56 373.89 L 761.61 321.69 L 761.66 306.56 L 761.71 345.64 L 761.81 257.71 L 761.85 291.28 L 761.95 287.11 L 762 328.21 L 762.19 142.85 L 762.24 344.8 L 762.34 287.31 L 762.58 359.61 L 762.63 294.86 L 762.68 341.55 L 762.73 356.02 L 762.77 236.2 L 762.82 326.83 L 762.87 350.11 L 763.11 244.28 L 763.21 342.32 L 763.26 321.88 L 763.36 252.98 L 763.4 419.33 L 763.45 269.55 L 763.5 323.14 L 763.55 298.39 L 763.6 275.76 L 763.65 331.94 L 763.69 293.58 L 763.74 218.04 L 763.79 241.39 L 763.94 379.99 L 763.99 366.89 L 764.03 283.63 L 764.08 354.48 L 764.23 287.68 L 764.28 365.53 L 764.32 350.67 L 764.37 316.97 L 764.42 370.09 L 764.57 264.64 L 764.71 373.08 L 764.86 302.16 L 764.95 381.88 L 765.05 388.85 L 765.1 256.9 L 765.39 350.25 L 765.44 413.91 L 765.49 295.77 L 765.54 371.07 L 765.68 282.83 L 765.73 305.46 L 765.78 400.06 L 765.83 301.2 L 765.87 288.58 L 765.97 365.65 L 766.02 303.44 L 766.12 315.92 L 766.21 264.88 L 766.26 404.17 L 766.36 380.87 L 766.41 321.9 L 766.46 364.57 L 766.5 381.11 L 766.6 296.63 L 766.65 354.79 L 766.7 336.05 L 766.75 330.81 L 766.79 229.76 L 766.84 273.38 L 766.89 390.62 L 766.94 332.76 L 767.09 255.95 L 767.13 269.89 L 767.18 344.49 L 767.23 330.29 L 767.28 252.3 L 767.33 352.54 L 767.38 369.72 L 767.42 314.36 L 767.47 343.9 L 767.57 330.46 L 767.67 258.47 L 767.72 342.24 L 767.81 335.76 L 767.86 341.25 L 767.96 349.54 L 768.01 249.47 L 768.05 368.65 L 768.1 279.98 L 768.15 233.39 L 768.2 282.88 L 768.34 370.79 L 768.44 319.38 L 768.49 345.22 L 768.54 274.24 L 768.59 335.42 L 768.73 302.9 L 768.78 311.19 L 768.83 375.26 L 768.88 373.78 L 768.93 289.81 L 768.97 295.06 L 769.07 392.44 L 769.22 235.04 L 769.27 323.04 L 769.31 320.6 L 769.36 265.76 L 769.41 339.39 L 769.51 330.3 L 769.6 278.41 L 769.65 348.45 L 769.7 303.09 L 769.75 291.3 L 769.8 343.19 L 769.85 290.96 L 769.89 290.72 L 769.99 356.37 L 770.19 239.77 L 770.23 330.49 L 770.28 260.31 L 770.38 298.62 L 770.43 361.02 L 770.48 321.66 L 770.52 308.52 L 770.57 311.36 L 770.62 321.64 L 770.72 421.13 L 770.77 341.22 L 770.86 361.15 L 770.96 296.59 L 771.01 329.75 L 771.06 347.3 L 771.11 319.37 L 771.15 401.52 L 771.2 312 L 771.25 347.69 L 771.3 316.97 L 771.35 315.3 L 771.4 332.01 L 771.44 247.24 L 771.49 337.29 L 771.69 222.46 L 771.74 336.27 L 771.83 325.02 L 771.88 281.91 L 771.93 350.93 L 772.03 334.23 L 772.07 289.95 L 772.12 295.86 L 772.17 304.28 L 772.27 285.09 L 772.32 328.28 L 772.37 314.8 L 772.46 244.53 L 772.51 347.32 L 772.61 340.68 L 772.8 224.74 L 772.9 410.54 L 773 350.18 L 773.04 218.75 L 773.09 336.75 L 773.14 300.31 L 773.19 340.18 L 773.24 319.33 L 773.29 329.03 L 773.33 330.78 L 773.38 353.19 L 773.43 266.47 L 773.48 296.96 L 773.53 308.65 L 773.58 275.42 L 773.62 289.04 L 773.67 321.51 L 773.72 301.51 L 773.77 299.3 L 773.87 369.13 L 774.01 279.23 L 774.06 293.17 L 774.11 348.9 L 774.21 334.92 L 774.25 269.94 L 774.3 344.34 L 774.35 362.11 L 774.4 240.05 L 774.45 390.67 L 774.59 297.67 L 774.64 321.37 L 774.69 279.52 L 774.74 282.13 L 774.79 377.53 L 774.88 369.38 L 774.93 409.47 L 774.98 344.11 L 775.03 354.29 L 775.08 375.42 L 775.13 263.65 L 775.17 265.82 L 775.22 332.22 L 775.27 292.3 L 775.32 246.39 L 775.42 337.41 L 775.47 305.06 L 775.51 315.77 L 775.56 275.55 L 775.61 312.48 L 775.66 358.18 L 775.71 340.94 L 775.76 325.02 L 775.9 405.63 L 776 285.36 L 776.05 294.58 L 776.1 384.14 L 776.14 351.46 L 776.19 305.95 L 776.29 313.89 L 776.39 289.6 L 776.43 363.37 L 776.48 273.82 L 776.53 258.55 L 776.58 305.76 L 776.63 280.65 L 776.68 273.04 L 776.72 276.51 L 776.77 367.02 L 776.82 267.17 L 776.97 360.9 L 777.16 284.15 L 777.26 368.48 L 777.35 229.85 L 777.45 375.21 L 777.5 334.71 L 777.55 290.35 L 777.6 311.46 L 777.65 347.76 L 777.69 328.96 L 777.74 323.69 L 777.79 274.88 L 777.84 359.99 L 777.89 273.54 L 777.94 340.87 L 777.98 285.52 L 778.03 293.17 L 778.08 336.36 L 778.18 325.13 L 778.32 289.59 L 778.37 381.92 L 778.42 342.55 L 778.47 253.2 L 778.52 353.59 L 778.57 321.82 L 778.61 394.56 L 778.66 232.28 L 778.76 273.81 L 778.81 285.33 L 778.86 258.7 L 778.9 281.43 L 779.05 379.95 L 779.15 287.55 L 779.24 316.36 L 779.29 317.58 L 779.44 240.89 L 779.58 357.16 L 779.63 337.99 L 779.68 305.6 L 779.73 340.42 L 779.78 367.81 L 779.92 245.78 L 780.12 394.68 L 780.21 230.57 L 780.31 285.36 L 780.41 346.93 L 780.45 249.48 L 780.5 314.19 L 780.55 308.26 L 780.6 336.09 L 780.65 318.99 L 780.79 287.51 L 780.94 376.47 L 781.13 251.8 L 781.23 346.82 L 781.28 293.42 L 781.33 362.08 L 781.38 375.66 L 781.42 299.32 L 781.47 311.49 L 781.62 364.95 L 781.67 342.68 L 781.71 217.74 L 781.76 345.86 L 781.81 355.03 L 781.91 268.43 L 781.96 408.67 L 782 356.48 L 782.05 295.29 L 782.15 299.97 L 782.3 356.95 L 782.49 249.09 L 782.68 374.88 L 782.83 291.78 L 782.88 406.61 L 782.93 390.29 L 783.02 213.51 L 783.07 278.28 L 783.12 284.16 L 783.17 337.22 L 783.22 336.78 L 783.26 300.82 L 783.36 377.39 L 783.41 306.64 L 783.46 365.92 L 783.51 362.79 L 783.56 418.85 L 783.6 296.11 L 783.7 314.58 L 783.75 356.01 L 783.8 348.81 L 783.89 311.88 L 783.94 335.05 L 784.04 334.28 L 784.14 363.92 L 784.18 310.56 L 784.28 314.49 L 784.33 292.15 L 784.38 352.33 L 784.43 305.55 L 784.48 304.46 L 784.52 320.23 L 784.57 247.07 L 784.62 330.9 L 784.67 251.24 L 784.86 319.46 L 785.01 245.16 L 785.06 345.51 L 785.11 342.99 L 785.15 215.65 L 785.2 308.81 L 785.3 360.82 L 785.44 272.03 L 785.54 350.4 L 785.59 302.34 L 785.69 384.53 L 785.73 291.54 L 785.78 349.52 L 785.83 342.79 L 785.88 292.09 L 785.93 322.1 L 786.03 378.09 L 786.07 246.06 L 786.12 383.03 L 786.17 298.62 L 786.22 316.19 L 786.27 361.58 L 786.32 324.29 L 786.36 320.75 L 786.51 264.89 L 786.61 356.61 L 786.66 266.06 L 786.7 305.93 L 786.75 385.99 L 786.8 258.98 L 786.85 348.15 L 787.09 251.42 L 787.14 356.07 L 787.24 325.41 L 787.28 246.68 L 787.33 254.94 L 787.38 368.26 L 787.43 275.6 L 787.53 426.42 L 787.58 282.82 L 787.62 391.68 L 787.67 401.7 L 787.72 287.62 L 787.77 290.19 L 787.87 362.86 L 787.91 314.95 L 788.01 326.54 L 788.06 337.96 L 788.11 322.6 L 788.16 366 L 788.21 347.89 L 788.25 295.74 L 788.3 382.52 L 788.35 296.42 L 788.5 363.55 L 788.54 357.35 L 788.69 283.8 L 788.74 355.57 L 788.83 341.05 L 788.93 291.17 L 788.98 361.12 L 789.03 338.19 L 789.13 282.5 L 789.22 291.26 L 789.42 399.76 L 789.51 293.85 L 789.56 300.27 L 789.61 335.16 L 789.66 277.85 L 789.71 297.47 L 789.76 385.83 L 789.8 286.07 L 789.95 344.79 L 790.05 290.3 L 790.19 378.11 L 790.34 280.02 L 790.39 337.71 L 790.48 331.04 L 790.53 315.54 L 790.58 343.73 L 790.63 339.65 L 790.68 322.1 L 790.72 325.49 L 790.77 337.84 L 790.87 240.43 L 790.92 353.12 L 791.01 334.32 L 791.16 247.07 L 791.21 332.29 L 791.26 277.96 L 791.31 274.89 L 791.35 331.5 L 791.4 263.15 L 791.55 353.7 L 791.64 297.91 L 791.79 431.41 L 791.84 398.29 L 791.89 263.06 L 791.94 371.96 L 791.98 373.11 L 792.03 306.17 L 792.08 349.38 L 792.27 287.1 L 792.32 288.84 L 792.37 296.95 L 792.42 260.02 L 792.47 354.09 L 792.52 313.27 L 792.61 320.49 L 792.66 249.59 L 792.76 375.69 L 792.81 336.51 L 792.86 301.55 L 792.95 304.61 L 793 304.45 L 793.05 366.06 L 793.1 314.02 L 793.24 267.52 L 793.29 339.55 L 793.34 244.6 L 793.39 270.06 L 793.44 283.15 L 793.49 334.38 L 793.53 298.67 L 793.68 240.86 L 793.82 416.05 L 793.92 298.11 L 793.97 319.53 L 794.07 271.94 L 794.11 382.31 L 794.16 314.97 L 794.21 313.16 L 794.26 396.99 L 794.31 281.92 L 794.36 337.15 L 794.41 396.48 L 794.45 325.61 L 794.5 300.54 L 794.6 304.29 L 794.65 303.45 L 794.74 291.44 L 794.79 377.43 L 794.89 379.1 L 794.94 279.64 L 794.99 217.02 L 795.18 439.83 L 795.33 330.73 L 795.37 354.27 L 795.42 338.85 L 795.47 335.34 L 795.67 219.26 L 795.71 412.93 L 795.76 329.83 L 795.81 294.03 L 795.86 298.63 L 796 382.88 L 796.15 216.44 L 796.2 315.81 L 796.25 291.07 L 796.29 238.42 L 796.34 304.96 L 796.49 353.82 L 796.54 266 L 796.59 385.41 L 796.63 363.89 L 796.68 269.7 L 796.73 363.5 L 796.78 374.9 L 796.92 298.59 L 796.97 310.13 L 797.02 299.02 L 797.07 268.87 L 797.12 362.67 L 797.17 289.92 L 797.22 245.56 L 797.26 295.46 L 797.31 293.47 L 797.51 368.48 L 797.55 278.86 L 797.65 292.55 L 797.7 343.8 L 797.75 302.87 L 797.8 289.24 L 797.94 383.74 L 797.99 308.28 L 798.04 392.79 L 798.23 266.81 L 798.33 333.86 L 798.43 272.77 L 798.47 287.1 L 798.62 353.63 L 798.67 340.53 L 798.77 294.78 L 798.81 413.93 L 798.86 303.22 L 798.91 323.4 L 799.06 276.98 L 799.15 344.46 L 799.2 288.78 L 799.25 326.99 L 799.3 338.59 L 799.35 414.34 L 799.39 359.71 L 799.44 229.55 L 799.49 309.02 L 799.54 312.25 L 799.59 353.25 L 799.64 314.14 L 799.69 323.39 L 799.73 290.07 L 799.78 291.92 L 799.88 359.41 L 799.93 341.77 L 799.98 282.13 L 800.02 342.53 L 800.12 275.5 L 800.22 381.91 L 800.27 360.02 L 800.32 344.3 L 800.36 260.77 L 800.41 350.07 L 800.56 290 L 800.61 369.86 L 800.7 357.21 L 800.8 376.11 L 800.95 245.31 L 800.99 261.09 L 801.04 402.57 L 801.09 331.94 L 801.24 240.73 L 801.28 311.44 L 801.38 298.38 L 801.43 279.46 L 801.53 375.9 L 801.57 254.45 L 801.62 368.73 L 801.77 309.26 L 801.82 337.25 L 801.87 273.3 L 801.91 347.12 L 802.01 325.32 L 802.06 355.03 L 802.11 349.26 L 802.25 252.22 L 802.3 353.11 L 802.35 269.28 L 802.4 295.18 L 802.45 284.58 L 802.5 283.88 L 802.54 296.2 L 802.59 294.28 L 802.64 251.72 L 802.79 319.56 L 802.88 251.13 L 803.03 434.43 L 803.08 236.36 L 803.12 312.88 L 803.17 367.46 L 803.22 273.12 L 803.32 297.67 L 803.37 286.58 L 803.42 248.97 L 803.51 415 L 803.56 273.62 L 803.61 335.17 L 803.71 315.65 L 803.75 354.1 L 803.9 303.21 L 803.95 408.88 L 804 368.35 L 804.05 216.82 L 804.09 378.87 L 804.14 265.23 L 804.19 275.88 L 804.38 400.33 L 804.43 409.2 L 804.48 283.5 L 804.53 336.5 L 804.63 355.65 L 804.67 291.91 L 804.72 310.59 L 804.87 320.62 L 804.92 363.81 L 805.01 270.98 L 805.06 344.73 L 805.11 312.33 L 805.16 323.01 L 805.21 318.68 L 805.26 292.67 L 805.35 374.95 L 805.4 283.98 L 805.45 373.7 L 805.6 301.48 L 805.64 331.42 L 805.69 299.39 L 805.74 291.85 L 805.84 352.7 L 805.89 329.98 L 805.93 350.25 L 805.98 324.87 L 806.03 234.06 L 806.08 320.66 L 806.13 359.21 L 806.18 274.26 L 806.27 275.92 L 806.32 374.65 L 806.37 326.92 L 806.42 332.91 L 806.47 287.81 L 806.52 379.61 L 806.56 275.79 L 806.61 351.68 L 806.66 249.51 L 806.71 329.66 L 806.76 279.89 L 806.81 295.24 L 806.9 367.03 L 807.05 309.99 L 807.19 430.26 L 807.29 273.28 L 807.34 306.99 L 807.39 358.26 L 807.44 331.62 L 807.53 261.06 L 807.58 369.94 L 807.63 291.64 L 807.73 337.52 L 807.78 280.97 L 807.82 304.61 L 807.92 347.17 L 807.97 233.93 L 808.02 350.42 L 808.07 335.19 L 808.11 221.37 L 808.16 323.7 L 808.26 291.38 L 808.31 298.83 L 808.36 319.62 L 808.4 236.66 L 808.5 402.63 L 808.55 226.65 L 808.6 342.63 L 808.65 362.24 L 808.7 271.01 L 808.79 293.04 L 808.89 347.48 L 808.94 281.98 L 808.99 299.88 L 809.03 360.87 L 809.08 330.37 L 809.13 329.66 L 809.18 338.3 L 809.23 396.62 L 809.28 395.86 L 809.37 303.13 L 809.42 333.51 L 809.47 276.08 L 809.52 393.18 L 809.57 325.04 L 809.62 289.92 L 809.66 326.69 L 809.71 369.9 L 809.76 284.2 L 809.81 308.67 L 809.86 325.81 L 809.91 257.02 L 809.95 384.36 L 810 346.11 L 810.1 285.19 L 810.25 391.85 L 810.29 316.59 L 810.34 351.35 L 810.39 377.3 L 810.44 319.69 L 810.54 336.47 L 810.63 307.85 L 810.68 322.91 L 810.83 381.48 L 811.07 229.91 L 811.17 397.81 L 811.21 339.82 L 811.26 260.81 L 811.31 284.76 L 811.41 314.58 L 811.46 294.62 L 811.5 379.79 L 811.55 372.7 L 811.6 310.21 L 811.65 346.74 L 811.75 309.61 L 811.8 357.26 L 811.84 299.63 L 811.89 325.67 L 811.94 308.08 L 811.99 294.19 L 812.18 369.84 L 812.43 226.23 L 812.47 328.36 L 812.57 325.97 L 812.62 287.41 L 812.67 316.21 L 812.72 349.85 L 812.76 315.34 L 812.81 312.57 L 812.96 321.9 L 813.01 301.82 L 813.06 342.85 L 813.1 291.39 L 813.25 362.86 L 813.39 290.67 L 813.54 382.61 L 813.59 366.52 L 813.64 302.47 L 813.68 330.84 L 813.73 325.17 L 813.78 297.55 L 813.93 373.75 L 813.98 311.67 L 814.02 323.57 L 814.07 394.91 L 814.12 231.06 L 814.22 278.46 L 814.31 275.73 L 814.41 373.98 L 814.56 182.52 L 814.61 285.75 L 814.65 336.91 L 814.75 334.73 L 814.99 229.32 L 815.04 308.77 L 815.14 298.85 L 815.28 374.25 L 815.33 369.86 L 815.38 314.99 L 815.48 321.79 L 815.62 288.98 L 815.82 387.65 L 815.91 332.35 L 815.96 373.82 L 816.01 353.71 L 816.06 349.51 L 816.11 384.3 L 816.25 275.96 L 816.3 350.67 L 816.35 272.62 L 816.4 346.13 L 816.45 324.45 L 816.54 400.31 L 816.59 287.5 L 816.64 337.42 L 816.69 350.33 L 816.74 304.72 L 816.78 385.67 L 816.83 300.72 L 816.88 311.84 L 816.93 311.1 L 817.03 378.89 L 817.12 283.3 L 817.17 295.57 L 817.22 284.91 L 817.32 342.15 L 817.46 268.05 L 817.51 345.19 L 817.56 311.29 L 817.61 279.95 L 817.66 356.94 L 817.71 292.64 L 817.85 398.12 L 818 283 L 818.09 334.91 L 818.14 288.83 L 818.19 296.71 L 818.34 389.65 L 818.38 309.76 L 818.43 353.9 L 818.48 375.95 L 818.63 253.63 L 818.67 421.73 L 818.72 285.53 L 818.82 418.58 L 818.96 221.2 L 819.01 384.99 L 819.06 341 L 819.16 350.99 L 819.21 218.31 L 819.3 377.15 L 819.4 365.69 L 819.5 270.81 L 819.55 292.78 L 819.59 365.18 L 819.64 318.8 L 819.69 262.54 L 819.79 370.67 L 819.84 362.27 L 819.93 270.88 L 819.98 379.54 L 820.08 378.55 L 820.13 290.42 L 820.22 292.37 L 820.27 291.82 L 820.32 326.33 L 820.37 252.76 L 820.42 344.54 L 820.47 279.88 L 820.51 342.87 L 820.56 341.22 L 820.61 349.63 L 820.66 269.63 L 820.76 290.33 L 820.81 296.91 L 820.85 326.04 L 820.9 270.41 L 820.95 283.34 L 821 308.93 L 821.05 206.41 L 821.1 306.45 L 821.14 362.13 L 821.19 344.03 L 821.34 249.11 L 821.44 341.94 L 821.48 313.52 L 821.53 258.49 L 821.58 323.17 L 821.63 270.74 L 821.68 254.58 L 821.73 272.9 L 821.77 256.88 L 821.92 422.49 L 822.02 268.09 L 822.06 323.27 L 822.11 272.76 L 822.16 261.74 L 822.31 340.92 L 822.36 319.34 L 822.45 323.42 L 822.5 355.89 L 822.55 276.93 L 822.6 295.16 L 822.65 348.43 L 822.69 314.19 L 822.79 300.73 L 822.84 336.8 L 822.89 319.47 L 822.94 301.3 L 823.03 350.11 L 823.08 336.79 L 823.13 286.88 L 823.18 316.4 L 823.28 291.2 L 823.47 384.35 L 823.52 275.63 L 823.57 372.41 L 823.61 360.86 L 823.71 287.3 L 823.76 330.92 L 823.86 320.35 L 823.91 357.83 L 824 251.75 L 824.1 321.26 L 824.15 299.98 L 824.2 309.11 L 824.24 342.25 L 824.29 319.44 L 824.39 291.91 L 824.44 390.49 L 824.49 342.64 L 824.58 344.18 L 824.63 283.05 L 824.73 372.62 L 824.78 278.78 L 824.83 364.01 L 824.97 294.09 L 825.07 341.9 L 825.12 305.29 L 825.17 351.76 L 825.21 347.65 L 825.26 295.48 L 825.31 406.24 L 825.36 273.9 L 825.41 361.73 L 825.46 282.66 L 825.6 386.02 L 825.65 286.13 L 825.7 392.28 L 825.79 347.39 L 825.84 419.71 L 825.94 276.37 L 825.99 307.23 L 826.04 344.39 L 826.09 254.05 L 826.13 312.1 L 826.23 306.83 L 826.38 399.87 L 826.52 274.17 L 826.67 342.48 L 826.72 285.34 L 826.76 316.19 L 826.81 324.32 L 826.86 300.66 L 826.91 351.61 L 826.96 247.88 L 827.01 370.79 L 827.15 262.19 L 827.25 387.43 L 827.3 342.18 L 827.34 277.73 L 827.39 333.39 L 827.44 313.05 L 827.54 315.36 L 827.59 332.68 L 827.64 287.81 L 827.68 349.58 L 827.73 234.3 L 827.78 363.75 L 827.88 309.66 L 827.93 327.34 L 827.97 347.25 L 828.02 255.34 L 828.07 365.32 L 828.17 266.48 L 828.27 284.92 L 828.36 269.76 L 828.46 374.87 L 828.51 317.5 L 828.6 259.28 L 828.65 406.4 L 828.7 286.99 L 828.8 233.94 L 828.85 236.07 L 828.94 359.92 L 828.99 314.22 L 829.04 301.79 L 829.14 334.6 L 829.19 292.7 L 829.23 318.8 L 829.28 307.13 L 829.33 256.02 L 829.38 291.78 L 829.43 357.72 L 829.48 229.31 L 829.52 303.92 L 829.57 268.4 L 829.67 369.04 L 829.72 272.24 L 829.77 347.98 L 829.91 288.09 L 829.96 298.54 L 830.06 354.81 L 830.11 352.08 L 830.15 214.97 L 830.2 284.04 L 830.25 343.32 L 830.3 312.49 L 830.35 323.53 L 830.4 319.01 L 830.45 300.46 L 830.54 374.95 L 830.64 239.44 L 830.69 276.52 L 830.74 281.08 L 830.88 313.25 L 830.93 283.37 L 830.98 296.95 L 831.07 330.06 L 831.12 324.89 L 831.17 318.49 L 831.22 295.07 L 831.27 352.19 L 831.37 262.45 L 831.41 307.27 L 831.46 240.27 L 831.56 414.74 L 831.61 344.13 L 831.66 320.21 L 831.7 385.97 L 831.75 266.63 L 831.8 365.11 L 831.85 422.91 L 831.9 251.22 L 831.95 361.76 L 832.04 298.26 L 832.19 411.69 L 832.29 311.89 L 832.33 342.92 L 832.38 313.61 L 832.48 386.62 L 832.58 295.91 L 832.62 312.99 L 832.72 357.76 L 832.77 313.32 L 832.82 316.51 L 832.92 385.44 L 833.06 262.76 L 833.25 412.71 L 833.3 325.95 L 833.4 351.4 L 833.45 371.12 L 833.5 279.17 L 833.55 401.86 L 833.64 366.42 L 833.69 356.71 L 833.74 299.02 L 833.79 314.38 L 833.84 349.73 L 833.88 288.23 L 833.93 330.02 L 833.98 310.7 L 834.03 316.02 L 834.08 340.71 L 834.13 317.73 L 834.17 324.57 L 834.22 314.37 L 834.27 348.21 L 834.32 277.04 L 834.37 290.69 L 834.42 334.05 L 834.47 280.64 L 834.51 333.88 L 834.56 351.64 L 834.61 313.33 L 834.66 325.52 L 834.71 348.56 L 834.76 314.15 L 834.8 321.75 L 834.85 363.23 L 834.9 341.88 L 834.95 245.1 L 835 324.8 L 835.05 440.91 L 835.1 370.17 L 835.14 274.71 L 835.19 336.38 L 835.24 353.9 L 835.29 346.08 L 835.34 286.29 L 835.39 344.45 L 835.43 383.52 L 835.48 278.42 L 835.53 332.54 L 835.58 410.15 L 835.63 297.92 L 835.68 326.59 L 835.77 375.07 L 835.87 291.34 L 835.92 341.61 L 835.97 300.68 L 836.02 270.49 L 836.06 277.02 L 836.16 368.07 L 836.26 342.95 L 836.35 270.38 L 836.4 321.56 L 836.45 268.99 L 836.5 237.02 L 836.65 327.27 L 836.69 275.79 L 836.74 338.82 L 836.79 377.73 L 836.84 256.87 L 836.94 264.7 L 837.03 301.6 L 837.08 253.14 L 837.13 326.29 L 837.18 262.51 L 837.23 243.45 L 837.28 355.87 L 837.32 217.14 L 837.47 372 L 837.52 355.77 L 837.57 297.15 L 837.61 393.56 L 837.66 349.08 L 837.71 333.42 L 837.76 420.89 L 837.81 321.66 L 837.9 394.19 L 837.95 343.56 L 838 337.2 L 838.05 392.21 L 838.15 163.88 L 838.2 339.64 L 838.24 318 L 838.29 206.65 L 838.34 372.19 L 838.44 334.34 L 838.53 400.88 L 838.58 282.06 L 838.68 316.4 L 838.73 316.35 L 838.87 390.49 L 838.92 235.29 L 838.97 348.62 L 839.16 245.92 L 839.21 370.91 L 839.31 367.85 L 839.36 251.54 L 839.41 363.43 L 839.5 258.13 L 839.55 350.17 L 839.65 326.25 L 839.7 394.67 L 839.75 290.38 L 839.79 310.48 L 839.84 367 L 839.94 358.56 L 839.99 280.28 L 840.04 290.72 L 840.08 353.18 L 840.13 243.46 L 840.23 275.12 L 840.42 347.17 L 840.47 341.34 L 840.57 269.92 L 840.62 297.45 L 840.67 306.88 L 840.71 269.36 L 840.76 312.54 L 840.86 259.52 L 840.96 346.22 L 841.01 281.57 L 841.05 336.21 L 841.1 371.67 L 841.2 254.62 L 841.25 363.1 L 841.3 356.65 L 841.34 304.52 L 841.39 305.09 L 841.54 357.85 L 841.59 240.99 L 841.63 304.7 L 841.68 367.54 L 841.73 242.11 L 841.78 269.31 L 841.83 313.42 L 841.88 289.34 L 841.93 277.85 L 841.97 334.35 L 842.02 315.79 L 842.07 280.66 L 842.22 359.16 L 842.26 312.41 L 842.36 316.69 L 842.41 317.28 L 842.46 283.31 L 842.51 414.97 L 842.56 263.86 L 842.6 250.38 L 842.7 404.57 L 842.75 300.86 L 842.8 311.27 L 842.85 419.27 L 842.89 359.6 L 843.04 283.18 L 843.09 330.19 L 843.14 253.11 L 843.18 301.73 L 843.28 293.11 L 843.33 365.18 L 843.38 363.26 L 843.43 262.19 L 843.48 295.7 L 843.57 334.81 L 843.62 264 L 843.67 355.06 L 843.81 219.02 L 843.86 334 L 843.91 234.45 L 843.96 254.01 L 844.01 350.34 L 844.06 331.73 L 844.11 314.35 L 844.15 329.76 L 844.2 327.86 L 844.25 297.04 L 844.3 401.04 L 844.35 385.31 L 844.44 242.62 L 844.49 364.89 L 844.59 329.77 L 844.64 365.1 L 844.73 230.41 L 844.78 336.06 L 844.88 328.35 L 844.93 306.99 L 844.98 399.23 L 845.03 253.05 L 845.07 307.34 L 845.12 300.78 L 845.17 312.46 L 845.22 241.96 L 845.32 364.91 L 845.36 360.56 L 845.51 254.41 L 845.56 264.47 L 845.61 409.05 L 845.66 262.02 L 845.7 269.17 L 845.85 369.38 L 845.9 295.32 L 845.95 316.21 L 845.99 379.36 L 846.04 299.97 L 846.09 275.58 L 846.14 372.87 L 846.24 367.02 L 846.28 299.6 L 846.33 337.8 L 846.58 270.12 L 846.62 325.95 L 846.72 324.65 L 846.77 322.61 L 846.82 314.96 L 846.87 376.19 L 846.91 371.6 L 846.96 307.8 L 847.01 415.14 L 847.06 359.52 L 847.21 291.7 L 847.35 353.7 L 847.4 294.42 L 847.45 298.99 L 847.54 379.26 L 847.59 366.81 L 847.69 306.25 L 847.74 324.34 L 847.93 396.76 L 847.98 278.73 L 848.08 283.79 L 848.13 360.06 L 848.17 251.32 L 848.22 312.21 L 848.27 294.41 L 848.32 354.23 L 848.37 351.86 L 848.42 303.53 L 848.46 312.95 L 848.51 331.44 L 848.56 289.36 L 848.61 376.85 L 848.66 335.83 L 848.8 272.76 L 848.85 332.58 L 848.9 290.79 L 848.95 283.34 L 849 347.78 L 849.05 311.84 L 849.14 279.21 L 849.19 282.18 L 849.24 419.78 L 849.29 305.72 L 849.34 283.82 L 849.39 380.79 L 849.43 309.57 L 849.53 274.13 L 849.58 322.15 L 849.63 316.93 L 849.68 287.5 L 849.72 327.92 L 849.77 279.02 L 849.92 336.78 L 850.06 270.96 L 850.16 368.17 L 850.21 350.52 L 850.26 262.45 L 850.31 293.38 L 850.35 290.28 L 850.4 335.51 L 850.45 283.88 L 850.5 301.09 L 850.55 376.93 L 850.6 333.01 L 850.69 296.67 L 850.79 381.9 L 850.89 262.82 L 850.98 430.37 L 851.03 262.94 L 851.08 349.81 L 851.18 288.69 L 851.23 296.72 L 851.27 327.23 L 851.32 310.67 L 851.37 312.07 L 851.42 391.52 L 851.47 342.81 L 851.52 251.18 L 851.56 304.76 L 851.61 343.78 L 851.66 334.25 L 851.71 284.76 L 851.76 297.47 L 851.86 291.99 L 851.9 325.12 L 851.95 276.19 L 852 282.11 L 852.05 323.21 L 852.1 256.9 L 852.15 354.38 L 852.19 279.54 L 852.24 254.94 L 852.39 377.2 L 852.49 336.31 L 852.58 343.05 L 852.63 256.71 L 852.68 351.06 L 852.78 278.88 L 852.87 338.87 L 852.97 265.83 L 853.07 352.14 L 853.12 237.02 L 853.21 247.18 L 853.36 356.61 L 853.41 355.64 L 853.5 360.12 L 853.6 241.06 L 853.7 319.16 L 853.74 293.96 L 853.79 357.23 L 853.84 345.29 L 853.94 362.96 L 853.99 256 L 854.08 386.99 L 854.13 250.89 L 854.18 301.26 L 854.23 373.32 L 854.28 344.44 L 854.33 342.61 L 854.42 250.6 L 854.57 335.39 L 854.62 323.56 L 854.67 329.79 L 854.71 430.98 L 854.76 278.79 L 854.81 343.67 L 854.86 328.21 L 854.96 403.11 L 855 268.52 L 855.05 327 L 855.1 394.98 L 855.15 295.9 L 855.25 313.71 L 855.34 344.9 L 855.39 329.77 L 855.44 199.79 L 855.49 343.64 L 855.54 351.42 L 855.73 145.09 L 855.88 351.38 L 855.97 273.46 L 856.02 326.01 L 856.07 284.79 L 856.17 320.32 L 856.22 264.95 L 856.26 275.28 L 856.31 357.22 L 856.36 277.93 L 856.51 384.46 L 856.6 348.07 L 856.7 278.2 L 856.75 379.79 L 856.8 280.47 L 856.84 288.68 L 856.89 319.83 L 856.94 205.69 L 856.99 370.4 L 857.09 332.83 L 857.14 300.31 L 857.18 392.57 L 857.23 186.34 L 857.28 304.25 L 857.33 384.76 L 857.38 331.27 L 857.43 272.14 L 857.47 378.23 L 857.52 367.58 L 857.62 262.06 L 857.67 267.51 L 857.72 355.87 L 857.77 260.75 L 858.01 354.21 L 858.15 288.87 L 858.2 294.07 L 858.25 318.92 L 858.3 310.34 L 858.35 260.66 L 858.4 298.83 L 858.44 324.94 L 858.49 288.43 L 858.54 347.58 L 858.59 292.19 L 858.69 251.84 L 858.73 316.57 L 858.78 299.93 L 858.83 282.88 L 858.88 418.26 L 858.93 398.99 L 859.12 240.97 L 859.27 334.88 L 859.32 307.18 L 859.36 356.42 L 859.41 320.71 L 859.46 299.56 L 859.51 357.34 L 859.56 326.28 L 859.61 338.7 L 859.75 282.86 L 859.8 288.69 L 859.85 346.12 L 859.9 307.21 L 860.04 295.28 L 860.19 392.62 L 860.24 291.19 L 860.33 310.52 L 860.38 273.95 L 860.43 332.99 L 860.48 318.58 L 860.53 266.06 L 860.57 268.48 L 860.67 324.33 L 860.72 262.54 L 860.77 282.62 L 860.87 413.1 L 860.96 236.14 L 861.01 282.51 L 861.06 425.97 L 861.11 350.51 L 861.16 328.4 L 861.2 374.35 L 861.25 251 L 861.3 307.52 L 861.35 311.2 L 861.4 280.69 L 861.45 304.15 L 861.5 361.06 L 861.54 331.31 L 861.64 301.8 L 861.69 344.21 L 861.79 224.29 L 861.83 311.73 L 861.93 309.5 L 861.98 289.32 L 862.03 301.22 L 862.08 341.84 L 862.12 226.49 L 862.17 299.11 L 862.22 293.82 L 862.32 396.22 L 862.37 233.75 L 862.42 349.7 L 862.51 293.78 L 862.56 365.81 L 862.66 348.66 L 862.8 271.78 L 862.9 452.07 L 863 280.12 L 863.05 330.94 L 863.09 339.57 L 863.24 290.21 L 863.29 366.95 L 863.34 283.23 L 863.38 303.73 L 863.43 380.9 L 863.48 283.78 L 863.53 271.52 L 863.67 379.07 L 863.77 307.5 L 863.82 315.56 L 863.87 320.41 L 863.92 375.67 L 863.97 339.89 L 864.06 363.01 L 864.11 343.75 L 864.16 217.99 L 864.21 398.6 L 864.26 311.81 L 864.3 313.51 L 864.35 373.6 L 864.4 251.94 L 864.45 332.84 L 864.5 345.46 L 864.55 335.32 L 864.6 310.91 L 864.64 322.41 L 864.69 384.82 L 864.84 261.45 L 864.89 265.67 L 864.98 361.08 L 865.03 274.62 L 865.08 338.67 L 865.18 352.5 L 865.23 341.13 L 865.27 376.96 L 865.32 355.14 L 865.42 263.39 L 865.47 356.97 L 865.52 286.25 L 865.61 327 L 865.71 252.85 L 865.81 376.15 L 865.85 363.02 L 865.9 261.17 L 865.95 318.06 L 866.05 236.35 L 866.1 273.81 L 866.15 304.62 L 866.19 264.27 L 866.24 275.2 L 866.34 372.91 L 866.39 246.43 L 866.44 360.84 L 866.63 265.87 L 866.68 343.1 L 866.73 320.76 L 866.78 315.17 L 866.82 390.7 L 866.92 368.56 L 867.02 310.36 L 867.11 330.32 L 867.16 361.12 L 867.26 354.83 L 867.36 278.24 L 867.4 363.23 L 867.45 347.42 L 867.55 352.01 L 867.65 256.2 L 867.74 429.75 L 867.79 237.97 L 867.84 258.45 L 867.89 369.84 L 867.94 306.13 L 867.99 303.88 L 868.28 406.31 L 868.42 279.37 L 868.47 339.57 L 868.52 302.82 L 868.57 229.75 L 868.62 371.67 L 868.66 295.44 L 868.71 322.96 L 868.81 316.76 L 868.95 285.11 L 869 371.17 L 869.05 267.33 L 869.15 368.08 L 869.2 306.95 L 869.25 271.56 L 869.29 297.73 L 869.34 303.17 L 869.44 277.57 L 869.58 342.57 L 869.68 344.35 L 869.73 258.76 L 869.92 386.45 L 869.97 367.71 L 870.02 260.49 L 870.07 348.37 L 870.12 306.18 L 870.17 333.1 L 870.26 398.44 L 870.36 294.39 L 870.46 401.22 L 870.51 222.97 L 870.55 343.19 L 870.6 363.68 L 870.65 338.41 L 870.8 237.55 L 870.89 359.1 L 870.94 306.59 L 870.99 264.51 L 871.13 373.17 L 871.28 256.37 L 871.33 335.8 L 871.38 304.71 L 871.43 244.54 L 871.47 270.76 L 871.57 342.8 L 871.62 324.06 L 871.67 322.58 L 871.72 337.99 L 871.86 242.84 L 871.91 342 L 871.96 273.66 L 872.1 316.02 L 872.15 261.68 L 872.2 380.31 L 872.25 372.53 L 872.39 268.73 L 872.44 358.56 L 872.49 240.62 L 872.54 285.26 L 872.64 382.22 L 872.78 280.79 L 872.83 363.32 L 872.88 293.17 L 872.93 271.68 L 873.02 362.86 L 873.07 264.22 L 873.17 282.13 L 873.22 235.03 L 873.27 306.93 L 873.36 293.54 L 873.41 308.6 L 873.51 239.63 L 873.65 323.05 L 873.75 289.06 L 873.8 302.94 L 873.85 302.42 L 873.9 349.55 L 874.04 260.17 L 874.09 339.67 L 874.14 336.04 L 874.19 293.44 L 874.23 310.21 L 874.28 307.82 L 874.33 308.98 L 874.38 357.91 L 874.48 351.39 L 874.62 279.98 L 874.67 356.12 L 874.72 278.08 L 874.86 352.64 L 874.91 335.28 L 874.96 410.98 L 875.06 284.53 L 875.11 326 L 875.16 398.38 L 875.2 346.68 L 875.25 262.9 L 875.3 283.15 L 875.4 382.74 L 875.45 264.59 L 875.49 285.78 L 875.54 371.78 L 875.59 305.76 L 875.69 275.57 L 875.74 320.56 L 875.79 316.29 L 875.83 250.34 L 875.88 277.83 L 875.93 381.38 L 875.98 325.32 L 876.03 290.9 L 876.12 354.75 L 876.17 337.42 L 876.22 335.15 L 876.27 326.36 L 876.32 342.16 L 876.37 404.54 L 876.41 259.13 L 876.46 314.41 L 876.51 306.95 L 876.61 409.23 L 876.8 265.8 L 876.85 323.91 L 876.9 245.61 L 876.95 346.91 L 877 294.63 L 877.04 418.33 L 877.09 247.33 L 877.14 312.88 L 877.19 351.9 L 877.24 326.41 L 877.29 317.58 L 877.34 219.99 L 877.38 308.46 L 877.43 332.59 L 877.48 264.73 L 877.53 329.43 L 877.58 326.44 L 877.63 280.33 L 877.67 327.31 L 877.77 290.19 L 877.82 348.99 L 877.87 288.48 L 878.11 363.16 L 878.16 341.93 L 878.26 286.09 L 878.3 353.06 L 878.35 295.83 L 878.45 351.03 L 878.55 351.56 L 878.59 226.99 L 878.74 373.38 L 878.89 249.9 L 879.03 386.13 L 879.13 299.03 L 879.18 313.21 L 879.22 320.65 L 879.27 287.61 L 879.32 400.54 L 879.37 355.24 L 879.42 233.14 L 879.47 251.66 L 879.56 386.65 L 879.66 384.63 L 879.71 286.45 L 879.76 311.4 L 879.81 355.95 L 879.85 246.77 L 879.9 299.08 L 879.95 292.66 L 880.05 360.43 L 880.1 355.23 L 880.24 264.61 L 880.29 275.41 L 880.39 388.28 L 880.44 303.82 L 880.48 333.93 L 880.53 334.96 L 880.68 265.62 L 880.73 310.95 L 880.77 284.72 L 880.82 242.28 L 880.87 248.51 L 881.02 370.38 L 881.06 325.24 L 881.11 404.31 L 881.16 398.76 L 881.31 271.27 L 881.36 327.54 L 881.4 315.25 L 881.5 241.42 L 881.6 380.65 L 881.65 333.91 L 881.69 410.52 L 881.74 323.71 L 881.79 307.85 L 881.89 341.19 L 881.94 340.02 L 882.03 299.67 L 882.08 336.13 L 882.13 322.08 L 882.23 276.32 L 882.28 330.65 L 882.32 318.29 L 882.37 219.44 L 882.42 342.76 L 882.47 354.49 L 882.57 254.15 L 882.62 333.08 L 882.71 316.42 L 882.76 296.01 L 882.81 402.93 L 882.86 288.68 L 882.91 241.77 L 882.95 284.33 L 883 335.14 L 883.05 268.08 L 883.1 341.98 L 883.15 332.9 L 883.24 292.93 L 883.29 318.73 L 883.34 251.23 L 883.39 299.42 L 883.44 434.79 L 883.49 246.65 L 883.54 283.58 L 883.63 381.57 L 883.78 253.7 L 883.92 358.63 L 884.02 265.53 L 884.07 319.96 L 884.12 292.93 L 884.17 236.16 L 884.21 348.95 L 884.26 318.92 L 884.31 219.21 L 884.36 296.52 L 884.41 302.33 L 884.55 382.17 L 884.6 360.88 L 884.7 280.97 L 884.75 346.75 L 884.79 305.63 L 884.84 309.18 L 884.89 355.15 L 884.94 332.55 L 884.99 279.34 L 885.04 319.86 L 885.09 350.34 L 885.13 289.87 L 885.18 329.75 L 885.23 337.85 L 885.33 302.88 L 885.38 362.51 L 885.42 259.5 L 885.47 318.58 L 885.52 346.78 L 885.62 230.92 L 885.67 338.06 L 885.72 292.05 L 885.76 296.12 L 885.81 350.36 L 885.86 334.98 L 885.91 318.99 L 885.96 173.45 L 886.01 340.82 L 886.1 273.44 L 886.15 386.52 L 886.2 327.82 L 886.25 241.02 L 886.3 337.46 L 886.49 270.91 L 886.54 292.87 L 886.59 276.49 L 886.64 266.14 L 886.88 377.23 L 886.93 299.07 L 887.02 300.11 L 887.07 300.72 L 887.12 218.26 L 887.17 323.48 L 887.22 346.32 L 887.27 298.53 L 887.36 307.93 L 887.41 345.34 L 887.46 256.66 L 887.51 298.01 L 887.6 305.02 L 887.7 366.08 L 887.75 355.37 L 887.85 271.43 L 887.9 273.84 L 887.94 379.06 L 887.99 266.66 L 888.04 231.53 L 888.09 331.41 L 888.14 298.75 L 888.23 288.7 L 888.28 350.23 L 888.33 325.01 L 888.38 304.92 L 888.48 344.43 L 888.57 271.86 L 888.67 342.66 L 888.72 321.4 L 888.77 298.34 L 888.86 374.42 L 888.91 287.58 L 888.96 307.48 L 889.01 313.56 L 889.06 305.45 L 889.11 326.54 L 889.15 252.23 L 889.2 301.97 L 889.25 374.65 L 889.3 283.83 L 889.35 365.59 L 889.45 314.99 L 889.49 383.21 L 889.54 363.88 L 889.69 255.1 L 889.74 396.89 L 889.78 282.43 L 889.98 360.66 L 890.03 365.55 L 890.07 271.55 L 890.12 390.52 L 890.17 382.01 L 890.27 262.68 L 890.37 382.75 L 890.41 254.64 L 890.51 287.36 L 890.56 261.19 L 890.66 449.05 L 890.7 351.08 L 890.75 341.16 L 890.8 253.83 L 890.85 335.24 L 890.95 237.71 L 891 387.5 L 891.09 350.41 L 891.14 343.54 L 891.19 299.41 L 891.24 359.6 L 891.29 301.13 L 891.33 293.1 L 891.53 376.91 L 891.62 257.75 L 891.67 274.55 L 891.77 344.79 L 891.82 312.7 L 891.87 359.42 L 891.96 346.18 L 892.01 314.52 L 892.06 368.1 L 892.11 285.5 L 892.16 327.37 L 892.21 359.35 L 892.25 273.54 L 892.3 325.34 L 892.4 346.57 L 892.45 294.23 L 892.5 367.62 L 892.55 281.92 L 892.59 267.52 L 892.64 282.28 L 892.74 361.37 L 892.79 292.42 L 892.84 326.46 L 892.88 365.51 L 892.93 263.94 L 892.98 340.84 L 893.13 238.74 L 893.22 383.03 L 893.27 342.74 L 893.32 344.17 L 893.37 402.4 L 893.47 217.16 L 893.51 278.49 L 893.66 370.45 L 893.71 265 L 893.76 349.63 L 893.8 348.56 L 893.95 289.02 L 894 284.55 L 894.05 265.97 L 894.19 383.52 L 894.29 231.5 L 894.34 274.44 L 894.39 307.66 L 894.43 279.82 L 894.48 267.19 L 894.53 352.35 L 894.58 270.13 L 894.77 342.96 L 894.87 210.7 L 895.02 382.26 L 895.11 383 L 895.16 283.5 L 895.26 341.95 L 895.31 323.84 L 895.35 273.53 L 895.4 296.17 L 895.55 407.19 L 895.6 334.08 L 895.69 351.61 L 895.74 289.96 L 895.79 340.63 L 895.84 353.75 L 895.89 319.62 L 895.98 325.23 L 896.03 380.09 L 896.08 268.53 L 896.13 292.03 L 896.23 333.48 L 896.28 379.66 L 896.32 248.32 L 896.37 303.48 L 896.42 412.65 L 896.47 301.53 L 896.52 371.96 L 896.57 305.2 L 896.71 366.96 L 896.81 285.71 L 896.86 337.79 L 897 263.61 L 897.15 396.36 L 897.34 274.88 L 897.39 274.75 L 897.44 342.89 L 897.49 299.94 L 897.53 299.77 L 897.58 254.52 L 897.68 360.8 L 897.73 330.68 L 897.78 353.28 L 897.92 215.52 L 898.07 402.99 L 898.12 285.61 L 898.16 328.25 L 898.26 388.25 L 898.31 300.42 L 898.36 396.47 L 898.41 318.23 L 898.45 302.76 L 898.5 348.55 L 898.55 245.14 L 898.6 305.07 L 898.65 375.92 L 898.75 218.27 L 898.79 382.68 L 898.84 317.16 L 898.99 273.17 L 899.04 305.21 L 899.08 302.06 L 899.13 281.69 L 899.28 417.48 L 899.47 289.07 L 899.67 411.24 L 899.81 333.3 L 899.86 430.37 L 899.91 315.84 L 899.96 303.87 L 900.01 379.82 L 900.05 283.09 L 900.1 249.35 L 900.15 324.14 L 900.25 316.13 L 900.3 323.4 L 900.34 320.05 L 900.39 292.04 L 900.44 367.29 L 900.49 302.29 L 900.54 341.42 L 900.59 270.37 L 900.63 343.09 L 900.68 322.4 L 900.73 359.64 L 900.83 264.36 L 900.88 424.9 L 900.93 301.51 L 901.12 352.47 L 901.17 267.24 L 901.22 314.27 L 901.36 378.23 L 901.41 277.04 L 901.46 295.48 L 901.51 399.56 L 901.56 356.21 L 901.65 310.51 L 901.7 324.3 L 901.75 353.46 L 901.8 312.71 L 901.85 318.57 L 901.89 348.92 L 901.94 295.51 L 901.99 358.3 L 902.04 385.12 L 902.09 358.78 L 902.14 246.47 L 902.18 345.21 L 902.23 327.72 L 902.28 360.37 L 902.33 307.17 L 902.38 373.75 L 902.43 375.96 L 902.48 355.09 L 902.52 404.15 L 902.57 380.25 L 902.62 275.14 L 902.72 297.83 L 902.86 384.73 L 902.91 309.2 L 902.96 311.65 L 903.01 365.48 L 903.11 350.59 L 903.15 263.03 L 903.2 356.93 L 903.25 367.28 L 903.3 268.57 L 903.35 289.13 L 903.4 362.76 L 903.44 286.19 L 903.49 293.96 L 903.54 277.69 L 903.59 346.07 L 903.69 333.95 L 903.73 245.89 L 903.78 380.62 L 903.83 362.35 L 904.03 275.24 L 904.07 314.81 L 904.12 304.96 L 904.17 242.46 L 904.22 367.87 L 904.27 230.01 L 904.32 367.62 L 904.46 270.81 L 904.51 313.67 L 904.56 147.61 L 904.61 271.07 L 904.66 291.54 L 904.7 274.86 L 904.75 235.81 L 904.8 270.91 L 904.85 283.58 L 904.9 258.04 L 904.99 354.03 L 905.04 313.07 L 905.09 326.64 L 905.14 402.1 L 905.19 318.48 L 905.29 274.16 L 905.33 276.86 L 905.48 351.74 L 905.53 310.52 L 905.58 416.25 L 905.62 279.71 L 905.67 334.52 L 905.72 304.79 L 905.77 299.98 L 905.87 302.82 L 905.91 233.14 L 905.96 359.71 L 906.06 327.32 L 906.16 327.8 L 906.21 313.21 L 906.25 357.56 L 906.3 205.86 L 906.35 278.53 L 906.4 428.46 L 906.45 324.26 L 906.5 312.97 L 906.54 359.96 L 906.59 289.09 L 906.64 390.73 L 906.69 275.36 L 906.79 328.19 L 906.84 264.49 L 906.88 366.31 L 906.93 272.51 L 906.98 323.92 L 907.03 278.59 L 907.17 304.94 L 907.22 265.62 L 907.27 355.1 L 907.32 326.21 L 907.37 278.92 L 907.42 294.98 L 907.61 383.83 L 907.71 276.33 L 907.76 318.21 L 907.95 282.53 L 908 373.59 L 908.05 353.51 L 908.14 368.18 L 908.19 277.47 L 908.24 357.73 L 908.29 289.33 L 908.34 284.52 L 908.48 403.79 L 908.53 272.57 L 908.58 343.93 L 908.63 375.03 L 908.68 262.31 L 908.77 281.52 L 908.97 419.28 L 909.06 283.23 L 909.11 394.13 L 909.16 312.16 L 909.21 315.06 L 909.31 392.57 L 909.45 268.63 L 909.5 326.84 L 909.55 317.68 L 909.74 243.23 L 909.94 332.5 L 910.03 274.82 L 910.08 411.7 L 910.13 253.16 L 910.27 401.42 L 910.37 283.62 L 910.42 315.66 L 910.47 346.9 L 910.52 317.17 L 910.57 337.28 L 910.61 327.17 L 910.76 259.34 L 910.9 348.96 L 911 299.07 L 911.1 438.54 L 911.19 269.38 L 911.24 293.63 L 911.29 266.78 L 911.34 356.19 L 911.39 283.11 L 911.44 312.2 L 911.49 409.04 L 911.53 376.8 L 911.58 302.24 L 911.68 319.67 L 911.73 404.08 L 911.78 267.12 L 911.87 277.74 L 911.92 340.4 L 911.97 317.57 L 912.02 314.07 L 912.07 283.5 L 912.12 301.31 L 912.16 354.69 L 912.31 240.57 L 912.5 368.76 L 912.65 255.94 L 912.74 309.48 L 912.79 265.5 L 912.84 319.55 L 912.89 393.53 L 912.99 254.83 L 913.13 362.45 L 913.18 239.23 L 913.28 261.43 L 913.33 379.84 L 913.37 358.73 L 913.52 271.81 L 913.57 294.62 L 913.67 383.13 L 913.76 272.73 L 913.86 361.04 L 913.91 306.68 L 913.96 395.92 L 914 377.49 L 914.05 361.33 L 914.1 394.22 L 914.15 364.58 L 914.25 284.05 L 914.29 307.65 L 914.39 305.52 L 914.44 357.47 L 914.59 265.79 L 914.68 352.37 L 914.83 278.98 L 914.92 368.54 L 914.97 335.06 L 915.02 314.92 L 915.07 316.7 L 915.12 398.31 L 915.17 263.55 L 915.22 333.01 L 915.26 339.24 L 915.31 364.54 L 915.36 351.19 L 915.46 218.89 L 915.6 349.43 L 915.75 243.47 L 915.85 404.44 L 915.94 274.54 L 915.99 316.62 L 916.04 356.43 L 916.09 317.47 L 916.14 289.53 L 916.18 362.5 L 916.23 297.09 L 916.28 300.48 L 916.33 245.37 L 916.38 301.25 L 916.43 256.72 L 916.47 361.16 L 916.52 303.77 L 916.72 230.91 L 916.86 351 L 917.01 275.19 L 917.15 362.7 L 917.2 342.14 L 917.25 284.68 L 917.3 306.01 L 917.35 313.36 L 917.4 379.81 L 917.54 245.28 L 917.59 229.6 L 917.64 355.01 L 917.69 322.12 L 917.73 300.14 L 917.78 383.55 L 917.83 275.02 L 917.88 408.66 L 918.02 284.68 L 918.07 357.43 L 918.12 330.33 L 918.17 223.95 L 918.22 322.72 L 918.27 292.4 L 918.32 371.12 L 918.36 337.17 L 918.41 341.2 L 918.46 336.5 L 918.51 296.83 L 918.56 313.81 L 918.61 311.5 L 918.65 269.04 L 918.7 292.23 L 918.75 306.12 L 918.8 305.21 L 918.85 263.44 L 918.95 349.68 L 919.04 271.77 L 919.09 285.9 L 919.14 295.88 L 919.19 291.87 L 919.24 255.91 L 919.28 360.97 L 919.33 347.96 L 919.48 265.85 L 919.62 319.42 L 919.72 279.36 L 919.77 282.77 L 919.87 257.2 L 920.01 403.29 L 920.16 259.69 L 920.3 329.55 L 920.35 255.36 L 920.4 343.12 L 920.54 368.9 L 920.64 244.97 L 920.69 275.1 L 920.79 352.81 L 920.88 287.61 L 920.93 403.14 L 920.98 273.94 L 921.12 364.21 L 921.17 261.59 L 921.22 270.3 L 921.32 333.78 L 921.37 241.1 L 921.51 380.55 L 921.56 274.1 L 921.61 392.45 L 921.66 296.95 L 921.71 271.47 L 921.75 407.25 L 921.8 305.02 L 921.9 289.32 L 922.05 354.05 L 922.09 241.75 L 922.14 305.43 L 922.24 331.04 L 922.38 257.37 L 922.43 341.4 L 922.48 330.16 L 922.63 277.09 L 922.72 344.65 L 922.77 381.75 L 922.92 275.57 L 922.97 342.06 L 923.01 282.29 L 923.11 328.63 L 923.16 297.8 L 923.21 385.64 L 923.26 227.84 L 923.3 362.01 L 923.35 358.8 L 923.4 428.46 L 923.5 271.7 L 923.55 332.76 L 923.6 338.74 L 923.64 261.53 L 923.69 313.88 L 923.84 206.05 L 924.03 352.88 L 924.18 236.03 L 924.32 340.46 L 924.37 305.79 L 924.42 268.46 L 924.56 351 L 924.61 348.42 L 924.76 311.27 L 924.81 299.1 L 924.9 372.8 L 925 292.53 L 925.15 389.09 L 925.19 303.65 L 925.29 324.26 L 925.34 322.85 L 925.39 256.64 L 925.44 347.93 L 925.48 281.93 L 925.63 323.49 L 925.68 267.89 L 925.73 378.39 L 925.78 290.71 L 925.87 310.39 L 925.92 264.59 L 925.97 336.47 L 926.02 267.33 L 926.11 356.69 L 926.16 301.53 L 926.26 251.32 L 926.31 257.89 L 926.5 388.96 L 926.55 249.92 L 926.65 275.67 L 926.79 374.27 L 926.84 262.74 L 926.94 293.24 L 927.03 286.28 L 927.08 386.95 L 927.13 371.08 L 927.18 277.39 L 927.23 294.45 L 927.28 386.42 L 927.37 363.96 L 927.52 254.71 L 927.62 350.11 L 927.76 285.89 L 927.81 368.87 L 927.86 315.92 L 927.91 262.82 L 928 381.7 L 928.05 275 L 928.15 275.42 L 928.2 359.2 L 928.25 346.08 L 928.29 277.35 L 928.34 333.11 L 928.44 394.91 L 928.49 337.63 L 928.58 344.97 L 928.68 282.75 L 928.73 283.24 L 928.78 359.16 L 928.88 337.03 L 928.92 343.76 L 928.97 394.55 L 929.02 332.78 L 929.07 253.17 L 929.12 369.42 L 929.17 361.73 L 929.21 314.8 L 929.26 318.69 L 929.31 388.37 L 929.41 270.41 L 929.55 362.44 L 929.6 290.06 L 929.65 416.99 L 929.7 338.43 L 929.8 364.96 L 929.94 248.25 L 930.04 410.21 L 930.13 359.8 L 930.23 272.29 L 930.28 301.1 L 930.33 307.59 L 930.38 298.87 L 930.43 308.38 L 930.47 301.02 L 930.52 300.01 L 930.67 358.84 L 930.81 292.4 L 930.86 292.09 L 930.91 245.98 L 931.01 338.36 L 931.1 276.65 L 931.15 352.41 L 931.2 290.54 L 931.25 271.64 L 931.39 411.78 L 931.44 282.99 L 931.49 315.23 L 931.54 363.79 L 931.68 252.22 L 931.83 397.23 L 931.88 304.17 L 931.93 312.89 L 931.98 339.54 L 932.07 275.17 L 932.12 373.81 L 932.17 303.85 L 932.22 341.42 L 932.36 256.61 L 932.41 369.4 L 932.46 255.61 L 932.51 253.52 L 932.65 380.29 L 932.7 292.88 L 932.75 320.72 L 932.8 338.81 L 932.9 276.73 L 932.94 325.05 L 933.04 318.88 L 933.09 263.01 L 933.24 405.2 L 933.38 252.72 L 933.53 354.53 L 933.62 228.6 L 933.67 345.26 L 933.77 324.85 L 933.82 342.38 L 933.86 280.18 L 933.91 298.21 L 933.96 308.55 L 934.01 275.92 L 934.06 280.6 L 934.16 262.21 L 934.2 382.85 L 934.25 273.35 L 934.35 283.58 L 934.4 355.6 L 934.45 285.31 L 934.54 261.13 L 934.59 342.78 L 934.69 337.09 L 934.74 304.29 L 934.79 309.01 L 934.83 374.24 L 934.88 274.7 L 934.93 284.06 L 934.98 341.75 L 935.08 336.24 L 935.12 364.86 L 935.17 297.97 L 935.22 314.52 L 935.27 317.86 L 935.32 271.16 L 935.41 277.04 L 935.46 326.2 L 935.51 258.82 L 935.56 395.31 L 935.61 346.23 L 935.66 285 L 935.71 303.41 L 935.85 342.62 L 935.9 285.24 L 935.95 320.38 L 936 362.69 L 936.09 282 L 936.14 284.16 L 936.19 275.23 L 936.24 276.95 L 936.34 325.28 L 936.43 236.7 L 936.48 320.4 L 936.53 270.8 L 936.58 285.45 L 936.63 445.23 L 936.67 364.2 L 936.72 343 L 936.77 350.08 L 936.82 236.03 L 936.87 330.39 L 937.01 254.28 L 937.06 362.05 L 937.16 348.59 L 937.21 341.87 L 937.3 259.4 L 937.35 327.21 L 937.4 266.24 L 937.5 339.18 L 937.55 337.1 L 937.59 323.17 L 937.64 251.29 L 937.69 407.39 L 937.74 293.89 L 937.84 347.68 L 937.93 291 L 937.98 402.13 L 938.03 284.37 L 938.08 291.71 L 938.13 251.61 L 938.18 392.05 L 938.22 263.1 L 938.32 374.66 L 938.37 287.6 L 938.42 304.28 L 938.51 422.21 L 938.56 382.64 L 938.66 264.01 L 938.71 287.74 L 938.81 340.16 L 938.85 303.33 L 938.9 349.31 L 939 280.92 L 939.05 345.96 L 939.1 266.74 L 939.14 321.66 L 939.19 253.05 L 939.39 352.57 L 939.44 349.95 L 939.58 277.96 L 939.77 358.05 L 939.92 289.27 L 940.07 390.9 L 940.11 355.75 L 940.16 225.29 L 940.21 294.57 L 940.36 334.21 L 940.4 306.92 L 940.45 375.85 L 940.5 300.76 L 940.55 263.53 L 940.6 298.44 L 940.65 379.35 L 940.69 280.46 L 940.89 365.11 L 940.94 262.12 L 940.99 353.91 L 941.03 294.05 L 941.08 294.66 L 941.23 380.45 L 941.28 382.69 L 941.37 244.76 L 941.42 289.25 L 941.47 365.4 L 941.52 301.97 L 941.57 243.25 L 941.62 369.34 L 941.66 310.95 L 941.71 331.14 L 941.76 307.6 L 941.81 304.15 L 941.86 326.91 L 941.91 319.62 L 942.05 278.85 L 942.1 302.19 L 942.15 292.68 L 942.2 253.1 L 942.24 284.72 L 942.34 356.8 L 942.39 325.76 L 942.44 273.38 L 942.49 289.58 L 942.73 366.59 L 942.78 339.44 L 942.83 401.77 L 942.87 337.53 L 942.92 334.23 L 943.12 283.2 L 943.17 353.86 L 943.21 346.32 L 943.41 274.72 L 943.55 379.24 L 943.75 266 L 943.79 377.58 L 943.84 345.18 L 943.89 281.42 L 943.99 289.88 L 944.04 338.36 L 944.13 254.96 L 944.18 314.5 L 944.28 313.16 L 944.33 353.91 L 944.38 311.85 L 944.42 308.91 L 944.47 287.56 L 944.57 329.42 L 944.62 288.94 L 944.67 332.13 L 944.72 323.13 L 944.76 332.83 L 944.81 344.09 L 944.86 314.79 L 944.91 379.86 L 944.96 331.08 L 945.01 263.83 L 945.05 333.01 L 945.1 300.35 L 945.15 371.16 L 945.2 296.77 L 945.25 277.29 L 945.3 289.21 L 945.35 385.51 L 945.39 359.59 L 945.54 286.56 L 945.59 353.39 L 945.64 271.22 L 945.73 384.91 L 945.78 282.36 L 945.83 388.04 L 945.97 307.46 L 946.02 336.35 L 946.07 168.92 L 946.12 219.39 L 946.31 373.27 L 946.46 278.38 L 946.51 347.75 L 946.56 224.67 L 946.6 340.02 L 946.65 289.29 L 946.75 294.1 L 946.8 317.65 L 946.85 304.3 L 946.9 295.96 L 947.04 320.25 L 947.09 321.91 L 947.19 305.67 L 947.23 306.78 L 947.28 289.7 L 947.33 323.88 L 947.38 230.71 L 947.43 312.6 L 947.48 321.94 L 947.52 357.43 L 947.57 354.13 L 947.67 240.3 L 947.72 327.77 L 947.77 326.59 L 947.91 250.62 L 947.96 378.54 L 948.01 283.83 L 948.06 284.74 L 948.11 357.3 L 948.2 351.82 L 948.3 274.06 L 948.49 380.68 L 948.59 309.13 L 948.64 391.13 L 948.69 300.03 L 948.74 203.82 L 948.83 218.15 L 948.98 324.01 L 949.03 263.76 L 949.07 332.57 L 949.12 395.18 L 949.17 314.35 L 949.22 326.74 L 949.32 298.98 L 949.46 389.18 L 949.51 332.56 L 949.56 351.38 L 949.61 459.34 L 949.75 272.96 L 949.8 275.35 L 949.85 393.19 L 949.9 325.48 L 949.95 270.77 L 950 312.43 L 950.14 354.67 L 950.19 290.15 L 950.29 303.88 L 950.33 314.82 L 950.38 357.92 L 950.43 245.1 L 950.53 274.1 L 950.58 320.17 L 950.63 253.34 L 950.67 309.48 L 950.72 373.59 L 950.77 310.56 L 950.82 318.27 L 950.87 256.69 L 950.92 385.86 L 951.01 379.36 L 951.06 274.65 L 951.16 290.02 L 951.21 307.82 L 951.25 406.38 L 951.3 296.21 L 951.35 285.2 L 951.4 406.66 L 951.45 373.5 L 951.5 311.59 L 951.55 330.27 L 951.59 336.13 L 951.69 298.81 L 951.74 371.72 L 951.79 370.12 L 951.84 268.5 L 951.88 302.27 L 951.93 383.75 L 951.98 205.03 L 952.03 288.41 L 952.08 386.05 L 952.13 380.9 L 952.22 257.99 L 952.42 412.86 L 952.56 266.78 L 952.66 357.49 L 952.76 245.31 L 952.8 315.93 L 952.85 303.63 L 952.9 308.88 L 953 457.11 L 953.05 272.98 L 953.1 354 L 953.14 414.39 L 953.24 289.9 L 953.29 293.64 L 953.34 273.15 L 953.39 365.26 L 953.43 288.97 L 953.58 383.38 L 953.63 257.5 L 953.68 339.72 L 953.73 324.07 L 953.77 392.34 L 953.82 281.24 L 953.87 306.3 L 953.92 322.9 L 953.97 276.67 L 954.11 348.45 L 954.16 336.55 L 954.21 297.28 L 954.26 351.38 L 954.31 211.97 L 954.35 325.53 L 954.4 394.79 L 954.45 296.86 L 954.55 323.61 L 954.6 295.44 L 954.74 404.35 L 954.79 234.76 L 954.84 288.02 L 954.98 352.19 L 955.03 277.07 L 955.08 332.47 L 955.18 359.97 L 955.23 349.97 L 955.32 282.6 L 955.37 316.74 L 955.57 376.26 L 955.61 401.92 L 955.81 300.73 L 955.86 274.69 L 955.9 360.62 L 955.95 284.1 L 956 244.81 L 956.05 261.36 L 956.1 298.18 L 956.15 264.53 L 956.2 247.15 L 956.39 396.19 L 956.49 279.22 L 956.58 320.03 L 956.68 357.3 L 956.73 229.9 L 956.78 308.36 L 956.83 331.31 L 956.92 276.26 L 957.02 389.99 L 957.16 294.42 L 957.26 362.07 L 957.31 294.76 L 957.41 298.26 L 957.46 352.85 L 957.5 281.36 L 957.6 282.42 L 957.75 342.31 L 957.84 273.44 L 957.89 380.53 L 957.99 366.74 L 958.04 296.3 L 958.08 338.93 L 958.13 365.99 L 958.18 334.43 L 958.28 289.29 L 958.33 374.04 L 958.38 349.95 L 958.42 247.17 L 958.47 323.46 L 958.52 288.43 L 958.57 386.21 L 958.62 239.38 L 958.67 362.25 L 958.71 347.13 L 958.81 260.73 L 958.96 464.13 L 959.01 300.53 L 959.1 340.81 L 959.2 312.5 L 959.3 373.27 L 959.34 171.44 L 959.39 265.94 L 959.44 307.13 L 959.54 306.63 L 959.59 293.33 L 959.63 371.49 L 959.68 349.91 L 959.73 288.33 L 959.83 291.3 L 959.88 250.85 L 959.93 411.17 L 960.02 392.73 L 960.12 269 L 960.17 332.95 L 960.26 295.16 L 960.31 160.71 L 960.36 283.53 L 960.46 393.9 L 960.56 241.66 L 960.7 365.28 L 960.75 258.47 L 960.85 284.09 L 960.94 317.29 L 960.99 287.18 L 961.04 323.83 L 961.09 305.97 L 961.14 366.38 L 961.18 344.73 L 961.23 347.19 L 961.28 292.01 L 961.33 330.99 L 961.38 324.29 L 961.43 402.3 L 961.48 271.51 L 961.52 336.02 L 961.67 270.3 L 961.72 341.32 L 961.81 329.29 L 961.86 326.53 L 961.96 296.16 L 962.06 356.3 L 962.15 287.84 L 962.2 353.53 L 962.3 335.56 L 962.35 356.28 L 962.44 264.19 L 962.54 270.06 L 962.59 386.41 L 962.64 294.38 L 962.78 392.33 L 962.83 316.23 L 962.88 354.11 L 962.93 344.82 L 962.98 266.38 L 963.03 321.84 L 963.07 391.79 L 963.17 247.29 L 963.22 347.06 L 963.27 335.3 L 963.36 312.1 L 963.41 374.47 L 963.46 235.68 L 963.51 280.38 L 963.66 333.63 L 963.7 226.3 L 963.75 286.78 L 963.8 269.34 L 963.85 371.36 L 963.95 366.98 L 964.04 278.53 L 964.09 371.92 L 964.14 323.72 L 964.19 261.8 L 964.24 294.26 L 964.29 290.13 L 964.33 356.68 L 964.38 331.52 L 964.43 278.11 L 964.48 409.56 L 964.53 300.47 L 964.58 344.58 L 964.62 332.93 L 964.67 221.13 L 964.72 291.03 L 964.77 326.3 L 964.82 272.16 L 964.87 349.08 L 964.91 300.36 L 964.96 280.05 L 965.11 372.05 L 965.16 353.69 L 965.21 261.5 L 965.25 383.64 L 965.3 289.9 L 965.4 237.73 L 965.54 358.48 L 965.59 278.34 L 965.69 287.64 L 965.88 371.25 L 965.98 348.69 L 966.08 418.64 L 966.13 226.76 L 966.17 403.17 L 966.37 268.11 L 966.46 352 L 966.56 241.66 L 966.61 316.25 L 966.66 281.21 L 966.71 260.59 L 966.76 354.19 L 966.8 321.31 L 966.9 253.44 L 967.05 369.85 L 967.14 289.44 L 967.19 296.97 L 967.24 372.72 L 967.29 280.64 L 967.48 323.93 L 967.53 327.53 L 967.63 271.73 L 967.87 364.62 L 967.92 314.78 L 967.97 317.38 L 968.02 399.99 L 968.06 330.8 L 968.11 312.79 L 968.16 207.25 L 968.26 374.08 L 968.4 265.31 L 968.45 390.31 L 968.5 301.48 L 968.6 370.69 L 968.74 272.87 L 968.79 283.78 L 968.84 351.36 L 968.89 318.11 L 968.94 313.23 L 969.03 269.36 L 969.08 285.88 L 969.13 296.39 L 969.18 407.52 L 969.23 323.05 L 969.27 284.52 L 969.32 303.02 L 969.37 319.55 L 969.42 192.6 L 969.47 287.88 L 969.52 319.74 L 969.57 231.67 L 969.61 367.6 L 969.66 298.61 L 969.71 294.15 L 969.76 421.93 L 969.81 313.37 L 969.9 342.98 L 969.95 278.82 L 970 339.35 L 970.05 476.33 L 970.1 327.71 L 970.15 394.62 L 970.19 240.24 L 970.29 274.19 L 970.34 278.79 L 970.39 294.37 L 970.44 217.58 L 970.49 310.43 L 970.53 309.71 L 970.58 305.4 L 970.63 368.58 L 970.68 325.97 L 970.73 299.81 L 970.78 372.04 L 970.82 281.68 L 970.97 365.73 L 971.12 249.09 L 971.16 376.44 L 971.21 344.59 L 971.36 302.95 L 971.41 308.77 L 971.45 218.62 L 971.5 256.05 L 971.6 321.38 L 971.65 304.52 L 971.7 339.59 L 971.74 300.25 L 971.79 329.18 L 971.89 332.09 L 971.94 158.62 L 972.04 337.74 L 972.08 292.1 L 972.13 281.06 L 972.33 348.58 L 972.37 294.38 L 972.42 418.5 L 972.47 325.25 L 972.52 264.51 L 972.62 279.9 L 972.67 241.43 L 972.81 340.72 L 972.86 266.81 L 972.91 346.42 L 973.1 256.17 L 973.2 415.15 L 973.25 331.39 L 973.29 305.04 L 973.34 313.17 L 973.39 345.65 L 973.49 340.42 L 973.54 277.62 L 973.68 383.85 L 973.83 245.23 L 973.88 327.88 L 973.92 278.24 L 973.97 258.7 L 974.02 401.73 L 974.12 381.28 L 974.17 303.1 L 974.22 309.02 L 974.31 410.86 L 974.36 300.23 L 974.41 340.5 L 974.46 363.72 L 974.51 342.47 L 974.6 300.52 L 974.65 212.02 L 974.7 370.88 L 974.75 320.67 L 974.8 240.65 L 974.85 279.6 L 974.89 279.44 L 975.04 366.28 L 975.09 289.57 L 975.18 307.41 L 975.23 322.91 L 975.28 309.49 L 975.33 261.62 L 975.38 295.79 L 975.43 277.97 L 975.47 210.23 L 975.62 328.14 L 975.67 337.63 L 975.72 425.63 L 975.81 284.92 L 975.86 307.64 L 975.96 309.88 L 976.01 367.84 L 976.06 221.48 L 976.1 335.11 L 976.15 331.34 L 976.2 351.86 L 976.25 337.8 L 976.3 259.77 L 976.35 279.32 L 976.4 372.94 L 976.44 307.2 L 976.49 305.3 L 976.54 322.16 L 976.59 386.57 L 976.64 331.22 L 976.69 302.76 L 976.73 358.17 L 976.78 325.38 L 976.83 334.21 L 976.98 272.94 L 977.07 310.32 L 977.12 254.79 L 977.17 351.4 L 977.22 286.58 L 977.27 307.63 L 977.32 386.02 L 977.36 300.67 L 977.41 285.47 L 977.46 315.35 L 977.51 263.45 L 977.61 433.5 L 977.7 267.1 L 977.8 360.09 L 977.85 316.41 L 977.9 381.32 L 977.95 311.9 L 978.04 269.28 L 978.14 365.17 L 978.19 361.87 L 978.24 269 L 978.28 285.97 L 978.43 370.1 L 978.48 342.6 L 978.53 366.21 L 978.57 221.61 L 978.62 337.84 L 978.67 306.18 L 978.72 412.79 L 978.77 271.71 L 978.82 333.36 L 978.87 371.91 L 978.91 344.92 L 979.01 292.8 L 979.06 356.59 L 979.11 351.52 L 979.25 320.86 L 979.35 321.28 L 979.4 305.24 L 979.64 392.67 L 979.79 241.72 L 979.83 261.58 L 979.88 333.2 L 979.98 326.95 L 980.03 323.09 L 980.08 224.82 L 980.13 238.27 L 980.17 417.74 L 980.27 407.94 L 980.32 264.46 L 980.37 363.73 L 980.42 315.58 L 980.46 365.02 L 980.51 317.65 L 980.66 302.4 L 980.71 346.72 L 980.75 339.74 L 980.8 273.52 L 980.85 327.73 L 980.9 387.74 L 980.95 303.1 L 981 368 L 981.05 344.19 L 981.09 237.16 L 981.14 253.09 L 981.24 353.02 L 981.29 241.6 L 981.34 426.61 L 981.38 380.05 L 981.48 293.6 L 981.53 423.91 L 981.58 337.81 L 981.63 338.33 L 981.68 253.23 L 981.77 417.87 L 981.82 243.11 L 981.87 326.78 L 981.92 299.44 L 982.01 300.81 L 982.06 373.73 L 982.11 272.98 L 982.16 278.64 L 982.21 303.17 L 982.26 251.82 L 982.35 478.24 L 982.4 259.37 L 982.45 308.5 L 982.5 364.82 L 982.64 248.49 L 982.84 354.14 L 982.89 341.38 L 982.93 278.34 L 983.03 278.58 L 983.08 287.93 L 983.18 418.54 L 983.23 320.11 L 983.27 270.51 L 983.32 370.59 L 983.37 279.49 L 983.56 395.22 L 983.66 227.86 L 983.71 288.28 L 983.81 353.84 L 983.85 334.06 L 983.9 279.2 L 983.95 291.01 L 984 316.81 L 984.1 268.26 L 984.24 382.47 L 984.39 258.64 L 984.48 341.15 L 984.53 335.88 L 984.58 290.53 L 984.63 322.37 L 984.68 337.6 L 984.78 346.89 L 984.82 246.81 L 984.92 394.26 L 984.97 273.33 L 985.02 290.49 L 985.26 392.95 L 985.36 296.72 L 985.41 373.25 L 985.45 303.1 L 985.5 319.23 L 985.55 372.78 L 985.6 361.79 L 985.65 352.64 L 985.7 381.06 L 985.84 282.16 L 985.89 327.7 L 985.94 319.64 L 985.99 236.39 L 986.13 374.72 L 986.18 331.38 L 986.23 367.45 L 986.28 350.04 L 986.33 277.08 L 986.37 347.73 L 986.42 380.08 L 986.47 339.25 L 986.66 268.12 L 986.71 316.19 L 986.76 210.19 L 986.81 323.47 L 986.86 330.23 L 986.91 294.84 L 986.96 415.43 L 987 354.17 L 987.05 272.28 L 987.1 301.32 L 987.25 358.37 L 987.34 270.62 L 987.39 384.14 L 987.44 275.64 L 987.49 336.7 L 987.54 288.69 L 987.58 268.56 L 987.73 321.29 L 987.78 284.72 L 987.83 338.08 L 987.88 299.25 L 987.92 298.14 L 988.02 362.42 L 988.07 357.12 L 988.12 273.03 L 988.17 336.72 L 988.21 312.04 L 988.26 226.91 L 988.31 386.09 L 988.36 364.1 L 988.55 241.66 L 988.65 358.41 L 988.7 302.31 L 988.75 325.89 L 988.8 325.39 L 988.84 321.56 L 988.89 329.96 L 988.94 285.24 L 988.99 387.21 L 989.04 219.93 L 989.09 270 L 989.13 293.94 L 989.18 259.63 L 989.23 342.13 L 989.28 313.83 L 989.33 265.73 L 989.38 304.35 L 989.43 310.21 L 989.47 282.29 L 989.62 378.96 L 989.72 298.22 L 989.76 377.36 L 989.81 293.98 L 989.91 250.21 L 990.1 389.62 L 990.15 363.53 L 990.2 364.42 L 990.25 251.31 L 990.3 362.06 L 990.39 292.38 L 990.44 360.95 L 990.49 202.86 L 990.54 341.28 L 990.59 403.08 L 990.64 328.48 L 990.68 365.91 L 990.73 327.3 L 990.78 330.79 L 990.93 210.9 L 990.98 366.61 L 991.02 246.81 L 991.07 226.9 L 991.12 323.14 L 991.17 216.61 L 991.27 295.06 L 991.31 232.73 L 991.36 291.6 L 991.41 334.71 L 991.46 267.9 L 991.56 281.6 L 991.61 280.24 L 991.65 353.13 L 991.7 303.72 L 991.75 287.71 L 991.85 399.15 L 991.9 346.29 L 991.99 287.29 L 992.04 314.92 L 992.09 289.9 L 992.14 285.36 L 992.19 345.89 L 992.28 332.87 L 992.38 267.02 L 992.43 282.87 L 992.48 338.69 L 992.53 285.45 L 992.57 281.73 L 992.72 428.46 L 992.82 257.52 L 992.96 389.18 L 993.11 237.11 L 993.16 374.85 L 993.2 309.18 L 993.3 268 L 993.45 385.97 L 993.54 291.23 L 993.59 346.97 L 993.69 272.23 L 993.79 359.28 L 993.83 355.79 L 993.88 284.17 L 993.93 291.23 L 993.98 364.04 L 994.03 341.4 L 994.17 287.76 L 994.32 361.97 L 994.41 271.83 L 994.46 308.83 L 994.51 330.08 L 994.56 265.63 L 994.61 298.31 L 994.66 392.13 L 994.71 298.49 L 994.75 352.78 L 994.8 331.81 L 994.85 279.08 L 994.9 296.75 L 995 345.77 L 995.04 299.94 L 995.09 365.93 L 995.14 321.5 L 995.19 273.23 L 995.24 321.14 L 995.29 372.92 L 995.38 358.64 L 995.43 331.46 L 995.48 400.5 L 995.53 322.87 L 995.58 326.26 L 995.63 249.21 L 995.67 298.37 L 995.72 401.12 L 995.77 285.63 L 995.82 293.72 L 995.87 400.51 L 995.92 290.46 L 996.06 379.97 L 996.11 352.63 L 996.16 266.43 L 996.26 287.15 L 996.3 344.36 L 996.35 264.72 L 996.4 373.38 L 996.45 353.03 L 996.5 289.17 L 996.55 369.81 L 996.59 312.92 L 996.64 384.34 L 996.69 393.52 L 996.74 289.08 L 996.79 369.19 L 996.84 368.22 L 996.98 283.7 L 997.03 287.78 L 997.13 350.2 L 997.18 339.75 L 997.27 295.25 L 997.32 334.08 L 997.37 329.03 L 997.42 291.81 L 997.47 435.41 L 997.52 335.66 L 997.56 344.63 L 997.61 226.71 L 997.66 297.08 L 997.71 384.62 L 997.76 305.27 L 997.81 307.28 L 997.85 279.91 L 998 375.13 L 998.05 322 L 998.1 341.37 L 998.14 342.02 L 998.19 288.37 L 998.29 301.23 L 998.34 299.93 L 998.44 291.62 L 998.48 258.63 L 998.53 380.15 L 998.58 372.45 L 998.73 266.75 L 998.82 387.67 L 998.87 330.99 L 998.97 340.19 L 999.11 314.32 L 999.16 335.2 L 999.26 231.14 L 999.36 324.28 L 999.4 277.33 L 999.5 378.45 L 999.55 247.21 L 999.6 397.33 L 999.65 382.6 L 999.74 262.38 L 999.79 384.4 L 999.84 328.06 L 999.89 310.58 L 999.94 392.97 L 999.99 309.21 L 1000.03 334.7 L 1000.08 240.98 L 1000.13 368.13 L 1000.18 329.32 L 1000.23 320.96 L 1000.28 342.19 L 1000.32 317.04 L 1000.37 314.62 L 1000.42 337.02 L 1000.47 287.05 L 1000.52 333.39 L 1000.57 366.76 L 1000.62 365.52 L 1000.66 237.5 L 1000.71 262.12 L 1000.76 329.38 L 1000.86 326.83 L 1000.95 271.96 L 1001 354.69 L 1001.05 242.94 L 1001.1 333.03 L 1001.15 318.05 L 1001.2 341 L 1001.24 264.39 L 1001.29 347.13 L 1001.34 285.04 L 1001.39 260.17 L 1001.44 360.86 L 1001.49 357.19 L 1001.54 259.84 L 1001.58 312.87 L 1001.63 377.02 L 1001.73 249.61 L 1001.78 292.91 L 1001.83 284.8 L 1001.87 243.6 L 1001.92 293.09 L 1001.97 359.98 L 1002.02 333.96 L 1002.07 265.76 L 1002.12 340.94 L 1002.17 354.47 L 1002.26 288.97 L 1002.31 316.83 L 1002.36 310.19 L 1002.41 265.44 L 1002.46 357.85 L 1002.55 340.31 L 1002.6 368.1 L 1002.65 334.01 L 1002.75 287.24 L 1002.89 331.18 L 1002.94 283.16 L 1003.04 284.21 L 1003.09 309.45 L 1003.13 300.52 L 1003.18 297.5 L 1003.23 349.56 L 1003.28 329.77 L 1003.33 268.08 L 1003.47 416.89 L 1003.52 403.16 L 1003.57 273.4 L 1003.62 355.22 L 1003.72 376.73 L 1003.81 291.28 L 1003.86 294.77 L 1003.91 383.01 L 1003.96 277.98 L 1004.05 386.55 L 1004.1 241.39 L 1004.15 287.13 L 1004.35 365.12 L 1004.39 232.99 L 1004.44 302.39 L 1004.49 301.11 L 1004.54 268.65 L 1004.59 285.5 L 1004.64 304.66 L 1004.68 303.9 L 1004.73 283.13 L 1004.83 284.96 L 1004.88 300.2 L 1004.93 380.74 L 1004.97 264.55 L 1005.02 310.71 L 1005.07 344.33 L 1005.12 284.98 L 1005.22 295.76 L 1005.27 326.29 L 1005.31 301.98 L 1005.36 311.51 L 1005.41 263.11 L 1005.46 308.79 L 1005.51 292.28 L 1005.65 380.55 L 1005.7 269.93 L 1005.75 282.62 L 1005.9 354.9 L 1005.99 265.39 L 1006.04 394.58 L 1006.09 350.53 L 1006.19 259.58 L 1006.28 377.15 L 1006.33 317.7 L 1006.38 283.9 L 1006.43 294.47 L 1006.52 343.31 L 1006.57 236.65 L 1006.62 345.33 L 1006.72 262.47 L 1006.77 342.56 L 1006.82 276.56 L 1006.86 255.45 L 1006.96 329.07 L 1007.01 263.21 L 1007.06 309.08 L 1007.11 387.02 L 1007.15 307.71 L 1007.2 324.41 L 1007.25 238.91 L 1007.3 241.22 L 1007.45 390.37 L 1007.49 278.05 L 1007.59 288.82 L 1007.64 221.4 L 1007.69 299.34 L 1007.74 286 L 1007.78 377.69 L 1007.83 352.21 L 1007.98 288.76 L 1008.03 385.16 L 1008.08 273.79 L 1008.12 309.6 L 1008.17 302.29 L 1008.27 266.66 L 1008.32 368.98 L 1008.37 285.09 L 1008.41 322.08 L 1008.46 279.86 L 1008.51 307.83 L 1008.56 284.5 L 1008.61 288.67 L 1008.66 247.72 L 1008.75 397.56 L 1008.85 391.86 L 1008.95 410.08 L 1009 325.43 L 1009.09 286.46 L 1009.19 360.11 L 1009.24 326.19 L 1009.33 405.43 L 1009.38 346.52 L 1009.53 284.69 L 1009.63 317.08 L 1009.67 263.17 L 1009.72 438.93 L 1009.77 345.02 L 1009.92 277.24 L 1010.01 337.79 L 1010.11 387.22 L 1010.16 380.89 L 1010.21 292.4 L 1010.25 324.16 L 1010.3 379.52 L 1010.35 272.99 L 1010.4 289.16 L 1010.45 333.45 L 1010.5 223.17 L 1010.55 330.23 L 1010.59 280.82 L 1010.64 383.39 L 1010.69 280.96 L 1010.74 275.6 L 1010.84 370.47 L 1010.98 258.06 L 1011.03 312.22 L 1011.13 304.67 L 1011.18 232.07 L 1011.22 321.89 L 1011.27 345.95 L 1011.32 281.98 L 1011.37 292.93 L 1011.42 372.86 L 1011.47 229.98 L 1011.51 287.71 L 1011.56 326.13 L 1011.61 240.64 L 1011.66 258.66 L 1011.71 319.88 L 1011.76 309.47 L 1011.8 231.89 L 1011.85 282.97 L 1011.95 351.4 L 1012.1 277.45 L 1012.24 370.24 L 1012.29 294.74 L 1012.39 296.69 L 1012.43 290.91 L 1012.48 296.49 L 1012.53 308.17 L 1012.63 430.98 L 1012.73 256.9 L 1012.77 335.1 L 1012.82 276.51 L 1012.87 372.27 L 1012.92 331.46 L 1013.06 235.71 L 1013.16 350.39 L 1013.21 244.8 L 1013.26 303.05 L 1013.31 290.87 L 1013.35 300.89 L 1013.4 302.93 L 1013.45 366.13 L 1013.5 301.75 L 1013.55 291.04 L 1013.6 303.05 L 1013.65 324.05 L 1013.69 253.01 L 1013.74 371.32 L 1013.79 275.27 L 1013.84 226.97 L 1013.89 310.84 L 1013.98 302.21 L 1014.03 273.02 L 1014.18 394.58 L 1014.28 301.16 L 1014.32 305.3 L 1014.37 359.07 L 1014.42 324.12 L 1014.52 231.29 L 1014.61 417.53 L 1014.66 312.69 L 1014.71 271.71 L 1014.76 275.42 L 1014.81 313.75 L 1014.91 313.7 L 1014.95 222.48 L 1015 388.9 L 1015.1 349.36 L 1015.24 361.34 L 1015.34 213.21 L 1015.39 398.51 L 1015.49 362.88 L 1015.53 376.76 L 1015.68 276.84 L 1015.83 408.29 L 1015.92 263.74 L 1015.97 447.39 L 1016.02 250.23 L 1016.16 336.94 L 1016.21 337.99 L 1016.26 337.24 L 1016.36 243.62 L 1016.46 339.78 L 1016.5 261.54 L 1016.6 274.19 L 1016.7 350.57 L 1016.79 236.18 L 1016.84 316.66 L 1016.89 258.43 L 1016.94 258.51 L 1016.99 248.26 L 1017.04 310.81 L 1017.08 275.6 L 1017.13 263.29 L 1017.33 340.4 L 1017.38 310.39 L 1017.52 271.6 L 1017.57 344.03 L 1017.62 284.81 L 1017.67 292.07 L 1017.81 375.09 L 1017.86 331.81 L 1017.91 334.49 L 1017.96 407.68 L 1018.01 390.4 L 1018.1 239.53 L 1018.15 293.97 L 1018.2 391.34 L 1018.25 356.32 L 1018.34 279.62 L 1018.49 349.4 L 1018.59 251.8 L 1018.63 328.88 L 1018.68 313.6 L 1018.83 259.17 L 1018.88 269.81 L 1018.97 371.05 L 1019.07 343.64 L 1019.12 331.88 L 1019.17 288.19 L 1019.22 378.47 L 1019.26 346.8 L 1019.31 324.77 L 1019.36 225.63 L 1019.41 251.57 L 1019.46 307.18 L 1019.56 299.24 L 1019.65 332.53 L 1019.7 319.98 L 1019.75 307.53 L 1019.8 323.89 L 1019.85 278.34 L 1019.99 374.22 L 1020.04 303.27 L 1020.14 307.53 L 1020.19 311.09 L 1020.23 284.04 L 1020.28 289.36 L 1020.33 305.52 L 1020.38 277.26 L 1020.43 344.27 L 1020.48 241.08 L 1020.52 360.42 L 1020.62 309.95 L 1020.67 335.16 L 1020.72 279.15 L 1020.77 346.36 L 1020.86 316.37 L 1020.91 342.04 L 1020.96 317.12 L 1021.01 321.06 L 1021.06 275.97 L 1021.11 295.47 L 1021.15 337.79 L 1021.2 310.4 L 1021.25 277.8 L 1021.3 379.36 L 1021.35 300.13 L 1021.4 277.47 L 1021.49 388.05 L 1021.54 369.95 L 1021.59 350.96 L 1021.64 399.28 L 1021.69 300.71 L 1021.74 350.49 L 1021.78 357.55 L 1021.88 306.3 L 1021.93 322.16 L 1021.98 314.42 L 1022.07 260.77 L 1022.12 281.48 L 1022.17 250.66 L 1022.22 273.95 L 1022.32 328.23 L 1022.36 281.38 L 1022.41 378.18 L 1022.46 303.87 L 1022.51 305.63 L 1022.56 341.64 L 1022.61 297.63 L 1022.66 301.56 L 1022.8 393.25 L 1022.9 280.99 L 1022.95 353.35 L 1023.04 346.23 L 1023.09 380.17 L 1023.14 283.13 L 1023.19 308.3 L 1023.24 382.1 L 1023.29 286.95 L 1023.38 383.75 L 1023.43 230.62 L 1023.53 274.49 L 1023.58 188.21 L 1023.62 274.76 L 1023.67 374.65 L 1023.72 280.87 L 1023.77 235.61 L 1023.82 352.25 L 1023.87 255.11 L 1024.01 338.94 L 1024.06 306.8 L 1024.11 243.35 L 1024.16 312.44 L 1024.21 287.12 L 1024.35 406.38 L 1024.4 230.88 L 1024.5 271.61 L 1024.54 187.56 L 1024.59 332.06 L 1024.69 301.83 L 1024.74 263.7 L 1024.79 274.81 L 1024.84 405.5 L 1024.88 379.42 L 1024.93 273.83 L 1024.98 300.17 L 1025.03 372.52 L 1025.08 270.2 L 1025.13 285.2 L 1025.17 323.4 L 1025.22 278.14 L 1025.27 307.27 L 1025.32 288.01 L 1025.42 243.68 L 1025.51 433.89 L 1025.56 299.44 L 1025.66 378.29 L 1025.71 337.64 L 1025.76 304.26 L 1025.8 309.07 L 1025.85 364.6 L 1025.9 311.39 L 1025.95 290.58 L 1026 320.03 L 1026.09 333.21 L 1026.14 224.21 L 1026.19 328.89 L 1026.24 205.85 L 1026.39 282.27 L 1026.43 264.69 L 1026.58 344.05 L 1026.72 259.47 L 1026.77 392.3 L 1026.82 305.92 L 1026.87 346.98 L 1026.92 222.41 L 1026.97 292.27 L 1027.11 419.01 L 1027.16 245.8 L 1027.21 311.73 L 1027.26 348.93 L 1027.31 290.06 L 1027.35 312.81 L 1027.4 312.79 L 1027.55 386.84 L 1027.6 286.97 L 1027.64 302.84 L 1027.74 383.71 L 1027.89 275.93 L 1027.98 372.46 L 1028.03 345.29 L 1028.08 344.6 L 1028.23 275.5 L 1028.32 317.25 L 1028.37 293.45 L 1028.42 296.38 L 1028.57 394.12 L 1028.71 291.55 L 1028.76 377.4 L 1028.81 299.46 L 1028.95 397.7 L 1029 351 L 1029.05 285.86 L 1029.1 345.37 L 1029.19 356.85 L 1029.24 339.55 L 1029.34 253.39 L 1029.39 329.3 L 1029.49 307.97 L 1029.53 312.3 L 1029.58 366.85 L 1029.63 334.37 L 1029.73 334.7 L 1029.82 278.42 L 1029.87 431.63 L 1029.92 356.04 L 1029.97 321.91 L 1030.02 380.11 L 1030.07 255.95 L 1030.12 308.43 L 1030.21 279.57 L 1030.26 412.54 L 1030.31 305.73 L 1030.36 368.71 L 1030.41 310.03 L 1030.5 347.36 L 1030.65 263.76 L 1030.74 376.36 L 1030.84 346.88 L 1030.89 338.72 L 1030.94 291.92 L 1031.04 296.66 L 1031.08 289.06 L 1031.13 316.82 L 1031.18 276.52 L 1031.23 321.38 L 1031.28 387.69 L 1031.33 282.52 L 1031.37 367.2 L 1031.52 248.12 L 1031.62 354.4 L 1031.67 335.24 L 1031.71 248.69 L 1031.76 315.79 L 1031.81 317.04 L 1031.91 301.96 L 1031.96 381.74 L 1032 316.14 L 1032.05 284.75 L 1032.1 332.15 L 1032.15 312.86 L 1032.2 315.03 L 1032.25 325.45 L 1032.3 361.72 L 1032.34 333.59 L 1032.39 340.04 L 1032.49 245.21 L 1032.54 394.53 L 1032.59 328.77 L 1032.63 323.87 L 1032.68 355.27 L 1032.73 235.51 L 1032.78 326.14 L 1032.83 390.13 L 1032.88 348.64 L 1032.92 251.93 L 1032.97 359.06 L 1033.02 333.93 L 1033.07 359.35 L 1033.12 374.36 L 1033.22 271.22 L 1033.26 377.29 L 1033.31 225.36 L 1033.36 306.19 L 1033.41 377.11 L 1033.46 292.68 L 1033.55 321.68 L 1033.6 298.64 L 1033.65 185.33 L 1033.7 301.28 L 1033.75 290.37 L 1033.8 361.21 L 1033.85 238.14 L 1033.89 300.28 L 1033.99 350.48 L 1034.04 289.82 L 1034.09 314.33 L 1034.18 353.48 L 1034.38 260.94 L 1034.57 410.67 L 1034.72 266.73 L 1034.77 291.23 L 1034.81 402.6 L 1034.86 209.56 L 1034.91 260.32 L 1034.96 361.32 L 1035.01 332.11 L 1035.06 277.13 L 1035.1 306.6 L 1035.2 320.67 L 1035.25 276.24 L 1035.3 448.62 L 1035.35 249.62 L 1035.4 329.91 L 1035.44 320.99 L 1035.49 263.05 L 1035.54 331.13 L 1035.59 332.72 L 1035.64 309.92 L 1035.69 345.85 L 1035.73 326.66 L 1035.83 301.81 L 1035.88 383.45 L 1035.93 363.31 L 1036.02 270.77 L 1036.07 309.23 L 1036.12 310.81 L 1036.22 326.44 L 1036.27 281.71 L 1036.32 306.81 L 1036.41 360 L 1036.56 264.15 L 1036.65 403.77 L 1036.7 287.51 L 1036.8 297.9" clip-path="url(#pf2e12d0631)" style="fill: none; stroke: #4c72b0; stroke-opacity: 0.5; stroke-width: 1.78; stroke-linecap: round"/>
</g>
<g id="line2d_36">
<path d="M 144 314.63 L 1036.8 314.63 L 1036.8 314.63" clip-path="url(#pf2e12d0631)" style="fill: none; stroke: #dd8452; stroke-opacity: 0.5; stroke-width: 1.5; stroke-linecap: round"/>
</g>
<g id="patch_3">
<path d="M 144.23 512.64 L 144.23 69.12" style="fill: none; stroke: #ffffff; stroke-width: 1.25; stroke-linejoin: miter; stroke-linecap: square"/>
</g>
<g id="patch_4">
<path d="M 1036.74 512.64 L 1036.74 69.12" style="fill: none; stroke: #ffffff; stroke-width: 1.25; stroke-linejoin: miter; stroke-linecap: square"/>
</g>
<g id="patch_5">
<path d="M 144 512.58 L 1036.8 512.58" style="fill: none; stroke: #ffffff; stroke-width: 1.25; stroke-linejoin: miter; stroke-linecap: square"/>
</g>
<g id="patch_6">
<path d="M 144 69.21 L 1036.8 69.21" style="fill: none; stroke: #ffffff; stroke-width: 1.25; stroke-linejoin: miter; stroke-linecap: square"/>
</g>
<g id="text_29">
<text style="font-size: 12px; font-family: 'DejaVu Sans', sans-serif; text-anchor: middle; fill: #262626" x="590.4" y="63.12" transform="translate(0.180 -0.216) rotate(-0 590.4 63.12)">stats at each timestep for test data 14699 [signal=0]</text>
</g>
</g>
<g id="axes_2">
<g id="matplotlib.axis_3">
<g id="ytick_9">
<g id="line2d_37">
<path d="M 144 492.84 L 1036.8 492.84" clip-path="url(#pf2e12d0631)" style="fill: none; stroke: #ffffff; stroke-linecap: round"/>
</g>
<g id="line2d_38">
<g>
<path d="M 1036.8 492.48 L 1042.8 492.48" style="fill: none; stroke: #262626; stroke-width: 1.25"/>
</g>
</g>
<g id="text_30">
<text style="font-size: 11px; font-family: 'DejaVu Sans', sans-serif; text-anchor: start; fill: #262626" x="1046.3" y="496.659141" transform="translate(-0.180 0.000) rotate(-0 1046.3 496.659141)">0.0</text>
</g>
</g>
<g id="ytick_10">
<g id="line2d_39">
<path d="M 144 452.52 L 1036.8 452.52" clip-path="url(#pf2e12d0631)" style="fill: none; stroke: #ffffff; stroke-linecap: round"/>
</g>
<g id="line2d_40">
<g>
<path d="M 1036.8 452.16 L 1042.8 452.16" style="fill: none; stroke: #262626; stroke-width: 1.25"/>
</g>
</g>
<g id="text_31">
<text style="font-size: 11px; font-family: 'DejaVu Sans', sans-serif; text-anchor: start; fill: #262626" x="1046.3" y="456.339141" transform="translate(-0.180 0.000) rotate(-0 1046.3 456.339141)">0.1</text>
</g>
</g>
<g id="ytick_11">
<g id="line2d_41">
<path d="M 144 412.2 L 1036.8 412.2" clip-path="url(#pf2e12d0631)" style="fill: none; stroke: #ffffff; stroke-linecap: round"/>
</g>
<g id="line2d_42">
<g>
<path d="M 1036.8 411.84 L 1042.8 411.84" style="fill: none; stroke: #262626; stroke-width: 1.25"/>
</g>
</g>
<g id="text_32">
<text style="font-size: 11px; font-family: 'DejaVu Sans', sans-serif; text-anchor: start; fill: #262626" x="1046.3" y="416.019141" transform="translate(-0.180 0.000) rotate(-0 1046.3 416.019141)">0.2</text>
</g>
</g>
<g id="ytick_12">
<g id="line2d_43">
<path d="M 144 371.88 L 1036.8 371.88" clip-path="url(#pf2e12d0631)" style="fill: none; stroke: #ffffff; stroke-linecap: round"/>
</g>
<g id="line2d_44">
<g>
<path d="M 1036.8 371.52 L 1042.8 371.52" style="fill: none; stroke: #262626; stroke-width: 1.25"/>
</g>
</g>
<g id="text_33">
<text style="font-size: 11px; font-family: 'DejaVu Sans', sans-serif; text-anchor: start; fill: #262626" x="1046.3" y="375.699141" transform="translate(-0.180 0.000) rotate(-0 1046.3 375.699141)">0.3</text>
</g>
</g>
<g id="ytick_13">
<g id="line2d_45">
<path d="M 144 331.56 L 1036.8 331.56" clip-path="url(#pf2e12d0631)" style="fill: none; stroke: #ffffff; stroke-linecap: round"/>
</g>
<g id="line2d_46">
<g>
<path d="M 1036.8 331.2 L 1042.8 331.2" style="fill: none; stroke: #262626; stroke-width: 1.25"/>
</g>
</g>
<g id="text_34">
<text style="font-size: 11px; font-family: 'DejaVu Sans', sans-serif; text-anchor: start; fill: #262626" x="1046.3" y="335.379141" transform="translate(-0.180 0.000) rotate(-0 1046.3 335.379141)">0.4</text>
</g>
</g>
<g id="ytick_14">
<g id="line2d_47">
<path d="M 144 291.24 L 1036.8 291.24" clip-path="url(#pf2e12d0631)" style="fill: none; stroke: #ffffff; stroke-linecap: round"/>
</g>
<g id="line2d_48">
<g>
<path d="M 1036.8 290.88 L 1042.8 290.88" style="fill: none; stroke: #262626; stroke-width: 1.25"/>
</g>
</g>
<g id="text_35">
<text style="font-size: 11px; font-family: 'DejaVu Sans', sans-serif; text-anchor: start; fill: #262626" x="1046.3" y="295.059141" transform="translate(-0.180 0.000) rotate(-0 1046.3 295.059141)">0.5</text>
</g>
</g>
<g id="ytick_15">
<g id="line2d_49">
<path d="M 144 250.92 L 1036.8 250.92" clip-path="url(#pf2e12d0631)" style="fill: none; stroke: #ffffff; stroke-linecap: round"/>
</g>
<g id="line2d_50">
<g>
<path d="M 1036.8 250.56 L 1042.8 250.56" style="fill: none; stroke: #262626; stroke-width: 1.25"/>
</g>
</g>
<g id="text_36">
<text style="font-size: 11px; font-family: 'DejaVu Sans', sans-serif; text-anchor: start; fill: #262626" x="1046.3" y="254.739141" transform="translate(-0.180 0.000) rotate(-0 1046.3 254.739141)">0.6</text>
</g>
</g>
<g id="ytick_16">
<g id="line2d_51">
<path d="M 144 210.6 L 1036.8 210.6" clip-path="url(#pf2e12d0631)" style="fill: none; stroke: #ffffff; stroke-linecap: round"/>
</g>
<g id="line2d_52">
<g>
<path d="M 1036.8 210.24 L 1042.8 210.24" style="fill: none; stroke: #262626; stroke-width: 1.25"/>
</g>
</g>
<g id="text_37">
<text style="font-size: 11px; font-family: 'DejaVu Sans', sans-serif; text-anchor: start; fill: #262626" x="1046.3" y="214.419141" transform="translate(-0.180 0.000) rotate(-0 1046.3 214.419141)">0.7</text>
</g>
</g>
<g id="ytick_17">
<g id="line2d_53">
<path d="M 144 170.28 L 1036.8 170.28" clip-path="url(#pf2e12d0631)" style="fill: none; stroke: #ffffff; stroke-linecap: round"/>
</g>
<g id="line2d_54">
<g>
<path d="M 1036.8 169.92 L 1042.8 169.92" style="fill: none; stroke: #262626; stroke-width: 1.25"/>
</g>
</g>
<g id="text_38">
<text style="font-size: 11px; font-family: 'DejaVu Sans', sans-serif; text-anchor: start; fill: #262626" x="1046.3" y="174.099141" transform="translate(-0.180 0.000) rotate(-0 1046.3 174.099141)">0.8</text>
</g>
</g>
<g id="ytick_18">
<g id="line2d_55">
<path d="M 144 129.96 L 1036.8 129.96" clip-path="url(#pf2e12d0631)" style="fill: none; stroke: #ffffff; stroke-linecap: round"/>
</g>
<g id="line2d_56">
<g>
<path d="M 1036.8 129.6 L 1042.8 129.6" style="fill: none; stroke: #262626; stroke-width: 1.25"/>
</g>
</g>
<g id="text_39">
<text style="font-size: 11px; font-family: 'DejaVu Sans', sans-serif; text-anchor: start; fill: #262626" x="1046.3" y="133.779141" transform="translate(-0.180 0.000) rotate(-0 1046.3 133.779141)">0.9</text>
</g>
</g>
<g id="ytick_19">
<g id="line2d_57">
<path d="M 144 89.64 L 1036.8 89.64" clip-path="url(#pf2e12d0631)" style="fill: none; stroke: #ffffff; stroke-linecap: round"/>
</g>
<g id="line2d_58">
<g>
<path d="M 1036.8 89.28 L 1042.8 89.28" style="fill: none; stroke: #262626; stroke-width: 1.25"/>
</g>
</g>
<g id="text_40">
<text style="font-size: 11px; font-family: 'DejaVu Sans', sans-serif; text-anchor: start; fill: #262626" x="1046.3" y="93.459141" transform="translate(-0.180 0.000) rotate(-0 1046.3 93.459141)">1.0</text>
</g>
</g>
<g id="text_41">
<text style="font-size: 12px; font-family: 'DejaVu Sans', sans-serif; text-anchor: middle; fill: #262626" x="1076.911562" y="290.88" transform="translate(-0.180 0.720) rotate(-90 1076.911562 290.88)">Detection probability/MF</text>
</g>
</g>
<g id="LineCollection_1">
<path d="M 168.48 492.48 L 168.48 89.28" clip-path="url(#pf2e12d0631)" style="fill: none; stroke: #1a1a1a; stroke-opacity: 0.5; stroke-width: 1.5"/>
<path d="M 193.68 492.48 L 193.68 89.28" clip-path="url(#pf2e12d0631)" style="fill: none; stroke: #1a1a1a; stroke-opacity: 0.5; stroke-width: 1.5"/>
</g>
<g id="line2d_59">
<path d="M 144 396.52 L 150.2 492.48 L 162.6 492.48 L 168.8 492.08 L 175 89.48 L 181.2 89.28 L 187.4 89.28 L 193.6 90.49 L 199.8 492.48 L 813.64 492.48 L 819.84 491.27 L 826.04 492.48 L 974.85 492.48 L 981.05 492.08 L 987.25 492.48 L 1005.85 492.48 L 1012.05 490.18 L 1018.25 492.48 L 1030.65 492.48 L 1030.65 492.48" clip-path="url(#pf2e12d0631)" style="fill: none; stroke: #55a868; stroke-width: 1.5; stroke-linecap: round"/>
</g>
<g id="patch_7">
<path d="M 144.23 512.64 L 144.23 69.12" style="fill: none; stroke: #ffffff; stroke-width: 1.25; stroke-linejoin: miter; stroke-linecap: square"/>
</g>
<g id="patch_8">
<path d="M 1036.74 512.64 L 1036.74 69.12" style="fill: none; stroke: #ffffff; stroke-width: 1.25; stroke-linejoin: miter; stroke-linecap: square"/>
</g>
<g id="patch_9">
<path d="M 144 512.58 L 1036.8 512.58" style="fill: none; stroke: #ffffff; stroke-width: 1.25; stroke-linejoin: miter; stroke-linecap: square"/>
</g>
<g id="patch_10">
<path d="M 144 69.21 L 1036.8 69.21" style="fill: none; stroke: #ffffff; stroke-width: 1.25; stroke-linejoin: miter; stroke-linecap: square"/>
</g>
<g id="text_42">
<text style="font-size: 15px; font-family: 'DejaVu Sans', sans-serif; text-anchor: start; fill: #262626" x="163.841076" y="89.28" transform="translate(-0.360 0.000) rotate(-0 163.841076 89.28)">SNR_opt=0.0</text>
</g>
<g id="text_43">
<!-- $SNR_MF$=[4.61] -->
<g style="fill: #262626" transform="translate(0.360 0.720) translate(401.933994 89.28)">
<text>
<tspan x="0" y="-0.609375" style="font-style: oblique; font-size: 15px; font-family: 'DejaVu Sans', sans-serif; fill: #262626">S</tspan>
<tspan x="9.521484" y="-0.609375" style="font-style: oblique; font-size: 15px; font-family: 'DejaVu Sans', sans-serif; fill: #262626">N</tspan>
<tspan x="20.742188" y="-0.609375" style="font-style: oblique; font-size: 15px; font-family: 'DejaVu Sans', sans-serif; fill: #262626">R</tspan>
<tspan x="40.634033" y="-0.609375" style="font-style: oblique; font-size: 15px; font-family: 'DejaVu Sans', sans-serif; fill: #262626">F</tspan>
<tspan x="31.164551" y="1.851562" style="font-style: oblique; font-size: 10.5px; font-family: 'DejaVu Sans', sans-serif; fill: #262626">M</tspan>
<tspan x="49.261963" y="-0.609375" style="font-size: 15px; font-family: 'DejaVu Sans', sans-serif; fill: #262626">=</tspan>
<tspan x="61.830322" y="-0.609375" style="font-size: 15px; font-family: 'DejaVu Sans', sans-serif; fill: #262626">[</tspan>
<tspan x="67.682373" y="-0.609375" style="font-size: 15px; font-family: 'DejaVu Sans', sans-serif; fill: #262626">4</tspan>
<tspan x="77.22583" y="-0.609375" style="font-size: 15px; font-family: 'DejaVu Sans', sans-serif; fill: #262626">.</tspan>
<tspan x="81.993896" y="-0.609375" style="font-size: 15px; font-family: 'DejaVu Sans', sans-serif; fill: #262626">6</tspan>
<tspan x="91.537354" y="-0.609375" style="font-size: 15px; font-family: 'DejaVu Sans', sans-serif; fill: #262626">1</tspan>
<tspan x="101.080811" y="-0.609375" style="font-size: 15px; font-family: 'DejaVu Sans', sans-serif; fill: #262626">]</tspan>
</text>
</g>
</g>
<g id="text_44">
<!-- $S$=0.01 -->
<g style="fill: #262626" transform="translate(0.720 0.720) translate(699.550141 89.28)">
<text>
<tspan x="0" y="-0.859375" style="font-style: oblique; font-size: 15px; font-family: 'DejaVu Sans', sans-serif; fill: #262626">S</tspan>
<tspan x="9.521484" y="-0.859375" style="font-size: 15px; font-family: 'DejaVu Sans', sans-serif; fill: #262626">=</tspan>
<tspan x="22.089844" y="-0.859375" style="font-size: 15px; font-family: 'DejaVu Sans', sans-serif; fill: #262626">0</tspan>
<tspan x="31.633301" y="-0.859375" style="font-size: 15px; font-family: 'DejaVu Sans', sans-serif; fill: #262626">.</tspan>
<tspan x="36.401367" y="-0.859375" style="font-size: 15px; font-family: 'DejaVu Sans', sans-serif; fill: #262626">0</tspan>
<tspan x="45.944824" y="-0.859375" style="font-size: 15px; font-family: 'DejaVu Sans', sans-serif; fill: #262626">1</tspan>
</text>
</g>
</g>
<g id="text_45">
<!-- $M_c$=9.43 -->
<g style="fill: #262626" transform="translate(0.360 0.720) translate(798.755523 89.28)">
<text>
<tspan x="0" y="-0.859375" style="font-style: oblique; font-size: 15px; font-family: 'DejaVu Sans', sans-serif; fill: #262626">M</tspan>
<tspan x="12.941895" y="1.601562" style="font-style: oblique; font-size: 10.5px; font-family: 'DejaVu Sans', sans-serif; fill: #262626">c</tspan>
<tspan x="19.125" y="-0.859375" style="font-size: 15px; font-family: 'DejaVu Sans', sans-serif; fill: #262626">=</tspan>
<tspan x="31.693359" y="-0.859375" style="font-size: 15px; font-family: 'DejaVu Sans', sans-serif; fill: #262626">9</tspan>
<tspan x="41.236816" y="-0.859375" style="font-size: 15px; font-family: 'DejaVu Sans', sans-serif; fill: #262626">.</tspan>
<tspan x="46.004883" y="-0.859375" style="font-size: 15px; font-family: 'DejaVu Sans', sans-serif; fill: #262626">4</tspan>
<tspan x="55.54834" y="-0.859375" style="font-size: 15px; font-family: 'DejaVu Sans', sans-serif; fill: #262626">3</tspan>
</text>
</g>
</g>
<g id="legend_1">
<g id="patch_11">
<path d="M 232.59 518.67 L 352.85 518.67 Q 355.05 518.67 355.05 516.47 L 355.05 469.13 Q 355.05 466.93 352.85 466.93 L 232.59 466.93 Q 230.39 466.93 230.39 469.13 L 230.39 516.47 Q 230.39 518.67 232.59 518.67 z" transform="translate(0.36 0)" style="fill: #eaeaf2; opacity: 0.8; stroke: #cccccc; stroke-linejoin: miter"/>
</g>
<g id="line2d_60">
<path d="M 234.79 475.84 L 245.79 475.84 L 256.79 475.84" style="fill: none; stroke: #4c72b0; stroke-opacity: 0.5; stroke-width: 1.5; stroke-linecap: round"/>
</g>
<g id="text_46">
<text style="font-size: 11px; font-family: 'DejaVu Sans', sans-serif; text-anchor: start; fill: #262626" x="265.58768" y="479.691989" transform="translate(0.180 0.000) rotate(-0 265.58768 479.691989)">signal+ noise</text>
</g>
<g id="line2d_61">
<path d="M 234.79 491.99 L 245.79 491.99 L 256.79 491.99" style="fill: none; stroke: #dd8452; stroke-opacity: 0.5; stroke-width: 1.5; stroke-linecap: round"/>
</g>
<g id="text_47">
<text style="font-size: 11px; font-family: 'DejaVu Sans', sans-serif; text-anchor: start; fill: #262626" x="265.58768" y="495.837926" transform="translate(0.180 0.000) rotate(-0 265.58768 495.837926)">signal only</text>
</g>
<g id="line2d_62">
<path d="M 234.79 508.13 L 245.79 508.13 L 256.79 508.13" style="fill: none; stroke: #55a868; stroke-width: 1.5; stroke-linecap: round"/>
</g>
<g id="text_48">
<text style="font-size: 11px; font-family: 'DejaVu Sans', sans-serif; text-anchor: start; fill: #262626" x="265.58768" y="511.983864" transform="translate(0.180 0.000) rotate(-0 265.58768 511.983864)">signal statistics</text>
</g>
</g>
</g>
</g>
<defs>
<clipPath id="pf2e12d0631">
<rect x="144" y="69.12" width="892.8" height="443.52"/>
</clipPath>
</defs>
</svg>

</body></html>
